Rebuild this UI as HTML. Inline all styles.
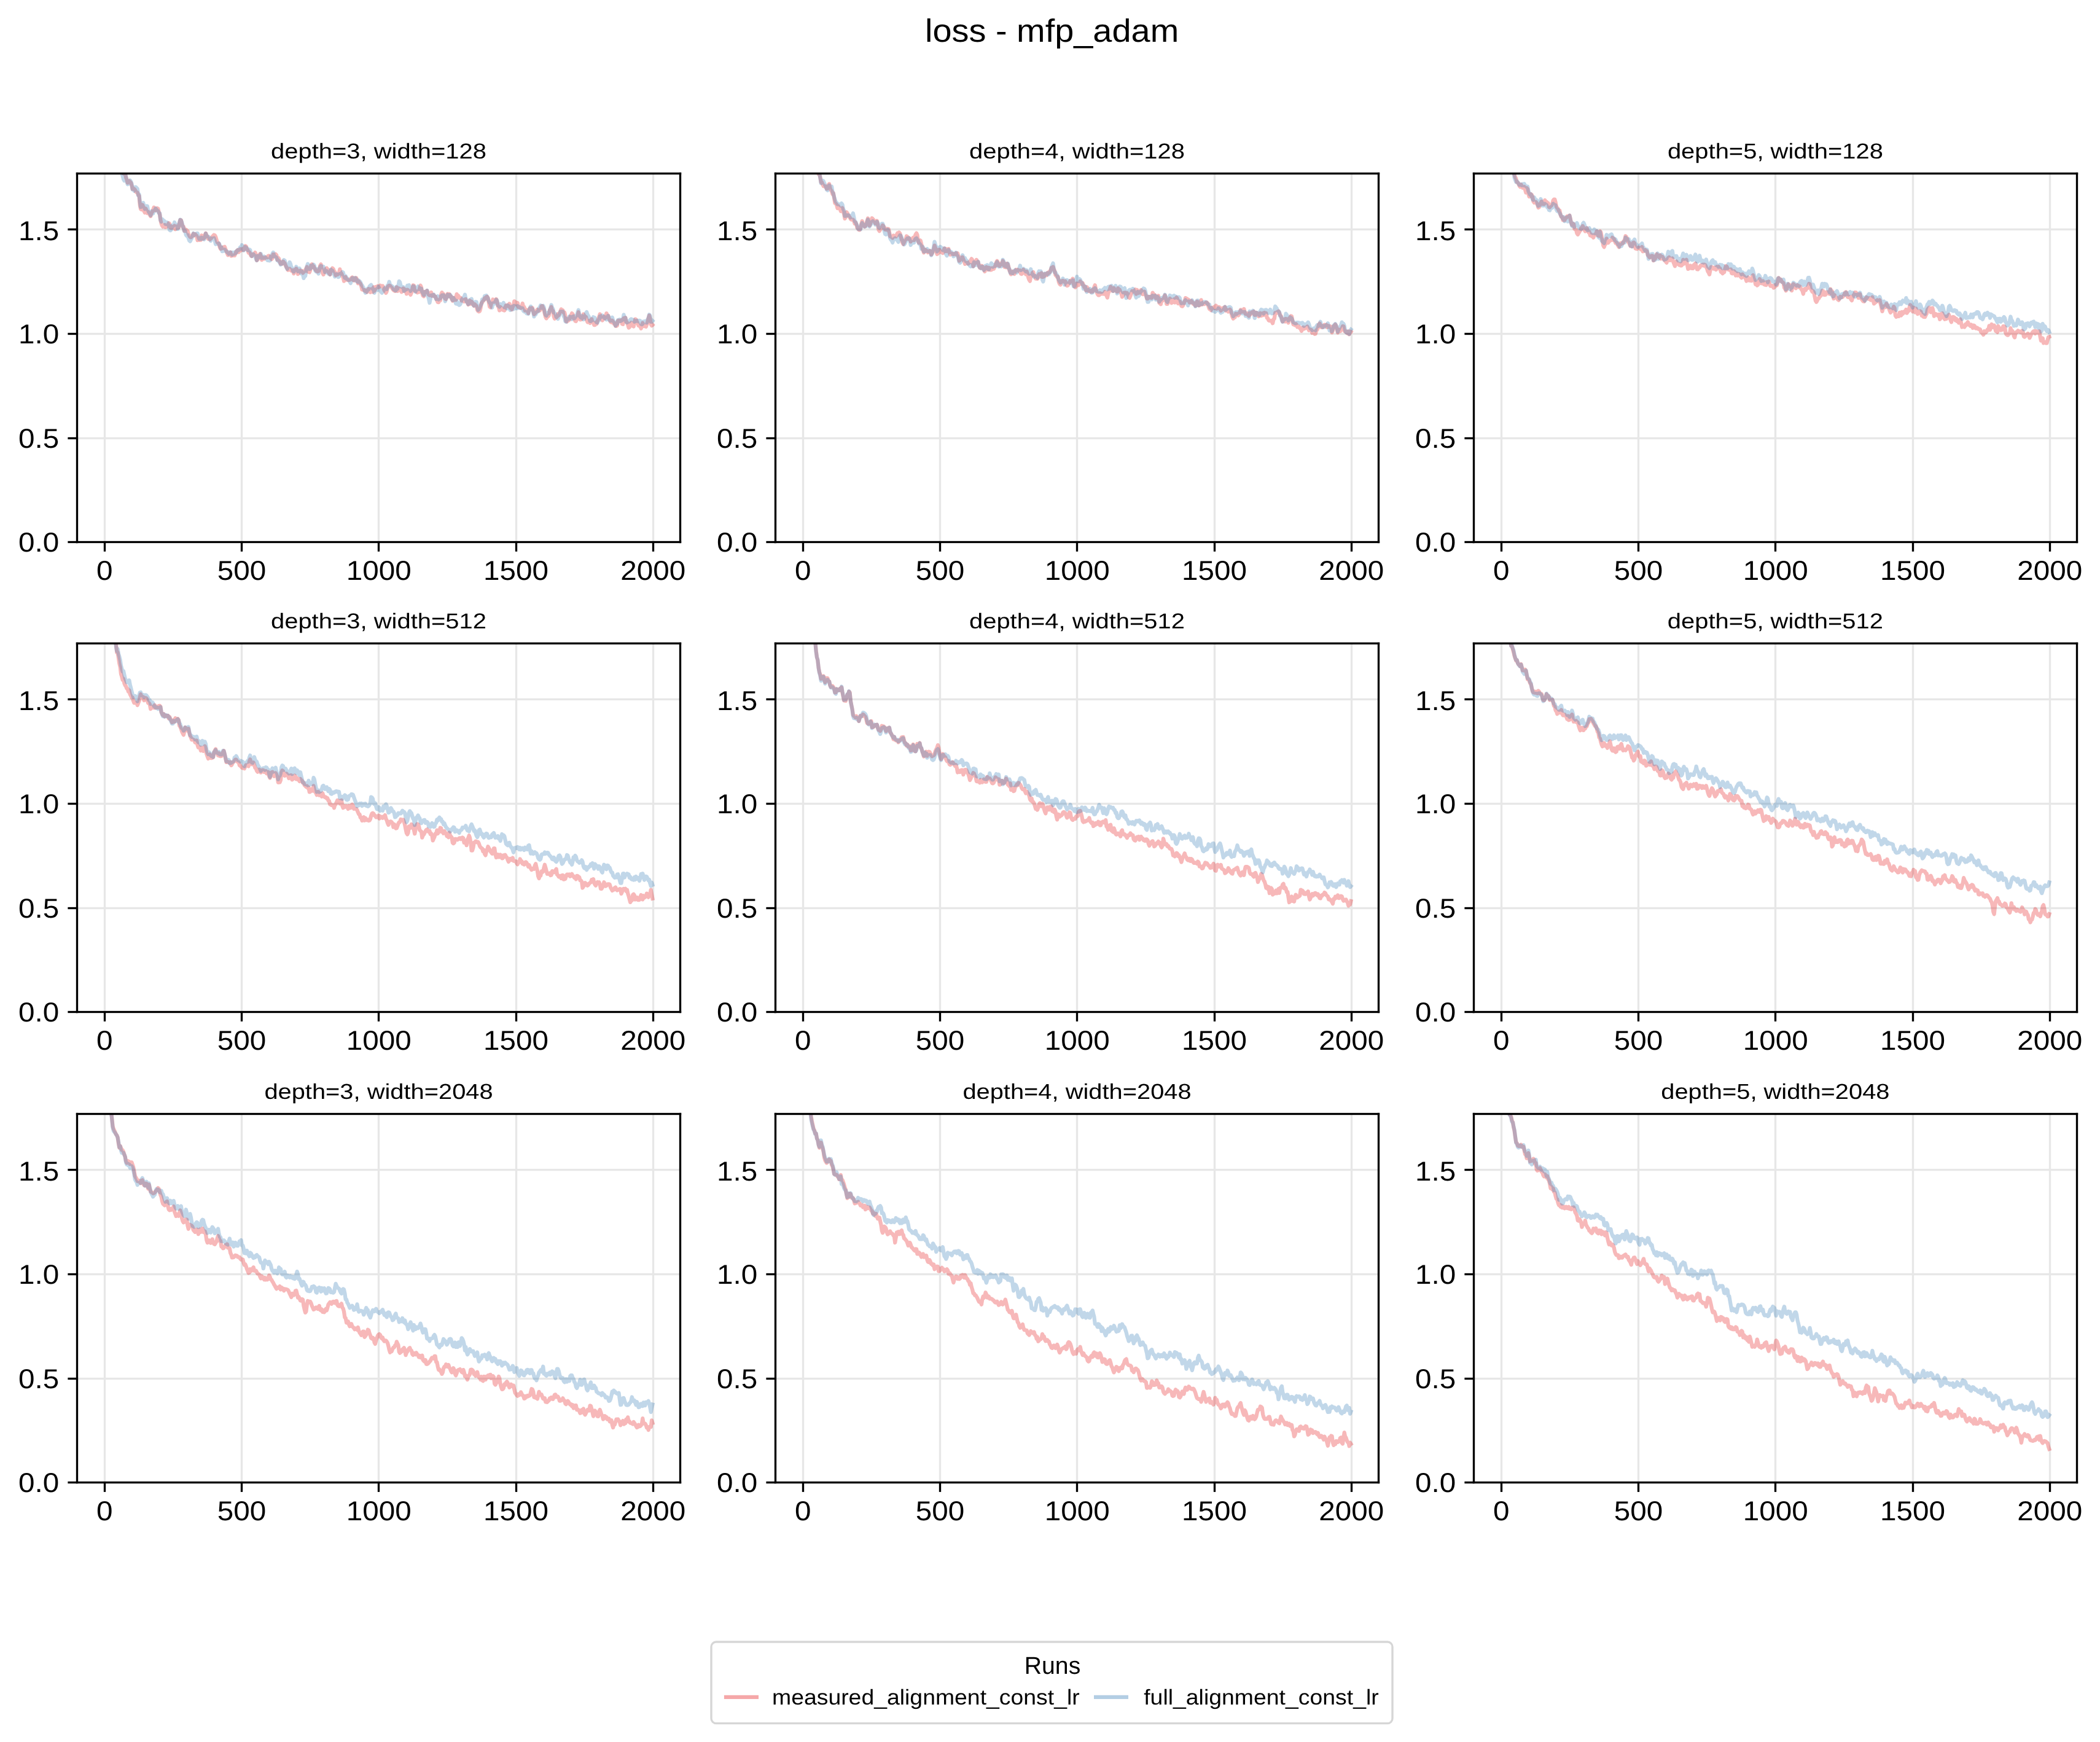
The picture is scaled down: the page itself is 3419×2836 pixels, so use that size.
<!DOCTYPE html><html><head><meta charset="utf-8"><title>loss - mfp_adam</title><style>
html,body{margin:0;padding:0;background:#fff;width:3419px;height:2836px;overflow:hidden}
text{font-family:"Liberation Sans",sans-serif;fill:#000;text-rendering:geometricPrecision}
.tl{font-size:44.5px}
.st{font-size:35.0px}
.sup{font-size:52.5px}
.lt8{font-size:35.0px}
.lt9{font-size:39.7px}
</style></head><body>
<svg width="3419" height="2836" viewBox="0 0 3419 2836" style="display:block;will-change:transform">
<rect width="100%" height="100%" fill="#ffffff"/>
<defs><clipPath id="c00"><rect x="125.5" y="282.8" width="981.9" height="600.0"/></clipPath><clipPath id="c01"><rect x="1262.5" y="282.8" width="981.9" height="600.0"/></clipPath><clipPath id="c02"><rect x="2399.5" y="282.8" width="981.9" height="600.0"/></clipPath><clipPath id="c10"><rect x="125.5" y="1047.8" width="981.9" height="600.0"/></clipPath><clipPath id="c11"><rect x="1262.5" y="1047.8" width="981.9" height="600.0"/></clipPath><clipPath id="c12"><rect x="2399.5" y="1047.8" width="981.9" height="600.0"/></clipPath><clipPath id="c20"><rect x="125.5" y="1813.8" width="981.9" height="600.0"/></clipPath><clipPath id="c21"><rect x="1262.5" y="1813.8" width="981.9" height="600.0"/></clipPath><clipPath id="c22"><rect x="2399.5" y="1813.8" width="981.9" height="600.0"/></clipPath></defs>
<rect x="168.833" y="282.8" width="3.333" height="600.0" fill="#e7e7e7"/><rect x="391.833" y="282.8" width="3.333" height="600.0" fill="#e7e7e7"/><rect x="614.833" y="282.8" width="3.333" height="600.0" fill="#e7e7e7"/><rect x="838.833" y="282.8" width="3.333" height="600.0" fill="#e7e7e7"/><rect x="1061.833" y="282.8" width="3.333" height="600.0" fill="#e7e7e7"/><rect x="125.5" y="711.833" width="981.9" height="3.333" fill="#e7e7e7"/><rect x="125.5" y="541.833" width="981.9" height="3.333" fill="#e7e7e7"/><rect x="125.5" y="371.833" width="981.9" height="3.333" fill="#e7e7e7"/><g clip-path="url(#c00)"><path d="M170.2,86.9 171.5,102.7 172.9,124.9 174.2,142.4 175.6,158.3 176.9,168.3 178.2,183.8 179.6,194.4 180.9,199.8 182.3,198.0 183.6,203.4 184.9,214.4 186.3,222.5 187.6,230.0 189.0,238.3 190.3,245.8 191.6,252.1 193.0,261.3 194.3,267.0 195.7,272.3 197.0,273.1 198.3,273.4 199.7,281.8 201.0,282.3 202.4,283.3 203.7,280.9 205.0,288.6 206.4,292.2 207.7,297.6 209.0,295.5 210.4,294.8 211.7,296.2 213.1,297.4 214.4,301.9 215.7,307.7 217.1,306.7 218.4,307.6 219.8,309.1 221.1,312.1 222.4,313.2 223.8,313.6 225.1,317.1 226.5,318.7 227.8,334.1 229.1,340.4 230.5,341.1 231.8,333.5 233.2,336.3 234.5,343.6 235.8,346.2 237.2,339.5 238.5,342.7 239.9,347.1 241.2,344.7 242.5,347.5 243.9,349.5 245.2,352.0 246.6,346.8 247.9,345.0 249.2,341.8 250.6,337.8 251.9,339.0 253.3,342.5 254.6,339.8 255.9,338.9 257.3,339.7 258.6,344.8 260.0,348.5 261.3,358.0 262.6,363.9 264.0,367.4 265.3,369.1 266.7,366.6 268.0,366.1 269.3,369.9 270.7,369.3 272.0,369.0 273.4,366.6 274.7,363.1 276.0,364.3 277.4,370.6 278.7,371.0 280.1,369.2 281.4,370.6 282.7,369.7 284.1,367.6 285.4,373.2 286.7,371.7 288.1,368.6 289.4,370.8 290.8,370.7 292.1,363.4 293.4,358.2 294.8,358.3 296.1,363.9 297.5,369.5 298.8,368.9 300.1,375.8 301.5,375.8 302.8,373.8 304.2,376.5 305.5,376.2 306.8,380.8 308.2,383.8 309.5,385.7 310.9,386.4 312.2,385.1 313.5,383.6 314.9,380.5 316.2,383.3 317.6,381.2 318.9,382.9 320.2,384.1 321.6,391.1 322.9,387.3 324.3,390.8 325.6,390.6 326.9,390.7 328.3,383.2 329.6,385.9 331.0,388.4 332.3,387.4 333.6,382.6 335.0,379.7 336.3,383.4 337.7,385.4 339.0,389.0 340.3,389.1 341.7,389.9 343.0,388.3 344.4,387.4 345.7,385.3 347.0,384.0 348.4,382.5 349.7,383.1 351.1,385.6 352.4,390.0 353.7,394.5 355.1,395.4 356.4,396.8 357.8,402.4 359.1,405.2 360.4,404.5 361.8,402.7 363.1,403.9 364.4,402.3 365.8,401.7 367.1,405.5 368.5,408.7 369.8,412.3 371.1,415.3 372.5,413.3 373.8,412.5 375.2,410.7 376.5,416.7 377.8,415.6 379.2,416.1 380.5,415.4 381.9,416.0 383.2,413.4 384.5,409.9 385.9,408.3 387.2,407.0 388.6,410.5 389.9,407.8 391.2,405.4 392.6,407.6 393.9,405.8 395.3,405.2 396.6,406.8 397.9,403.5 399.3,400.4 400.6,401.0 402.0,405.7 403.3,407.0 404.6,411.5 406.0,410.5 407.3,413.3 408.7,416.5 410.0,417.0 411.3,413.9 412.7,413.8 414.0,414.2 415.4,411.0 416.7,414.9 418.0,423.8 419.4,422.6 420.7,419.5 422.1,415.4 423.4,413.3 424.7,417.1 426.1,423.1 427.4,418.9 428.8,420.7 430.1,421.3 431.4,419.7 432.8,418.7 434.1,419.0 435.5,419.0 436.8,416.5 438.1,416.4 439.5,418.7 440.8,420.2 442.1,422.0 443.5,420.3 444.8,414.0 446.2,417.0 447.5,415.4 448.8,413.9 450.2,415.4 451.5,423.0 452.9,419.7 454.2,421.3 455.5,426.0 456.9,429.6 458.2,427.4 459.6,429.5 460.9,425.7 462.2,427.1 463.6,428.5 464.9,432.1 466.3,434.8 467.6,436.9 468.9,439.6 470.3,438.6 471.6,437.5 473.0,439.5 474.3,440.7 475.6,439.8 477.0,440.6 478.3,445.4 479.7,439.5 481.0,439.9 482.3,437.2 483.7,440.0 485.0,446.1 486.4,444.4 487.7,441.4 489.0,440.3 490.4,441.3 491.7,440.9 493.1,444.4 494.4,442.7 495.7,441.7 497.1,439.7 498.4,437.2 499.8,434.6 501.1,442.1 502.4,442.6 503.8,443.3 505.1,439.9 506.5,431.8 507.8,430.3 509.1,434.3 510.5,433.5 511.8,436.7 513.2,438.2 514.5,440.2 515.8,441.5 517.2,442.1 518.5,441.4 519.8,438.3 521.2,432.6 522.5,430.4 523.9,438.6 525.2,444.3 526.5,447.0 527.9,443.8 529.2,440.7 530.6,437.6 531.9,436.6 533.2,438.2 534.6,443.2 535.9,444.5 537.3,447.1 538.6,439.8 539.9,440.0 541.3,436.6 542.6,437.9 544.0,441.9 545.3,442.8 546.6,448.2 548.0,446.7 549.3,447.0 550.7,446.3 552.0,443.9 553.3,438.4 554.7,444.8 556.0,445.2 557.4,449.3 558.7,451.6 560.0,457.6 561.4,452.6 562.7,451.1 564.1,455.5 565.4,455.1 566.7,456.1 568.1,456.0 569.4,455.5 570.8,454.5 572.1,452.7 573.4,451.6 574.8,455.9 576.1,456.7 577.5,454.5 578.8,452.4 580.1,452.5 581.5,456.6 582.8,461.2 584.2,458.2 585.5,460.8 586.8,461.8 588.2,465.9 589.5,471.5 590.9,471.7 592.2,472.3 593.5,472.2 594.9,473.9 596.2,473.0 597.5,475.4 598.9,472.1 600.2,470.3 601.6,473.4 602.9,475.7 604.2,470.8 605.6,472.0 606.9,475.3 608.3,467.4 609.6,473.7 610.9,471.0 612.3,467.0 613.6,467.7 615.0,465.7 616.3,467.8 617.6,467.1 619.0,464.7 620.3,465.8 621.7,465.7 623.0,465.5 624.3,468.2 625.7,472.7 627.0,474.5 628.4,476.9 629.7,474.1 631.0,467.4 632.4,465.5 633.7,464.9 635.1,465.2 636.4,467.2 637.7,468.1 639.1,470.2 640.4,472.1 641.8,473.0 643.1,473.8 644.4,472.0 645.8,467.6 647.1,473.9 648.5,472.9 649.8,469.6 651.1,472.0 652.5,471.1 653.8,475.2 655.2,472.6 656.5,469.5 657.8,470.3 659.2,474.1 660.5,471.9 661.9,478.4 663.2,471.6 664.5,472.4 665.9,474.3 667.2,477.8 668.5,479.9 669.9,476.3 671.2,470.6 672.6,464.4 673.9,464.9 675.2,473.5 676.6,473.8 677.9,474.4 679.3,476.2 680.6,474.6 681.9,475.5 683.3,469.0 684.6,464.8 686.0,468.0 687.3,477.3 688.6,481.3 690.0,482.4 691.3,474.8 692.7,475.3 694.0,475.2 695.3,473.4 696.7,476.9 698.0,479.6 699.4,480.6 700.7,478.4 702.0,475.9 703.4,481.8 704.7,481.5 706.1,480.3 707.4,482.7 708.7,482.7 710.1,486.2 711.4,488.7 712.8,491.9 714.1,492.1 715.4,488.0 716.8,489.1 718.1,479.9 719.5,476.2 720.8,480.3 722.1,478.9 723.5,483.9 724.8,486.2 726.2,487.0 727.5,483.2 728.8,478.4 730.2,481.2 731.5,478.8 732.9,483.0 734.2,482.4 735.5,486.8 736.9,489.7 738.2,489.0 739.6,484.7 740.9,486.5 742.2,488.2 743.6,478.8 744.9,483.5 746.2,481.4 747.6,484.8 748.9,484.7 750.3,484.9 751.6,489.5 752.9,489.1 754.3,488.5 755.6,491.0 757.0,487.5 758.3,487.0 759.6,490.7 761.0,492.7 762.3,495.9 763.7,494.3 765.0,489.4 766.3,494.8 767.7,490.9 769.0,492.7 770.4,495.7 771.7,497.8 773.0,495.2 774.4,497.4 775.7,498.1 777.1,504.6 778.4,506.4 779.7,507.3 781.1,506.5 782.4,501.8 783.8,493.8 785.1,492.2 786.4,490.2 787.8,488.6 789.1,485.4 790.5,486.7 791.8,483.3 793.1,483.0 794.5,485.0 795.8,492.2 797.2,499.3 798.5,500.5 799.8,494.0 801.2,492.6 802.5,487.5 803.9,490.0 805.2,491.5 806.5,490.9 807.9,486.9 809.2,490.7 810.6,498.0 811.9,500.1 813.2,505.4 814.6,499.7 815.9,502.0 817.3,502.9 818.6,504.5 819.9,502.4 821.3,505.5 822.6,501.0 823.9,497.1 825.3,497.1 826.6,496.4 828.0,498.8 829.3,494.4 830.6,501.3 832.0,498.3 833.3,504.0 834.7,500.0 836.0,496.8 837.3,490.4 838.7,491.5 840.0,492.8 841.4,496.0 842.7,493.0 844.0,499.8 845.4,499.5 846.7,501.0 848.1,501.4 849.4,499.9 850.7,494.0 852.1,499.6 853.4,499.9 854.8,505.6 856.1,503.9 857.4,505.1 858.8,505.7 860.1,509.9 861.5,504.3 862.8,501.7 864.1,501.6 865.5,503.7 866.8,501.3 868.2,506.9 869.5,511.7 870.8,510.2 872.2,508.8 873.5,505.9 874.9,504.0 876.2,506.1 877.5,504.8 878.9,505.4 880.2,503.1 881.6,498.5 882.9,498.1 884.2,501.5 885.6,504.3 886.9,510.9 888.3,516.1 889.6,518.3 890.9,515.7 892.3,515.2 893.6,513.4 895.0,504.8 896.3,502.9 897.6,499.7 899.0,506.9 900.3,506.0 901.6,514.9 903.0,518.8 904.3,515.9 905.7,516.7 907.0,515.7 908.3,511.1 909.7,513.1 911.0,510.2 912.4,506.7 913.7,503.5 915.0,506.6 916.4,505.3 917.7,508.9 919.1,508.6 920.4,514.5 921.7,522.9 923.1,523.5 924.4,519.8 925.8,521.8 927.1,520.3 928.4,515.6 929.8,513.2 931.1,510.1 932.5,511.5 933.8,518.2 935.1,519.2 936.5,522.6 937.8,523.0 939.2,519.3 940.5,513.4 941.8,508.3 943.2,514.7 944.5,520.3 945.9,520.1 947.2,518.9 948.5,517.7 949.9,511.5 951.2,513.6 952.6,516.6 953.9,515.9 955.2,520.8 956.6,524.5 957.9,522.1 959.3,522.4 960.6,526.0 961.9,523.3 963.3,519.4 964.6,524.9 966.0,525.0 967.3,529.2 968.6,529.2 970.0,525.1 971.3,527.3 972.7,522.8 974.0,519.8 975.3,515.9 976.7,511.5 978.0,516.5 979.3,518.2 980.7,521.6 982.0,516.8 983.4,515.3 984.7,518.6 986.0,514.9 987.4,510.1 988.7,513.1 990.1,513.6 991.4,518.7 992.7,520.8 994.1,524.1 995.4,524.8 996.8,521.8 998.1,523.7 999.4,527.0 1000.8,526.2 1002.1,530.6 1003.5,530.8 1004.8,530.1 1006.1,522.1 1007.5,521.6 1008.8,522.7 1010.2,522.5 1011.5,521.4 1012.8,527.4 1014.2,527.9 1015.5,518.1 1016.9,518.3 1018.2,517.2 1019.5,523.9 1020.9,525.1 1022.2,528.5 1023.6,533.5 1024.9,532.7 1026.2,527.8 1027.6,525.2 1028.9,526.5 1030.3,530.7 1031.6,531.4 1032.9,525.1 1034.3,519.6 1035.6,520.6 1037.0,523.5 1038.3,526.7 1039.6,530.1 1041.0,530.9 1042.3,530.8 1043.7,534.8 1045.0,529.9 1046.3,525.7 1047.7,529.6 1049.0,531.1 1050.4,530.3 1051.7,531.8 1053.0,528.3 1054.4,523.7 1055.7,518.2 1057.0,513.6 1058.4,518.6 1059.7,527.9 1061.1,530.2 1062.4,528.9" fill="none" stroke="#e41a1c" stroke-opacity="0.31" stroke-width="6.25" stroke-linejoin="round" stroke-linecap="square"/><path d="M170.2,88.8 171.5,107.5 172.9,123.9 174.2,139.4 175.6,156.7 176.9,164.5 178.2,180.7 179.6,190.4 180.9,204.8 182.3,212.0 183.6,221.3 184.9,229.3 186.3,235.8 187.6,241.8 189.0,246.6 190.3,249.9 191.6,259.0 193.0,263.3 194.3,262.8 195.7,270.6 197.0,275.3 198.3,281.9 199.7,286.3 201.0,291.7 202.4,294.1 203.7,282.6 205.0,287.3 206.4,295.2 207.7,300.0 209.0,299.6 210.4,296.2 211.7,293.6 213.1,295.7 214.4,298.7 215.7,308.5 217.1,308.5 218.4,310.7 219.8,304.7 221.1,304.6 222.4,306.0 223.8,307.4 225.1,318.0 226.5,316.3 227.8,328.7 229.1,337.0 230.5,336.5 231.8,331.4 233.2,330.2 234.5,335.6 235.8,340.2 237.2,338.5 238.5,335.4 239.9,335.6 241.2,342.8 242.5,345.6 243.9,347.1 245.2,350.5 246.6,343.9 247.9,345.3 249.2,347.5 250.6,343.0 251.9,343.0 253.3,339.5 254.6,341.1 255.9,342.9 257.3,343.6 258.6,347.1 260.0,347.1 261.3,358.3 262.6,360.9 264.0,356.6 265.3,358.2 266.7,359.3 268.0,360.1 269.3,364.7 270.7,365.0 272.0,362.2 273.4,363.9 274.7,366.9 276.0,374.1 277.4,375.1 278.7,373.9 280.1,367.2 281.4,368.7 282.7,366.8 284.1,362.0 285.4,365.7 286.7,365.7 288.1,366.3 289.4,372.8 290.8,369.2 292.1,362.4 293.4,357.6 294.8,358.9 296.1,362.0 297.5,368.4 298.8,371.3 300.1,376.3 301.5,375.9 302.8,382.3 304.2,384.2 305.5,382.5 306.8,387.7 308.2,391.6 309.5,392.9 310.9,390.0 312.2,387.5 313.5,383.3 314.9,379.8 316.2,382.8 317.6,381.7 318.9,380.8 320.2,380.1 321.6,379.8 322.9,385.8 324.3,389.0 325.6,387.7 326.9,388.9 328.3,386.9 329.6,388.8 331.0,388.5 332.3,389.8 333.6,386.2 335.0,380.1 336.3,384.5 337.7,384.6 339.0,385.1 340.3,386.3 341.7,389.8 343.0,392.0 344.4,388.2 345.7,388.3 347.0,388.1 348.4,387.7 349.7,391.8 351.1,397.5 352.4,396.5 353.7,397.2 355.1,396.6 356.4,396.2 357.8,399.1 359.1,403.9 360.4,402.3 361.8,409.2 363.1,407.8 364.4,408.5 365.8,406.2 367.1,408.2 368.5,409.0 369.8,410.7 371.1,410.3 372.5,413.4 373.8,412.7 375.2,410.7 376.5,411.1 377.8,414.8 379.2,411.0 380.5,411.3 381.9,413.3 383.2,410.3 384.5,411.4 385.9,407.9 387.2,406.9 388.6,407.3 389.9,405.0 391.2,402.4 392.6,404.6 393.9,399.0 395.3,402.6 396.6,407.8 397.9,404.3 399.3,402.1 400.6,404.9 402.0,404.1 403.3,407.5 404.6,406.1 406.0,406.1 407.3,407.2 408.7,414.0 410.0,417.0 411.3,416.2 412.7,413.9 414.0,416.3 415.4,416.7 416.7,421.2 418.0,424.0 419.4,416.6 420.7,419.4 422.1,417.2 423.4,417.0 424.7,413.3 426.1,420.1 427.4,418.5 428.8,419.8 430.1,417.6 431.4,419.5 432.8,419.7 434.1,421.2 435.5,423.7 436.8,422.8 438.1,424.4 439.5,424.2 440.8,417.2 442.1,418.4 443.5,413.1 444.8,411.0 446.2,416.5 447.5,418.2 448.8,418.3 450.2,419.4 451.5,423.9 452.9,423.6 454.2,426.3 455.5,426.2 456.9,430.8 458.2,428.3 459.6,429.3 460.9,426.7 462.2,423.2 463.6,424.2 464.9,429.2 466.3,435.3 467.6,438.0 468.9,433.5 470.3,431.2 471.6,426.9 473.0,429.9 474.3,435.4 475.6,436.2 477.0,441.2 478.3,442.3 479.7,440.1 481.0,439.5 482.3,434.2 483.7,437.4 485.0,441.7 486.4,439.7 487.7,437.1 489.0,441.6 490.4,445.4 491.7,441.9 493.1,446.8 494.4,452.9 495.7,450.0 497.1,449.4 498.4,440.3 499.8,433.4 501.1,429.7 502.4,433.7 503.8,437.9 505.1,437.6 506.5,432.4 507.8,435.3 509.1,433.4 510.5,430.7 511.8,432.5 513.2,440.5 514.5,442.1 515.8,437.9 517.2,442.6 518.5,445.6 519.8,440.2 521.2,434.9 522.5,433.1 523.9,435.1 525.2,435.4 526.5,434.0 527.9,438.1 529.2,443.2 530.6,443.1 531.9,441.2 533.2,443.6 534.6,445.6 535.9,445.3 537.3,446.8 538.6,438.6 539.9,440.6 541.3,440.7 542.6,443.7 544.0,446.7 545.3,450.4 546.6,448.6 548.0,446.3 549.3,447.0 550.7,451.0 552.0,450.5 553.3,446.0 554.7,446.2 556.0,445.2 557.4,442.9 558.7,443.7 560.0,448.7 561.4,452.5 562.7,449.4 564.1,453.8 565.4,453.2 566.7,455.4 568.1,456.3 569.4,458.3 570.8,460.9 572.1,455.8 573.4,452.7 574.8,456.2 576.1,452.5 577.5,452.8 578.8,452.6 580.1,457.5 581.5,455.8 582.8,459.0 584.2,456.6 585.5,459.4 586.8,459.2 588.2,463.1 589.5,464.6 590.9,467.1 592.2,469.2 593.5,473.1 594.9,476.7 596.2,475.8 597.5,473.7 598.9,469.6 600.2,471.1 601.6,466.3 602.9,465.0 604.2,463.8 605.6,467.2 606.9,470.5 608.3,471.7 609.6,476.8 610.9,471.8 612.3,472.3 613.6,470.6 615.0,472.2 616.3,466.6 617.6,470.1 619.0,471.2 620.3,474.9 621.7,476.7 623.0,474.5 624.3,474.4 625.7,469.9 627.0,468.5 628.4,469.9 629.7,470.8 631.0,464.5 632.4,463.8 633.7,458.8 635.1,464.2 636.4,465.1 637.7,465.5 639.1,466.7 640.4,470.4 641.8,471.6 643.1,468.8 644.4,473.0 645.8,466.7 647.1,470.3 648.5,465.5 649.8,457.8 651.1,459.4 652.5,465.4 653.8,467.1 655.2,467.0 656.5,467.0 657.8,473.8 659.2,472.3 660.5,468.6 661.9,471.0 663.2,464.9 664.5,465.2 665.9,464.2 667.2,469.1 668.5,473.8 669.9,469.9 671.2,470.5 672.6,466.0 673.9,466.3 675.2,472.9 676.6,475.0 677.9,470.2 679.3,468.0 680.6,466.4 681.9,470.8 683.3,469.0 684.6,470.9 686.0,470.1 687.3,475.3 688.6,476.8 690.0,480.4 691.3,475.4 692.7,475.3 694.0,479.5 695.3,472.9 696.7,481.5 698.0,486.2 699.4,493.0 700.7,486.7 702.0,480.6 703.4,481.5 704.7,480.2 706.1,479.5 707.4,482.3 708.7,482.9 710.1,486.9 711.4,486.4 712.8,482.2 714.1,487.6 715.4,485.2 716.8,485.7 718.1,482.7 719.5,480.9 720.8,482.3 722.1,480.6 723.5,483.8 724.8,490.5 726.2,485.5 727.5,483.4 728.8,479.8 730.2,482.8 731.5,480.3 732.9,480.2 734.2,482.0 735.5,486.3 736.9,488.6 738.2,485.0 739.6,487.7 740.9,489.4 742.2,494.3 743.6,489.7 744.9,495.0 746.2,493.8 747.6,496.6 748.9,495.8 750.3,493.2 751.6,488.3 752.9,486.1 754.3,486.2 755.6,483.4 757.0,479.6 758.3,486.9 759.6,491.2 761.0,492.4 762.3,495.2 763.7,494.1 765.0,488.1 766.3,492.7 767.7,486.6 769.0,492.0 770.4,496.4 771.7,497.7 773.0,497.2 774.4,491.4 775.7,491.5 777.1,499.4 778.4,504.7 779.7,503.2 781.1,500.1 782.4,497.2 783.8,494.9 785.1,487.3 786.4,488.7 787.8,488.2 789.1,481.8 790.5,485.9 791.8,481.1 793.1,483.1 794.5,485.8 795.8,490.0 797.2,492.7 798.5,494.4 799.8,498.5 801.2,500.7 802.5,493.6 803.9,494.9 805.2,494.4 806.5,491.1 807.9,488.0 809.2,488.7 810.6,497.0 811.9,496.3 813.2,499.5 814.6,495.1 815.9,496.9 817.3,496.3 818.6,497.3 819.9,493.0 821.3,500.4 822.6,500.0 823.9,497.7 825.3,502.3 826.6,497.2 828.0,498.4 829.3,499.2 830.6,504.9 832.0,503.0 833.3,503.7 834.7,498.9 836.0,503.3 837.3,497.7 838.7,500.1 840.0,501.8 841.4,502.1 842.7,498.2 844.0,501.3 845.4,499.8 846.7,500.7 848.1,501.9 849.4,501.7 850.7,501.9 852.1,506.0 853.4,507.2 854.8,506.8 856.1,508.7 857.4,510.1 858.8,508.5 860.1,510.9 861.5,504.6 862.8,501.7 864.1,498.9 865.5,504.6 866.8,503.0 868.2,508.7 869.5,515.4 870.8,511.0 872.2,512.0 873.5,508.6 874.9,507.3 876.2,507.3 877.5,501.8 878.9,500.5 880.2,497.2 881.6,501.4 882.9,498.6 884.2,497.8 885.6,500.7 886.9,507.6 888.3,512.8 889.6,513.9 890.9,511.1 892.3,508.8 893.6,509.9 895.0,505.6 896.3,501.2 897.6,496.5 899.0,501.3 900.3,503.0 901.6,509.0 903.0,509.7 904.3,511.4 905.7,516.1 907.0,516.0 908.3,519.1 909.7,515.1 911.0,511.7 912.4,507.3 913.7,507.2 915.0,509.2 916.4,507.4 917.7,514.8 919.1,516.8 920.4,523.0 921.7,524.0 923.1,521.0 924.4,518.6 925.8,519.3 927.1,515.3 928.4,516.4 929.8,516.1 931.1,519.7 932.5,515.7 933.8,514.9 935.1,518.3 936.5,516.6 937.8,514.0 939.2,513.5 940.5,508.4 941.8,504.7 943.2,512.7 944.5,515.7 945.9,517.2 947.2,514.2 948.5,515.5 949.9,520.1 951.2,519.6 952.6,514.6 953.9,509.8 955.2,508.1 956.6,512.4 957.9,514.3 959.3,517.0 960.6,522.7 961.9,522.9 963.3,521.4 964.6,521.4 966.0,516.3 967.3,518.6 968.6,517.6 970.0,522.6 971.3,524.8 972.7,525.3 974.0,521.5 975.3,521.6 976.7,515.0 978.0,514.6 979.3,515.8 980.7,513.5 982.0,515.2 983.4,515.7 984.7,518.3 986.0,516.9 987.4,520.3 988.7,519.9 990.1,514.2 991.4,516.6 992.7,521.8 994.1,522.2 995.4,518.2 996.8,516.7 998.1,521.3 999.4,524.1 1000.8,526.4 1002.1,530.3 1003.5,524.6 1004.8,527.4 1006.1,521.0 1007.5,523.1 1008.8,520.3 1010.2,522.8 1011.5,520.4 1012.8,521.5 1014.2,520.3 1015.5,512.4 1016.9,519.9 1018.2,517.1 1019.5,524.3 1020.9,525.1 1022.2,522.9 1023.6,523.7 1024.9,523.3 1026.2,520.5 1027.6,519.4 1028.9,520.1 1030.3,520.9 1031.6,520.9 1032.9,523.7 1034.3,523.3 1035.6,522.3 1037.0,522.1 1038.3,521.9 1039.6,523.3 1041.0,521.9 1042.3,522.2 1043.7,527.6 1045.0,528.1 1046.3,527.2 1047.7,523.4 1049.0,523.8 1050.4,522.9 1051.7,525.2 1053.0,525.3 1054.4,520.2 1055.7,517.9 1057.0,512.2 1058.4,514.1 1059.7,523.9 1061.1,523.8 1062.4,522.4" fill="none" stroke="#377eb8" stroke-opacity="0.31" stroke-width="6.25" stroke-linejoin="round" stroke-linecap="square"/></g><rect x="123.833" y="280.833" width="985.333" height="3.333" fill="#000"/><rect x="123.833" y="880.833" width="985.333" height="3.333" fill="#000"/><rect x="123.833" y="280.833" width="3.333" height="603.333" fill="#000"/><rect x="1105.833" y="280.833" width="3.333" height="603.333" fill="#000"/><rect x="110.4" y="880.833" width="15.1" height="3.333" fill="#000"/><rect x="110.4" y="711.833" width="15.1" height="3.333" fill="#000"/><rect x="110.4" y="541.833" width="15.1" height="3.333" fill="#000"/><rect x="110.4" y="371.833" width="15.1" height="3.333" fill="#000"/><rect x="168.833" y="882.8" width="3.333" height="15.1" fill="#000"/><rect x="391.833" y="882.8" width="3.333" height="15.1" fill="#000"/><rect x="614.833" y="882.8" width="3.333" height="15.1" fill="#000"/><rect x="838.833" y="882.8" width="3.333" height="15.1" fill="#000"/><rect x="1061.833" y="882.8" width="3.333" height="15.1" fill="#000"/><text x="96.3" y="898.4" text-anchor="end" class="tl" textLength="66.25" lengthAdjust="spacingAndGlyphs">0.0</text><text x="96.3" y="728.8" text-anchor="end" class="tl" textLength="66.25" lengthAdjust="spacingAndGlyphs">0.5</text><text x="96.3" y="559.1" text-anchor="end" class="tl" textLength="66.25" lengthAdjust="spacingAndGlyphs">1.0</text><text x="96.3" y="391.0" text-anchor="end" class="tl" textLength="66.25" lengthAdjust="spacingAndGlyphs">1.5</text><text x="170.2" y="943.9" text-anchor="middle" class="tl" textLength="26.50" lengthAdjust="spacingAndGlyphs">0</text><text x="393.5" y="943.9" text-anchor="middle" class="tl" textLength="79.50" lengthAdjust="spacingAndGlyphs">500</text><text x="616.8" y="943.9" text-anchor="middle" class="tl" textLength="106.00" lengthAdjust="spacingAndGlyphs">1000</text><text x="840.0" y="943.9" text-anchor="middle" class="tl" textLength="106.00" lengthAdjust="spacingAndGlyphs">1500</text><text x="1063.3" y="943.9" text-anchor="middle" class="tl" textLength="105.88" lengthAdjust="spacingAndGlyphs">2000</text><text x="616.5" y="257.6" text-anchor="middle" class="st" textLength="351.00" lengthAdjust="spacingAndGlyphs">depth=3, width=128</text>
<rect x="1305.833" y="282.8" width="3.333" height="600.0" fill="#e7e7e7"/><rect x="1528.833" y="282.8" width="3.333" height="600.0" fill="#e7e7e7"/><rect x="1751.833" y="282.8" width="3.333" height="600.0" fill="#e7e7e7"/><rect x="1975.833" y="282.8" width="3.333" height="600.0" fill="#e7e7e7"/><rect x="2198.833" y="282.8" width="3.333" height="600.0" fill="#e7e7e7"/><rect x="1262.5" y="711.833" width="981.9" height="3.333" fill="#e7e7e7"/><rect x="1262.5" y="541.833" width="981.9" height="3.333" fill="#e7e7e7"/><rect x="1262.5" y="371.833" width="981.9" height="3.333" fill="#e7e7e7"/><g clip-path="url(#c01)"><path d="M1307.2,85.5 1308.5,106.3 1309.9,124.0 1311.2,139.9 1312.6,153.9 1313.9,167.8 1315.2,182.8 1316.6,192.9 1317.9,204.5 1319.3,220.1 1320.6,231.1 1321.9,236.2 1323.3,240.0 1324.6,242.1 1326.0,252.6 1327.3,260.9 1328.6,267.8 1330.0,272.2 1331.3,278.1 1332.7,283.5 1334.0,282.9 1335.3,288.3 1336.7,296.7 1338.0,296.6 1339.4,300.1 1340.7,303.0 1342.0,302.4 1343.4,304.2 1344.7,303.9 1346.0,307.4 1347.4,304.8 1348.7,301.2 1350.1,299.5 1351.4,306.1 1352.7,309.6 1354.1,311.0 1355.4,316.1 1356.8,314.4 1358.1,322.6 1359.4,330.7 1360.8,331.5 1362.1,333.2 1363.5,339.1 1364.8,335.4 1366.1,338.1 1367.5,339.3 1368.8,343.7 1370.2,340.9 1371.5,338.6 1372.8,344.4 1374.2,348.7 1375.5,355.9 1376.9,353.1 1378.2,345.3 1379.5,346.9 1380.9,350.2 1382.2,352.0 1383.6,354.1 1384.9,356.5 1386.2,357.6 1387.6,357.5 1388.9,357.7 1390.3,359.7 1391.6,364.0 1392.9,362.0 1394.3,365.5 1395.6,371.0 1397.0,371.1 1398.3,374.2 1399.6,374.3 1401.0,371.7 1402.3,364.6 1403.7,360.0 1405.0,364.7 1406.3,365.4 1407.7,368.9 1409.0,367.9 1410.4,364.4 1411.7,359.8 1413.0,355.5 1414.4,358.4 1415.7,367.3 1417.1,364.1 1418.4,359.5 1419.7,355.2 1421.1,356.7 1422.4,358.1 1423.7,360.4 1425.1,363.7 1426.4,363.0 1427.8,359.6 1429.1,365.6 1430.4,373.7 1431.8,376.1 1433.1,373.2 1434.5,372.1 1435.8,369.6 1437.1,366.8 1438.5,368.3 1439.8,370.5 1441.2,373.8 1442.5,373.7 1443.8,372.6 1445.2,374.7 1446.5,372.8 1447.9,377.9 1449.2,384.8 1450.5,384.9 1451.9,386.3 1453.2,387.4 1454.6,383.4 1455.9,384.1 1457.2,384.9 1458.6,385.1 1459.9,382.2 1461.3,379.5 1462.6,382.1 1463.9,378.5 1465.3,380.2 1466.6,385.5 1468.0,390.6 1469.3,395.0 1470.6,397.4 1472.0,394.6 1473.3,391.6 1474.7,389.5 1476.0,384.5 1477.3,385.3 1478.7,388.7 1480.0,387.7 1481.4,389.2 1482.7,393.4 1484.0,390.8 1485.4,388.7 1486.7,387.0 1488.1,391.0 1489.4,385.5 1490.7,381.9 1492.1,379.6 1493.4,382.3 1494.8,392.8 1496.1,395.3 1497.4,390.9 1498.8,391.9 1500.1,397.3 1501.4,402.0 1502.8,407.5 1504.1,411.2 1505.5,406.0 1506.8,406.9 1508.1,408.0 1509.5,408.9 1510.8,411.0 1512.2,410.4 1513.5,408.3 1514.8,408.7 1516.2,414.4 1517.5,412.2 1518.9,409.6 1520.2,406.0 1521.5,399.6 1522.9,403.8 1524.2,408.6 1525.6,413.8 1526.9,412.9 1528.2,406.3 1529.6,406.5 1530.9,410.4 1532.3,410.5 1533.6,409.6 1534.9,412.0 1536.3,408.7 1537.6,404.5 1539.0,404.6 1540.3,409.1 1541.6,408.7 1543.0,405.5 1544.3,405.2 1545.7,411.4 1547.0,414.6 1548.3,412.3 1549.7,413.4 1551.0,413.2 1552.4,414.1 1553.7,413.4 1555.0,413.6 1556.4,412.2 1557.7,414.6 1559.1,412.4 1560.4,417.4 1561.7,424.7 1563.1,422.8 1564.4,419.1 1565.8,419.9 1567.1,418.9 1568.4,422.5 1569.8,425.7 1571.1,429.7 1572.5,428.4 1573.8,427.7 1575.1,429.0 1576.5,429.4 1577.8,426.8 1579.1,427.2 1580.5,423.7 1581.8,421.4 1583.2,423.4 1584.5,433.5 1585.8,430.9 1587.2,425.5 1588.5,427.7 1589.9,422.9 1591.2,426.3 1592.5,426.3 1593.9,433.0 1595.2,436.1 1596.6,436.5 1597.9,432.6 1599.2,433.1 1600.6,436.2 1601.9,439.0 1603.3,442.0 1604.6,436.2 1605.9,434.7 1607.3,436.0 1608.6,439.1 1610.0,435.8 1611.3,436.4 1612.6,439.5 1614.0,439.4 1615.3,436.5 1616.7,437.8 1618.0,437.6 1619.3,434.9 1620.7,432.1 1622.0,427.5 1623.4,424.7 1624.7,427.8 1626.0,432.3 1627.4,433.0 1628.7,429.0 1630.1,430.7 1631.4,429.6 1632.7,424.8 1634.1,427.9 1635.4,434.6 1636.8,434.8 1638.1,435.2 1639.4,429.0 1640.8,430.1 1642.1,434.1 1643.5,440.5 1644.8,443.0 1646.1,446.6 1647.5,441.8 1648.8,442.7 1650.2,444.9 1651.5,446.0 1652.8,441.1 1654.2,439.0 1655.5,440.5 1656.8,439.0 1658.2,440.7 1659.5,441.9 1660.9,440.3 1662.2,445.8 1663.5,446.1 1664.9,444.4 1666.2,438.9 1667.6,442.1 1668.9,442.2 1670.2,446.5 1671.6,442.0 1672.9,445.1 1674.3,452.2 1675.6,455.6 1676.9,457.6 1678.3,448.6 1679.6,449.5 1681.0,444.0 1682.3,443.1 1683.6,447.7 1685.0,449.3 1686.3,453.6 1687.7,451.1 1689.0,454.0 1690.3,449.2 1691.7,446.3 1693.0,450.2 1694.4,446.5 1695.7,444.6 1697.0,451.0 1698.4,450.7 1699.7,450.1 1701.1,446.2 1702.4,448.0 1703.7,448.3 1705.1,444.4 1706.4,445.5 1707.8,442.8 1709.1,443.2 1710.4,440.0 1711.8,436.1 1713.1,435.4 1714.5,434.5 1715.8,438.5 1717.1,441.1 1718.5,447.8 1719.8,448.9 1721.2,451.2 1722.5,450.7 1723.8,459.1 1725.2,462.2 1726.5,463.5 1727.9,457.5 1729.2,457.5 1730.5,456.9 1731.9,458.0 1733.2,459.2 1734.5,457.9 1735.9,463.6 1737.2,465.1 1738.6,464.8 1739.9,460.9 1741.2,460.7 1742.6,456.8 1743.9,457.0 1745.3,457.4 1746.6,453.6 1747.9,461.9 1749.3,466.2 1750.6,467.8 1752.0,466.1 1753.3,461.5 1754.6,462.9 1756.0,464.1 1757.3,462.2 1758.7,458.0 1760.0,461.7 1761.3,462.5 1762.7,460.9 1764.0,464.0 1765.4,467.7 1766.7,467.1 1768.0,472.9 1769.4,467.4 1770.7,468.8 1772.1,473.7 1773.4,474.2 1774.7,473.5 1776.1,475.0 1777.4,472.8 1778.8,474.8 1780.1,471.8 1781.4,467.7 1782.8,464.3 1784.1,470.9 1785.5,475.4 1786.8,478.7 1788.1,480.6 1789.5,480.7 1790.8,477.1 1792.2,478.7 1793.5,478.1 1794.8,478.4 1796.2,478.5 1797.5,478.7 1798.9,475.1 1800.2,478.7 1801.5,481.3 1802.9,484.6 1804.2,478.0 1805.5,473.9 1806.9,470.7 1808.2,466.7 1809.6,473.0 1810.9,472.6 1812.2,473.7 1813.6,468.9 1814.9,472.7 1816.3,473.4 1817.6,472.8 1818.9,474.9 1820.3,469.3 1821.6,472.2 1823.0,471.8 1824.3,475.4 1825.6,478.1 1827.0,483.4 1828.3,481.3 1829.7,476.7 1831.0,476.6 1832.3,476.3 1833.7,477.9 1835.0,477.1 1836.4,479.3 1837.7,484.1 1839.0,485.0 1840.4,481.8 1841.7,477.9 1843.1,474.0 1844.4,475.0 1845.7,474.8 1847.1,473.0 1848.4,471.4 1849.8,478.6 1851.1,471.8 1852.4,475.6 1853.8,476.9 1855.1,475.2 1856.5,474.6 1857.8,472.0 1859.1,477.5 1860.5,479.1 1861.8,478.8 1863.2,474.6 1864.5,479.5 1865.8,481.4 1867.2,486.2 1868.5,486.3 1869.9,483.0 1871.2,484.2 1872.5,484.6 1873.9,482.7 1875.2,484.9 1876.6,476.6 1877.9,478.8 1879.2,479.6 1880.6,480.9 1881.9,485.6 1883.2,483.8 1884.6,484.3 1885.9,481.4 1887.3,493.0 1888.6,493.9 1889.9,495.2 1891.3,487.9 1892.6,489.5 1894.0,487.8 1895.3,484.2 1896.6,480.6 1898.0,485.2 1899.3,494.8 1900.7,494.9 1902.0,491.0 1903.3,489.3 1904.7,485.9 1906.0,487.7 1907.4,493.3 1908.7,492.1 1910.0,490.2 1911.4,487.2 1912.7,492.6 1914.1,486.3 1915.4,484.4 1916.7,485.9 1918.1,494.1 1919.4,494.1 1920.8,490.6 1922.1,492.6 1923.4,498.1 1924.8,498.7 1926.1,497.4 1927.5,493.9 1928.8,490.4 1930.1,485.1 1931.5,487.8 1932.8,486.6 1934.2,489.3 1935.5,488.3 1936.8,492.6 1938.2,492.5 1939.5,489.7 1940.9,491.5 1942.2,494.3 1943.5,495.3 1944.9,493.9 1946.2,497.9 1947.6,496.1 1948.9,490.9 1950.2,492.1 1951.6,497.4 1952.9,497.1 1954.3,494.3 1955.6,488.4 1956.9,495.7 1958.3,495.0 1959.6,495.1 1960.9,495.2 1962.3,493.6 1963.6,492.5 1965.0,492.7 1966.3,494.1 1967.6,499.0 1969.0,503.1 1970.3,503.4 1971.7,505.1 1973.0,501.0 1974.3,501.5 1975.7,500.3 1977.0,501.6 1978.4,500.4 1979.7,497.5 1981.0,502.7 1982.4,500.5 1983.7,499.8 1985.1,500.0 1986.4,503.1 1987.7,505.7 1989.1,503.1 1990.4,501.7 1991.8,503.3 1993.1,500.5 1994.4,499.8 1995.8,505.9 1997.1,505.1 1998.5,504.7 1999.8,507.4 2001.1,505.3 2002.5,503.8 2003.8,505.7 2005.2,511.8 2006.5,516.1 2007.8,518.7 2009.2,516.1 2010.5,516.5 2011.9,510.8 2013.2,512.3 2014.5,511.1 2015.9,513.5 2017.2,512.1 2018.6,508.4 2019.9,504.3 2021.2,504.5 2022.6,507.6 2023.9,505.6 2025.3,502.9 2026.6,508.4 2027.9,511.2 2029.3,511.2 2030.6,510.2 2032.0,512.6 2033.3,514.4 2034.6,509.7 2036.0,511.7 2037.3,509.4 2038.6,508.1 2040.0,508.5 2041.3,507.1 2042.7,512.8 2044.0,512.6 2045.3,509.0 2046.7,512.2 2048.0,510.5 2049.4,515.0 2050.7,512.6 2052.0,509.8 2053.4,514.1 2054.7,513.4 2056.1,510.1 2057.4,513.0 2058.7,508.9 2060.1,511.0 2061.4,510.0 2062.8,517.4 2064.1,518.3 2065.4,521.4 2066.8,522.1 2068.1,521.9 2069.5,522.3 2070.8,523.6 2072.1,526.3 2073.5,519.7 2074.8,518.7 2076.2,509.1 2077.5,510.2 2078.8,508.3 2080.2,507.7 2081.5,506.9 2082.9,509.3 2084.2,513.2 2085.5,514.4 2086.9,518.8 2088.2,523.4 2089.6,520.4 2090.9,519.8 2092.2,523.5 2093.6,518.9 2094.9,523.1 2096.3,522.8 2097.6,525.4 2098.9,518.0 2100.3,517.3 2101.6,514.5 2103.0,515.0 2104.3,521.8 2105.6,528.2 2107.0,528.6 2108.3,529.4 2109.7,527.2 2111.0,528.7 2112.3,532.4 2113.7,531.5 2115.0,531.7 2116.3,534.4 2117.7,535.3 2119.0,538.8 2120.4,533.9 2121.7,533.0 2123.0,535.5 2124.4,533.5 2125.7,534.2 2127.1,532.7 2128.4,531.5 2129.7,534.1 2131.1,537.8 2132.4,536.3 2133.8,536.8 2135.1,537.1 2136.4,542.1 2137.8,539.4 2139.1,540.7 2140.5,543.8 2141.8,543.4 2143.1,537.6 2144.5,536.9 2145.8,533.6 2147.2,528.4 2148.5,526.6 2149.8,529.6 2151.2,532.8 2152.5,532.1 2153.9,532.5 2155.2,529.7 2156.5,528.6 2157.9,529.4 2159.2,528.8 2160.6,532.8 2161.9,532.0 2163.2,530.6 2164.6,532.5 2165.9,531.2 2167.3,533.4 2168.6,541.3 2169.9,538.3 2171.3,531.2 2172.6,530.0 2174.0,528.4 2175.3,530.6 2176.6,535.3 2178.0,541.6 2179.3,536.4 2180.7,536.8 2182.0,539.3 2183.3,536.8 2184.7,534.6 2186.0,531.2 2187.4,531.4 2188.7,538.7 2190.0,539.7 2191.4,539.3 2192.7,541.8 2194.0,542.8 2195.4,539.6 2196.7,544.3 2198.1,539.6 2199.4,540.3" fill="none" stroke="#e41a1c" stroke-opacity="0.31" stroke-width="6.25" stroke-linejoin="round" stroke-linecap="square"/><path d="M1307.2,93.0 1308.5,110.1 1309.9,123.1 1311.2,144.0 1312.6,158.3 1313.9,171.9 1315.2,187.4 1316.6,199.0 1317.9,209.4 1319.3,216.6 1320.6,223.3 1321.9,232.4 1323.3,240.9 1324.6,246.1 1326.0,254.0 1327.3,260.4 1328.6,262.3 1330.0,266.5 1331.3,269.3 1332.7,276.1 1334.0,282.2 1335.3,288.8 1336.7,298.4 1338.0,295.3 1339.4,294.1 1340.7,295.1 1342.0,298.2 1343.4,301.4 1344.7,303.8 1346.0,308.8 1347.4,309.9 1348.7,304.4 1350.1,301.8 1351.4,303.7 1352.7,304.2 1354.1,303.7 1355.4,311.9 1356.8,315.4 1358.1,320.5 1359.4,325.1 1360.8,328.8 1362.1,329.9 1363.5,332.5 1364.8,332.8 1366.1,332.6 1367.5,333.2 1368.8,334.7 1370.2,331.1 1371.5,333.1 1372.8,340.3 1374.2,342.8 1375.5,351.5 1376.9,351.5 1378.2,350.5 1379.5,351.0 1380.9,350.3 1382.2,350.5 1383.6,351.3 1384.9,354.2 1386.2,351.7 1387.6,351.1 1388.9,347.3 1390.3,354.2 1391.6,360.4 1392.9,361.0 1394.3,364.8 1395.6,367.0 1397.0,372.8 1398.3,373.1 1399.6,373.0 1401.0,373.3 1402.3,366.0 1403.7,363.0 1405.0,368.0 1406.3,367.3 1407.7,368.9 1409.0,365.9 1410.4,367.9 1411.7,361.3 1413.0,357.5 1414.4,360.5 1415.7,368.8 1417.1,366.3 1418.4,364.2 1419.7,361.4 1421.1,360.1 1422.4,361.8 1423.7,362.1 1425.1,365.7 1426.4,363.6 1427.8,361.0 1429.1,363.2 1430.4,370.0 1431.8,371.1 1433.1,369.2 1434.5,368.0 1435.8,364.1 1437.1,364.1 1438.5,368.5 1439.8,375.8 1441.2,381.1 1442.5,381.8 1443.8,375.4 1445.2,373.8 1446.5,375.8 1447.9,382.1 1449.2,387.9 1450.5,390.4 1451.9,391.6 1453.2,395.0 1454.6,389.4 1455.9,389.0 1457.2,387.7 1458.6,389.5 1459.9,389.5 1461.3,391.9 1462.6,393.9 1463.9,385.9 1465.3,383.0 1466.6,383.7 1468.0,386.7 1469.3,390.8 1470.6,395.1 1472.0,398.1 1473.3,396.5 1474.7,393.3 1476.0,389.8 1477.3,388.1 1478.7,388.9 1480.0,387.5 1481.4,390.9 1482.7,399.0 1484.0,395.6 1485.4,394.2 1486.7,395.3 1488.1,395.2 1489.4,390.7 1490.7,388.6 1492.1,387.8 1493.4,390.8 1494.8,391.4 1496.1,396.9 1497.4,396.9 1498.8,398.8 1500.1,405.1 1501.4,401.5 1502.8,402.3 1504.1,409.5 1505.5,409.5 1506.8,408.9 1508.1,406.7 1509.5,405.4 1510.8,409.2 1512.2,408.9 1513.5,407.9 1514.8,409.2 1516.2,415.7 1517.5,413.1 1518.9,407.6 1520.2,402.3 1521.5,393.6 1522.9,398.7 1524.2,401.6 1525.6,409.5 1526.9,407.7 1528.2,403.2 1529.6,403.2 1530.9,401.7 1532.3,403.0 1533.6,404.0 1534.9,407.2 1536.3,405.8 1537.6,404.4 1539.0,409.0 1540.3,414.0 1541.6,416.3 1543.0,410.5 1544.3,406.6 1545.7,411.1 1547.0,409.2 1548.3,410.1 1549.7,411.4 1551.0,412.3 1552.4,417.4 1553.7,415.8 1555.0,415.5 1556.4,411.2 1557.7,415.8 1559.1,416.6 1560.4,421.2 1561.7,426.4 1563.1,427.8 1564.4,424.4 1565.8,424.1 1567.1,415.3 1568.4,418.9 1569.8,420.1 1571.1,420.1 1572.5,425.3 1573.8,424.2 1575.1,426.9 1576.5,430.0 1577.8,430.4 1579.1,432.9 1580.5,433.7 1581.8,431.6 1583.2,433.3 1584.5,433.7 1585.8,426.7 1587.2,427.9 1588.5,431.6 1589.9,429.1 1591.2,427.6 1592.5,426.1 1593.9,433.6 1595.2,435.3 1596.6,436.5 1597.9,437.1 1599.2,434.0 1600.6,435.1 1601.9,439.7 1603.3,437.9 1604.6,432.8 1605.9,434.8 1607.3,431.5 1608.6,437.8 1610.0,438.6 1611.3,435.0 1612.6,432.2 1614.0,428.4 1615.3,431.6 1616.7,434.4 1618.0,432.1 1619.3,430.9 1620.7,433.0 1622.0,429.8 1623.4,426.5 1624.7,429.0 1626.0,434.1 1627.4,433.8 1628.7,430.9 1630.1,433.7 1631.4,432.3 1632.7,422.9 1634.1,425.5 1635.4,429.2 1636.8,433.5 1638.1,433.8 1639.4,430.6 1640.8,429.1 1642.1,436.9 1643.5,438.0 1644.8,444.2 1646.1,443.2 1647.5,444.6 1648.8,444.9 1650.2,441.7 1651.5,440.6 1652.8,439.7 1654.2,441.7 1655.5,443.6 1656.8,440.1 1658.2,439.3 1659.5,437.1 1660.9,432.5 1662.2,439.9 1663.5,438.6 1664.9,438.1 1666.2,437.5 1667.6,439.4 1668.9,439.2 1670.2,442.1 1671.6,440.1 1672.9,442.6 1674.3,444.1 1675.6,445.6 1676.9,444.3 1678.3,438.2 1679.6,446.0 1681.0,446.1 1682.3,448.4 1683.6,450.7 1685.0,450.0 1686.3,449.1 1687.7,449.0 1689.0,452.5 1690.3,444.7 1691.7,441.5 1693.0,446.4 1694.4,441.6 1695.7,445.3 1697.0,455.5 1698.4,458.5 1699.7,451.3 1701.1,445.2 1702.4,445.5 1703.7,445.8 1705.1,444.5 1706.4,447.2 1707.8,446.4 1709.1,444.1 1710.4,442.1 1711.8,435.3 1713.1,432.1 1714.5,428.6 1715.8,438.7 1717.1,443.4 1718.5,443.6 1719.8,446.8 1721.2,447.9 1722.5,451.8 1723.8,455.7 1725.2,457.6 1726.5,460.2 1727.9,458.4 1729.2,456.8 1730.5,453.5 1731.9,459.4 1733.2,463.6 1734.5,456.5 1735.9,459.7 1737.2,456.0 1738.6,459.0 1739.9,458.8 1741.2,457.6 1742.6,461.2 1743.9,460.8 1745.3,460.1 1746.6,456.3 1747.9,466.1 1749.3,466.1 1750.6,459.6 1752.0,455.8 1753.3,450.4 1754.6,457.0 1756.0,458.0 1757.3,454.1 1758.7,455.3 1760.0,458.7 1761.3,460.2 1762.7,463.5 1764.0,470.1 1765.4,467.8 1766.7,466.3 1768.0,471.2 1769.4,475.2 1770.7,472.1 1772.1,472.2 1773.4,471.4 1774.7,470.4 1776.1,474.9 1777.4,476.6 1778.8,476.3 1780.1,470.9 1781.4,471.3 1782.8,469.1 1784.1,471.3 1785.5,474.2 1786.8,473.9 1788.1,474.9 1789.5,474.9 1790.8,472.4 1792.2,475.3 1793.5,475.4 1794.8,474.0 1796.2,471.1 1797.5,471.0 1798.9,468.4 1800.2,469.4 1801.5,469.3 1802.9,471.2 1804.2,467.1 1805.5,466.5 1806.9,470.0 1808.2,466.2 1809.6,465.2 1810.9,468.9 1812.2,473.9 1813.6,468.8 1814.9,467.8 1816.3,465.3 1817.6,470.9 1818.9,477.8 1820.3,474.1 1821.6,472.8 1823.0,466.4 1824.3,466.5 1825.6,468.6 1827.0,472.5 1828.3,476.0 1829.7,470.2 1831.0,469.1 1832.3,476.0 1833.7,485.2 1835.0,479.8 1836.4,478.1 1837.7,473.5 1839.0,471.8 1840.4,471.6 1841.7,472.2 1843.1,472.6 1844.4,470.0 1845.7,472.2 1847.1,477.5 1848.4,480.4 1849.8,484.5 1851.1,476.7 1852.4,475.0 1853.8,482.1 1855.1,479.7 1856.5,475.3 1857.8,474.3 1859.1,473.2 1860.5,472.0 1861.8,469.5 1863.2,470.1 1864.5,473.0 1865.8,478.7 1867.2,484.8 1868.5,491.7 1869.9,491.4 1871.2,483.1 1872.5,487.2 1873.9,483.3 1875.2,487.5 1876.6,481.2 1877.9,483.8 1879.2,482.6 1880.6,481.3 1881.9,487.9 1883.2,487.8 1884.6,483.3 1885.9,485.4 1887.3,491.3 1888.6,488.7 1889.9,488.3 1891.3,485.0 1892.6,485.5 1894.0,483.8 1895.3,484.8 1896.6,479.8 1898.0,484.2 1899.3,490.1 1900.7,491.9 1902.0,487.2 1903.3,485.2 1904.7,480.9 1906.0,481.9 1907.4,483.7 1908.7,482.4 1910.0,482.7 1911.4,481.4 1912.7,484.8 1914.1,482.7 1915.4,483.2 1916.7,484.5 1918.1,485.3 1919.4,483.7 1920.8,485.2 1922.1,490.4 1923.4,493.9 1924.8,492.7 1926.1,492.7 1927.5,493.5 1928.8,490.1 1930.1,488.6 1931.5,493.4 1932.8,491.4 1934.2,497.4 1935.5,490.5 1936.8,493.2 1938.2,492.3 1939.5,490.3 1940.9,488.9 1942.2,492.8 1943.5,492.3 1944.9,494.9 1946.2,498.9 1947.6,493.3 1948.9,489.3 1950.2,489.2 1951.6,497.0 1952.9,495.9 1954.3,495.2 1955.6,493.7 1956.9,495.2 1958.3,492.8 1959.6,492.1 1960.9,491.5 1962.3,491.6 1963.6,491.9 1965.0,493.4 1966.3,495.2 1967.6,496.0 1969.0,495.9 1970.3,501.3 1971.7,501.0 1973.0,502.0 1974.3,506.1 1975.7,505.9 1977.0,506.0 1978.4,507.7 1979.7,505.6 1981.0,505.5 1982.4,504.7 1983.7,501.8 1985.1,503.3 1986.4,506.9 1987.7,509.2 1989.1,508.3 1990.4,507.8 1991.8,504.1 1993.1,502.7 1994.4,499.6 1995.8,504.6 1997.1,503.0 1998.5,502.4 1999.8,500.6 2001.1,499.9 2002.5,499.8 2003.8,501.2 2005.2,509.6 2006.5,509.4 2007.8,515.0 2009.2,512.9 2010.5,509.2 2011.9,508.2 2013.2,511.4 2014.5,510.1 2015.9,508.1 2017.2,508.9 2018.6,509.0 2019.9,505.7 2021.2,509.1 2022.6,510.2 2023.9,507.9 2025.3,508.0 2026.6,507.8 2027.9,514.4 2029.3,513.9 2030.6,513.0 2032.0,515.9 2033.3,517.3 2034.6,506.8 2036.0,509.8 2037.3,508.8 2038.6,507.5 2040.0,505.7 2041.3,508.3 2042.7,517.9 2044.0,514.0 2045.3,509.0 2046.7,511.1 2048.0,509.3 2049.4,510.4 2050.7,513.1 2052.0,506.3 2053.4,504.0 2054.7,508.5 2056.1,505.1 2057.4,510.7 2058.7,507.2 2060.1,504.5 2061.4,504.4 2062.8,507.8 2064.1,506.1 2065.4,509.6 2066.8,507.6 2068.1,504.0 2069.5,508.1 2070.8,510.3 2072.1,510.0 2073.5,508.4 2074.8,505.4 2076.2,498.7 2077.5,500.6 2078.8,502.4 2080.2,505.7 2081.5,506.5 2082.9,507.9 2084.2,514.6 2085.5,515.4 2086.9,521.3 2088.2,523.9 2089.6,520.1 2090.9,520.6 2092.2,518.7 2093.6,510.7 2094.9,512.6 2096.3,514.9 2097.6,522.0 2098.9,517.4 2100.3,516.3 2101.6,517.4 2103.0,518.4 2104.3,521.8 2105.6,524.9 2107.0,524.8 2108.3,526.3 2109.7,526.5 2111.0,525.4 2112.3,525.1 2113.7,525.2 2115.0,525.6 2116.3,526.3 2117.7,526.2 2119.0,526.1 2120.4,525.4 2121.7,529.5 2123.0,530.8 2124.4,527.9 2125.7,528.2 2127.1,528.1 2128.4,526.9 2129.7,524.7 2131.1,527.6 2132.4,532.4 2133.8,535.0 2135.1,535.1 2136.4,537.7 2137.8,536.2 2139.1,534.5 2140.5,536.8 2141.8,537.9 2143.1,531.6 2144.5,529.2 2145.8,531.1 2147.2,529.6 2148.5,527.0 2149.8,523.8 2151.2,530.7 2152.5,530.2 2153.9,533.0 2155.2,530.8 2156.5,532.2 2157.9,530.1 2159.2,529.6 2160.6,528.3 2161.9,526.3 2163.2,531.0 2164.6,538.2 2165.9,538.2 2167.3,539.1 2168.6,539.0 2169.9,535.8 2171.3,530.1 2172.6,528.7 2174.0,527.3 2175.3,529.9 2176.6,534.3 2178.0,539.9 2179.3,536.9 2180.7,534.1 2182.0,531.7 2183.3,529.4 2184.7,524.6 2186.0,526.3 2187.4,527.0 2188.7,530.4 2190.0,537.5 2191.4,540.9 2192.7,539.2 2194.0,541.9 2195.4,540.6 2196.7,543.9 2198.1,538.1 2199.4,536.5" fill="none" stroke="#377eb8" stroke-opacity="0.31" stroke-width="6.25" stroke-linejoin="round" stroke-linecap="square"/></g><rect x="1260.833" y="280.833" width="985.333" height="3.333" fill="#000"/><rect x="1260.833" y="880.833" width="985.333" height="3.333" fill="#000"/><rect x="1260.833" y="280.833" width="3.333" height="603.333" fill="#000"/><rect x="2242.833" y="280.833" width="3.333" height="603.333" fill="#000"/><rect x="1247.4" y="880.833" width="15.1" height="3.333" fill="#000"/><rect x="1247.4" y="711.833" width="15.1" height="3.333" fill="#000"/><rect x="1247.4" y="541.833" width="15.1" height="3.333" fill="#000"/><rect x="1247.4" y="371.833" width="15.1" height="3.333" fill="#000"/><rect x="1305.833" y="882.8" width="3.333" height="15.1" fill="#000"/><rect x="1528.833" y="882.8" width="3.333" height="15.1" fill="#000"/><rect x="1751.833" y="882.8" width="3.333" height="15.1" fill="#000"/><rect x="1975.833" y="882.8" width="3.333" height="15.1" fill="#000"/><rect x="2198.833" y="882.8" width="3.333" height="15.1" fill="#000"/><text x="1233.3" y="898.4" text-anchor="end" class="tl" textLength="66.25" lengthAdjust="spacingAndGlyphs">0.0</text><text x="1233.3" y="728.8" text-anchor="end" class="tl" textLength="66.25" lengthAdjust="spacingAndGlyphs">0.5</text><text x="1233.3" y="559.1" text-anchor="end" class="tl" textLength="66.25" lengthAdjust="spacingAndGlyphs">1.0</text><text x="1233.3" y="391.0" text-anchor="end" class="tl" textLength="66.25" lengthAdjust="spacingAndGlyphs">1.5</text><text x="1307.2" y="943.9" text-anchor="middle" class="tl" textLength="26.50" lengthAdjust="spacingAndGlyphs">0</text><text x="1530.5" y="943.9" text-anchor="middle" class="tl" textLength="79.50" lengthAdjust="spacingAndGlyphs">500</text><text x="1753.8" y="943.9" text-anchor="middle" class="tl" textLength="106.00" lengthAdjust="spacingAndGlyphs">1000</text><text x="1977.0" y="943.9" text-anchor="middle" class="tl" textLength="106.00" lengthAdjust="spacingAndGlyphs">1500</text><text x="2200.3" y="943.9" text-anchor="middle" class="tl" textLength="105.88" lengthAdjust="spacingAndGlyphs">2000</text><text x="1753.5" y="257.6" text-anchor="middle" class="st" textLength="351.00" lengthAdjust="spacingAndGlyphs">depth=4, width=128</text>
<rect x="2442.833" y="282.8" width="3.333" height="600.0" fill="#e7e7e7"/><rect x="2665.833" y="282.8" width="3.333" height="600.0" fill="#e7e7e7"/><rect x="2888.833" y="282.8" width="3.333" height="600.0" fill="#e7e7e7"/><rect x="3112.833" y="282.8" width="3.333" height="600.0" fill="#e7e7e7"/><rect x="3335.833" y="282.8" width="3.333" height="600.0" fill="#e7e7e7"/><rect x="2399.5" y="711.833" width="981.9" height="3.333" fill="#e7e7e7"/><rect x="2399.5" y="541.833" width="981.9" height="3.333" fill="#e7e7e7"/><rect x="2399.5" y="371.833" width="981.9" height="3.333" fill="#e7e7e7"/><g clip-path="url(#c02)"><path d="M2444.2,82.6 2445.5,101.0 2446.9,122.3 2448.2,137.4 2449.6,154.5 2450.9,170.9 2452.2,177.0 2453.6,190.6 2454.9,197.0 2456.3,210.6 2457.6,221.4 2458.9,230.0 2460.3,245.4 2461.6,258.1 2463.0,272.6 2464.3,281.2 2465.6,284.7 2467.0,288.5 2468.3,291.0 2469.7,296.5 2471.0,297.2 2472.3,299.1 2473.7,302.7 2475.0,304.2 2476.4,300.5 2477.7,303.1 2479.0,305.7 2480.4,304.9 2481.7,304.1 2483.0,308.6 2484.4,313.6 2485.7,306.2 2487.1,307.6 2488.4,315.7 2489.7,320.1 2491.1,320.0 2492.4,316.0 2493.8,317.2 2495.1,320.4 2496.4,327.7 2497.8,329.9 2499.1,328.6 2500.5,328.7 2501.8,330.7 2503.1,333.2 2504.5,338.0 2505.8,337.2 2507.2,333.0 2508.5,330.3 2509.8,328.0 2511.2,332.0 2512.5,331.1 2513.9,332.3 2515.2,325.9 2516.5,329.5 2517.9,328.6 2519.2,330.5 2520.6,330.7 2521.9,337.1 2523.2,337.5 2524.6,334.6 2525.9,334.8 2527.3,331.8 2528.6,326.6 2529.9,324.7 2531.3,324.6 2532.6,329.3 2534.0,336.5 2535.3,338.4 2536.6,340.0 2538.0,343.4 2539.3,342.8 2540.7,349.8 2542.0,353.2 2543.3,353.2 2544.7,358.4 2546.0,356.2 2547.4,358.3 2548.7,354.9 2550.0,354.6 2551.4,352.1 2552.7,352.4 2554.1,351.9 2555.4,350.8 2556.7,356.1 2558.1,362.8 2559.4,366.3 2560.7,364.3 2562.1,364.8 2563.4,372.4 2564.8,373.4 2566.1,374.2 2567.4,379.7 2568.8,381.8 2570.1,379.7 2571.5,377.0 2572.8,375.5 2574.1,371.4 2575.5,372.1 2576.8,368.0 2578.2,370.7 2579.5,374.1 2580.8,376.5 2582.2,373.4 2583.5,371.2 2584.9,375.5 2586.2,378.1 2587.5,377.2 2588.9,383.2 2590.2,381.3 2591.6,384.5 2592.9,383.0 2594.2,386.7 2595.6,382.5 2596.9,381.7 2598.3,380.9 2599.6,376.6 2600.9,383.0 2602.3,381.4 2603.6,384.3 2605.0,376.4 2606.3,378.2 2607.6,384.6 2609.0,392.2 2610.3,399.7 2611.7,402.2 2613.0,398.0 2614.3,397.0 2615.7,388.4 2617.0,393.9 2618.4,395.1 2619.7,393.2 2621.0,392.1 2622.4,391.2 2623.7,390.3 2625.1,386.8 2626.4,390.7 2627.7,389.0 2629.1,392.7 2630.4,395.6 2631.8,395.0 2633.1,397.7 2634.4,399.7 2635.8,402.2 2637.1,398.1 2638.4,396.0 2639.8,397.1 2641.1,395.4 2642.5,395.8 2643.8,392.1 2645.1,390.8 2646.5,384.2 2647.8,385.8 2649.2,388.4 2650.5,393.8 2651.8,394.2 2653.2,397.9 2654.5,400.5 2655.9,397.7 2657.2,401.0 2658.5,395.4 2659.9,394.6 2661.2,395.9 2662.6,404.5 2663.9,404.9 2665.2,405.3 2666.6,404.0 2667.9,402.8 2669.3,403.7 2670.6,404.8 2671.9,406.3 2673.3,401.9 2674.6,409.3 2676.0,408.2 2677.3,408.6 2678.6,407.1 2680.0,408.8 2681.3,408.8 2682.7,415.3 2684.0,416.3 2685.3,418.9 2686.7,419.2 2688.0,417.0 2689.4,416.3 2690.7,416.7 2692.0,424.2 2693.4,421.5 2694.7,421.3 2696.1,417.0 2697.4,413.7 2698.7,416.5 2700.1,416.7 2701.4,419.0 2702.8,415.5 2704.1,421.2 2705.4,419.9 2706.8,418.1 2708.1,420.6 2709.5,423.1 2710.8,424.5 2712.1,426.1 2713.5,427.6 2714.8,422.0 2716.1,419.8 2717.5,418.9 2718.8,423.9 2720.2,422.6 2721.5,422.5 2722.8,420.5 2724.2,426.1 2725.5,429.4 2726.9,433.2 2728.2,427.5 2729.5,425.6 2730.9,429.5 2732.2,429.3 2733.6,431.3 2734.9,429.7 2736.2,432.3 2737.6,432.4 2738.9,430.7 2740.3,422.9 2741.6,429.6 2742.9,425.8 2744.3,423.8 2745.6,422.9 2747.0,431.2 2748.3,437.9 2749.6,436.9 2751.0,436.7 2752.3,432.5 2753.7,436.7 2755.0,436.9 2756.3,437.0 2757.7,431.4 2759.0,430.6 2760.4,428.7 2761.7,433.6 2763.0,438.3 2764.4,438.5 2765.7,435.9 2767.1,435.8 2768.4,432.8 2769.7,431.6 2771.1,432.1 2772.4,430.9 2773.8,432.5 2775.1,430.8 2776.4,431.5 2777.8,434.6 2779.1,437.1 2780.5,442.0 2781.8,443.6 2783.1,446.8 2784.5,439.7 2785.8,434.6 2787.2,434.8 2788.5,435.3 2789.8,437.5 2791.2,435.7 2792.5,437.3 2793.8,439.0 2795.2,434.3 2796.5,435.4 2797.9,434.3 2799.2,437.3 2800.5,437.1 2801.9,442.8 2803.2,443.5 2804.6,445.1 2805.9,441.6 2807.2,443.1 2808.6,437.2 2809.9,433.1 2811.3,434.0 2812.6,437.2 2813.9,439.0 2815.3,438.8 2816.6,439.9 2818.0,438.5 2819.3,444.8 2820.6,445.3 2822.0,441.5 2823.3,441.4 2824.7,443.9 2826.0,448.6 2827.3,444.8 2828.7,448.5 2830.0,445.9 2831.4,446.0 2832.7,448.2 2834.0,450.7 2835.4,452.2 2836.7,446.6 2838.1,449.1 2839.4,449.8 2840.7,451.4 2842.1,453.8 2843.4,457.5 2844.8,455.0 2846.1,451.4 2847.4,456.6 2848.8,456.5 2850.1,456.8 2851.5,457.1 2852.8,450.5 2854.1,448.1 2855.5,454.0 2856.8,455.8 2858.2,462.8 2859.5,462.8 2860.8,464.6 2862.2,463.5 2863.5,458.3 2864.9,454.2 2866.2,457.7 2867.5,461.3 2868.9,457.6 2870.2,457.5 2871.5,462.5 2872.9,463.4 2874.2,459.9 2875.6,464.1 2876.9,459.1 2878.2,460.7 2879.6,458.2 2880.9,461.5 2882.3,465.6 2883.6,465.7 2884.9,465.1 2886.3,465.5 2887.6,468.6 2889.0,467.5 2890.3,464.1 2891.6,465.3 2893.0,464.2 2894.3,459.4 2895.7,452.4 2897.0,454.5 2898.3,454.3 2899.7,455.9 2901.0,458.9 2902.4,459.7 2903.7,460.8 2905.0,468.5 2906.4,470.4 2907.7,473.2 2909.1,470.9 2910.4,464.9 2911.7,462.5 2913.1,463.5 2914.4,466.2 2915.8,465.1 2917.1,473.1 2918.4,465.5 2919.8,462.4 2921.1,463.6 2922.5,466.4 2923.8,469.3 2925.1,466.0 2926.5,464.3 2927.8,465.1 2929.2,467.7 2930.5,466.6 2931.8,469.4 2933.2,471.6 2934.5,473.5 2935.9,478.5 2937.2,471.4 2938.5,470.2 2939.9,472.3 2941.2,469.6 2942.5,469.5 2943.9,465.8 2945.2,462.0 2946.6,462.4 2947.9,469.4 2949.2,472.4 2950.6,474.9 2951.9,474.1 2953.3,476.1 2954.6,483.2 2955.9,489.6 2957.3,491.7 2958.6,489.4 2960.0,485.8 2961.3,485.6 2962.6,482.9 2964.0,482.1 2965.3,479.0 2966.7,473.2 2968.0,473.3 2969.3,480.0 2970.7,480.2 2972.0,480.0 2973.4,475.6 2974.7,476.9 2976.0,475.8 2977.4,478.1 2978.7,478.5 2980.1,470.6 2981.4,473.5 2982.7,473.9 2984.1,479.0 2985.4,486.2 2986.8,480.3 2988.1,484.1 2989.4,484.2 2990.8,485.3 2992.1,487.5 2993.5,488.6 2994.8,486.1 2996.1,483.0 2997.5,483.5 2998.8,483.9 3000.2,483.3 3001.5,481.4 3002.8,479.6 3004.2,476.0 3005.5,475.4 3006.9,478.5 3008.2,483.6 3009.5,484.0 3010.9,484.1 3012.2,483.0 3013.6,487.3 3014.9,489.1 3016.2,484.8 3017.6,480.9 3018.9,479.4 3020.2,476.0 3021.6,476.1 3022.9,477.7 3024.3,480.0 3025.6,485.0 3026.9,481.4 3028.3,478.8 3029.6,485.6 3031.0,487.0 3032.3,488.8 3033.6,490.5 3035.0,490.8 3036.3,487.6 3037.7,485.7 3039.0,484.1 3040.3,485.4 3041.7,486.5 3043.0,485.4 3044.4,487.2 3045.7,488.4 3047.0,485.5 3048.4,483.9 3049.7,489.3 3051.1,494.4 3052.4,493.0 3053.7,492.1 3055.1,489.4 3056.4,488.5 3057.8,490.5 3059.1,490.2 3060.4,488.6 3061.8,495.1 3063.1,500.4 3064.5,506.9 3065.8,501.7 3067.1,498.4 3068.5,498.4 3069.8,500.1 3071.2,494.4 3072.5,496.1 3073.8,499.8 3075.2,501.8 3076.5,505.6 3077.9,508.9 3079.2,504.1 3080.5,506.3 3081.9,502.9 3083.2,499.3 3084.6,501.4 3085.9,513.8 3087.2,515.9 3088.6,514.6 3089.9,514.8 3091.3,515.0 3092.6,508.9 3093.9,510.1 3095.3,513.6 3096.6,508.0 3097.9,510.9 3099.3,507.9 3100.6,506.9 3102.0,508.4 3103.3,503.9 3104.6,509.7 3106.0,507.3 3107.3,506.3 3108.7,500.4 3110.0,496.4 3111.3,498.7 3112.7,505.1 3114.0,507.1 3115.4,500.6 3116.7,506.1 3118.0,508.6 3119.4,502.3 3120.7,507.6 3122.1,511.0 3123.4,510.0 3124.7,506.7 3126.1,506.4 3127.4,507.4 3128.8,513.9 3130.1,512.0 3131.4,515.8 3132.8,515.8 3134.1,516.1 3135.5,512.8 3136.8,510.7 3138.1,503.9 3139.5,502.2 3140.8,500.8 3142.2,505.0 3143.5,508.3 3144.8,506.6 3146.2,501.5 3147.5,506.4 3148.9,514.7 3150.2,510.9 3151.5,511.1 3152.9,511.8 3154.2,513.4 3155.6,514.3 3156.9,511.9 3158.2,519.9 3159.6,518.0 3160.9,510.8 3162.3,510.1 3163.6,513.5 3164.9,517.6 3166.3,519.7 3167.6,515.2 3169.0,519.1 3170.3,515.8 3171.6,514.3 3173.0,512.3 3174.3,515.8 3175.6,520.8 3177.0,524.4 3178.3,516.8 3179.7,515.9 3181.0,516.3 3182.3,517.1 3183.7,521.6 3185.0,518.9 3186.4,523.1 3187.7,522.8 3189.0,525.5 3190.4,521.1 3191.7,519.9 3193.1,526.3 3194.4,532.5 3195.7,531.5 3197.1,531.8 3198.4,532.5 3199.8,528.2 3201.1,529.4 3202.4,526.2 3203.8,524.2 3205.1,527.6 3206.5,529.3 3207.8,530.7 3209.1,528.5 3210.5,530.6 3211.8,533.9 3213.2,529.8 3214.5,530.2 3215.8,533.6 3217.2,534.6 3218.5,533.4 3219.9,534.4 3221.2,535.7 3222.5,535.6 3223.9,536.3 3225.2,540.6 3226.6,541.3 3227.9,543.0 3229.2,545.0 3230.6,539.3 3231.9,539.6 3233.3,541.1 3234.6,539.0 3235.9,536.5 3237.3,537.3 3238.6,530.4 3240.0,536.9 3241.3,532.7 3242.6,528.0 3244.0,532.7 3245.3,529.8 3246.7,529.7 3248.0,534.0 3249.3,539.0 3250.7,539.6 3252.0,540.9 3253.3,530.8 3254.7,535.5 3256.0,534.4 3257.4,537.6 3258.7,537.0 3260.0,536.9 3261.4,531.0 3262.7,531.0 3264.1,532.4 3265.4,542.0 3266.7,544.5 3268.1,545.5 3269.4,545.5 3270.8,542.9 3272.1,542.8 3273.4,534.2 3274.8,538.7 3276.1,538.4 3277.5,541.1 3278.8,547.1 3280.1,549.3 3281.5,542.0 3282.8,540.6 3284.2,540.8 3285.5,538.2 3286.8,539.4 3288.2,539.6 3289.5,541.0 3290.9,541.4 3292.2,538.5 3293.5,539.7 3294.9,547.7 3296.2,548.6 3297.6,547.1 3298.9,545.6 3300.2,544.1 3301.6,543.0 3302.9,545.9 3304.3,550.1 3305.6,547.8 3306.9,544.2 3308.3,542.3 3309.6,540.4 3311.0,539.3 3312.3,538.9 3313.6,543.1 3315.0,539.0 3316.3,540.2 3317.7,540.4 3319.0,542.3 3320.3,539.3 3321.7,548.6 3323.0,554.6 3324.4,554.0 3325.7,550.6 3327.0,558.5 3328.4,557.2 3329.7,557.2 3331.0,558.7 3332.4,558.7 3333.7,553.1 3335.1,548.8 3336.4,548.3" fill="none" stroke="#e41a1c" stroke-opacity="0.31" stroke-width="6.25" stroke-linejoin="round" stroke-linecap="square"/><path d="M2444.2,85.7 2445.5,106.1 2446.9,122.1 2448.2,138.3 2449.6,154.5 2450.9,170.4 2452.2,178.1 2453.6,191.9 2454.9,203.6 2456.3,209.7 2457.6,216.4 2458.9,222.2 2460.3,238.4 2461.6,249.9 2463.0,262.5 2464.3,274.7 2465.6,289.1 2467.0,293.1 2468.3,296.2 2469.7,295.3 2471.0,296.5 2472.3,299.0 2473.7,301.0 2475.0,300.9 2476.4,300.1 2477.7,301.6 2479.0,299.9 2480.4,301.6 2481.7,299.3 2483.0,302.3 2484.4,303.0 2485.7,304.5 2487.1,303.8 2488.4,311.1 2489.7,314.1 2491.1,316.9 2492.4,316.2 2493.8,319.0 2495.1,324.6 2496.4,325.5 2497.8,321.2 2499.1,324.1 2500.5,325.1 2501.8,325.6 2503.1,331.8 2504.5,335.2 2505.8,334.4 2507.2,331.7 2508.5,324.0 2509.8,328.4 2511.2,334.7 2512.5,331.5 2513.9,334.6 2515.2,331.8 2516.5,333.3 2517.9,333.8 2519.2,337.7 2520.6,337.6 2521.9,341.9 2523.2,342.5 2524.6,337.3 2525.9,336.4 2527.3,338.1 2528.6,331.6 2529.9,333.3 2531.3,333.7 2532.6,334.1 2534.0,341.4 2535.3,343.5 2536.6,341.1 2538.0,345.0 2539.3,347.1 2540.7,349.2 2542.0,352.4 2543.3,353.8 2544.7,356.4 2546.0,353.3 2547.4,360.1 2548.7,358.7 2550.0,354.9 2551.4,353.7 2552.7,360.6 2554.1,358.2 2555.4,350.8 2556.7,357.4 2558.1,363.5 2559.4,368.0 2560.7,363.6 2562.1,365.2 2563.4,369.5 2564.8,366.1 2566.1,364.9 2567.4,363.0 2568.8,367.5 2570.1,368.9 2571.5,371.5 2572.8,369.9 2574.1,372.7 2575.5,372.2 2576.8,364.4 2578.2,362.6 2579.5,365.4 2580.8,369.5 2582.2,372.4 2583.5,371.5 2584.9,375.0 2586.2,372.4 2587.5,371.4 2588.9,374.9 2590.2,375.0 2591.6,378.8 2592.9,379.4 2594.2,376.7 2595.6,373.4 2596.9,380.0 2598.3,378.1 2599.6,375.7 2600.9,380.0 2602.3,385.4 2603.6,387.2 2605.0,377.6 2606.3,385.6 2607.6,391.8 2609.0,393.1 2610.3,394.4 2611.7,396.0 2613.0,390.0 2614.3,388.7 2615.7,382.2 2617.0,386.4 2618.4,385.7 2619.7,384.9 2621.0,382.9 2622.4,384.3 2623.7,381.4 2625.1,385.1 2626.4,387.2 2627.7,388.1 2629.1,391.0 2630.4,389.9 2631.8,394.0 2633.1,394.6 2634.4,398.0 2635.8,398.5 2637.1,401.7 2638.4,398.8 2639.8,400.8 2641.1,398.0 2642.5,394.4 2643.8,394.3 2645.1,394.8 2646.5,386.7 2647.8,390.8 2649.2,389.1 2650.5,390.5 2651.8,389.5 2653.2,394.8 2654.5,400.1 2655.9,398.0 2657.2,401.6 2658.5,392.7 2659.9,392.1 2661.2,389.7 2662.6,396.5 2663.9,397.6 2665.2,399.8 2666.6,402.2 2667.9,401.8 2669.3,399.5 2670.6,399.3 2671.9,398.6 2673.3,396.2 2674.6,401.7 2676.0,403.2 2677.3,406.3 2678.6,408.2 2680.0,406.1 2681.3,406.5 2682.7,412.8 2684.0,421.5 2685.3,419.1 2686.7,418.0 2688.0,413.9 2689.4,413.5 2690.7,413.4 2692.0,423.7 2693.4,420.7 2694.7,423.0 2696.1,420.9 2697.4,415.2 2698.7,412.6 2700.1,421.4 2701.4,419.4 2702.8,415.8 2704.1,415.4 2705.4,414.4 2706.8,415.7 2708.1,418.4 2709.5,422.9 2710.8,420.2 2712.1,421.8 2713.5,420.9 2714.8,415.4 2716.1,409.8 2717.5,411.3 2718.8,416.2 2720.2,414.0 2721.5,409.9 2722.8,408.5 2724.2,418.2 2725.5,418.7 2726.9,417.9 2728.2,416.8 2729.5,416.8 2730.9,421.9 2732.2,424.2 2733.6,423.1 2734.9,421.3 2736.2,425.6 2737.6,422.9 2738.9,417.2 2740.3,412.6 2741.6,421.7 2742.9,420.3 2744.3,421.3 2745.6,414.7 2747.0,418.0 2748.3,423.8 2749.6,423.0 2751.0,420.4 2752.3,416.8 2753.7,420.0 2755.0,423.2 2756.3,423.0 2757.7,420.3 2759.0,417.7 2760.4,414.3 2761.7,421.9 2763.0,425.9 2764.4,425.8 2765.7,420.8 2767.1,416.3 2768.4,421.9 2769.7,424.7 2771.1,426.7 2772.4,424.3 2773.8,427.6 2775.1,425.6 2776.4,426.3 2777.8,422.4 2779.1,427.5 2780.5,433.7 2781.8,435.0 2783.1,436.6 2784.5,431.9 2785.8,427.0 2787.2,424.8 2788.5,423.6 2789.8,428.0 2791.2,427.5 2792.5,426.8 2793.8,431.5 2795.2,431.3 2796.5,432.5 2797.9,434.6 2799.2,433.9 2800.5,431.1 2801.9,435.0 2803.2,431.5 2804.6,436.8 2805.9,432.9 2807.2,436.2 2808.6,437.0 2809.9,435.1 2811.3,436.6 2812.6,436.6 2813.9,429.9 2815.3,432.2 2816.6,434.2 2818.0,430.1 2819.3,435.4 2820.6,437.3 2822.0,433.8 2823.3,434.5 2824.7,437.8 2826.0,439.5 2827.3,438.2 2828.7,441.5 2830.0,438.8 2831.4,438.8 2832.7,438.0 2834.0,443.2 2835.4,446.7 2836.7,443.1 2838.1,444.5 2839.4,446.1 2840.7,447.7 2842.1,445.5 2843.4,449.3 2844.8,447.0 2846.1,444.1 2847.4,441.6 2848.8,443.2 2850.1,445.4 2851.5,444.4 2852.8,437.2 2854.1,440.7 2855.5,446.9 2856.8,451.1 2858.2,455.8 2859.5,453.5 2860.8,453.3 2862.2,451.6 2863.5,447.7 2864.9,449.4 2866.2,453.3 2867.5,457.6 2868.9,456.8 2870.2,454.6 2871.5,456.6 2872.9,453.9 2874.2,449.0 2875.6,452.6 2876.9,454.5 2878.2,459.7 2879.6,453.9 2880.9,453.2 2882.3,452.3 2883.6,453.1 2884.9,455.0 2886.3,458.1 2887.6,458.9 2889.0,460.0 2890.3,458.6 2891.6,463.4 2893.0,461.5 2894.3,453.6 2895.7,452.7 2897.0,457.5 2898.3,456.0 2899.7,455.5 2901.0,458.9 2902.4,457.1 2903.7,455.0 2905.0,462.6 2906.4,465.0 2907.7,471.3 2909.1,468.3 2910.4,461.9 2911.7,464.1 2913.1,469.8 2914.4,470.9 2915.8,467.8 2917.1,468.3 2918.4,465.0 2919.8,460.2 2921.1,461.2 2922.5,462.9 2923.8,463.1 2925.1,465.2 2926.5,463.2 2927.8,464.0 2929.2,465.6 2930.5,460.0 2931.8,458.0 2933.2,457.2 2934.5,461.1 2935.9,464.2 2937.2,458.3 2938.5,460.6 2939.9,463.8 2941.2,459.8 2942.5,457.6 2943.9,452.2 2945.2,452.0 2946.6,456.5 2947.9,463.0 2949.2,463.1 2950.6,468.6 2951.9,463.3 2953.3,467.6 2954.6,471.3 2955.9,475.0 2957.3,476.7 2958.6,476.2 2960.0,472.8 2961.3,478.8 2962.6,475.1 2964.0,471.4 2965.3,468.6 2966.7,461.9 2968.0,465.3 2969.3,466.4 2970.7,461.9 2972.0,464.3 2973.4,462.9 2974.7,465.8 2976.0,470.5 2977.4,472.8 2978.7,476.1 2980.1,471.6 2981.4,476.7 2982.7,480.4 2984.1,482.8 2985.4,482.1 2986.8,476.8 2988.1,478.1 2989.4,475.9 2990.8,473.8 2992.1,477.3 2993.5,480.7 2994.8,486.1 2996.1,484.9 2997.5,484.5 2998.8,479.0 3000.2,479.1 3001.5,478.0 3002.8,478.6 3004.2,479.7 3005.5,476.3 3006.9,478.0 3008.2,477.9 3009.5,479.5 3010.9,476.6 3012.2,475.4 3013.6,476.8 3014.9,477.6 3016.2,476.5 3017.6,479.3 3018.9,482.4 3020.2,483.1 3021.6,479.7 3022.9,481.1 3024.3,480.1 3025.6,480.2 3026.9,477.9 3028.3,476.5 3029.6,481.5 3031.0,483.9 3032.3,485.1 3033.6,484.3 3035.0,487.9 3036.3,489.6 3037.7,487.5 3039.0,482.9 3040.3,483.8 3041.7,480.3 3043.0,478.6 3044.4,479.1 3045.7,480.1 3047.0,480.0 3048.4,481.5 3049.7,482.7 3051.1,483.2 3052.4,484.0 3053.7,483.9 3055.1,487.8 3056.4,489.2 3057.8,488.4 3059.1,486.3 3060.4,483.3 3061.8,488.3 3063.1,493.7 3064.5,501.1 3065.8,498.5 3067.1,490.7 3068.5,492.4 3069.8,495.4 3071.2,492.8 3072.5,498.4 3073.8,499.2 3075.2,497.7 3076.5,500.6 3077.9,499.3 3079.2,495.8 3080.5,497.2 3081.9,502.1 3083.2,497.5 3084.6,495.0 3085.9,503.1 3087.2,504.7 3088.6,496.2 3089.9,495.1 3091.3,495.8 3092.6,491.9 3093.9,492.8 3095.3,495.1 3096.6,491.0 3097.9,489.4 3099.3,490.8 3100.6,491.1 3102.0,491.5 3103.3,485.1 3104.6,493.4 3106.0,489.1 3107.3,493.6 3108.7,495.0 3110.0,491.5 3111.3,491.2 3112.7,497.4 3114.0,500.9 3115.4,495.7 3116.7,497.0 3118.0,496.7 3119.4,490.2 3120.7,497.0 3122.1,500.2 3123.4,501.3 3124.7,498.4 3126.1,495.6 3127.4,497.8 3128.8,505.3 3130.1,503.4 3131.4,508.9 3132.8,509.0 3134.1,511.3 3135.5,502.5 3136.8,499.3 3138.1,495.5 3139.5,494.1 3140.8,491.4 3142.2,495.0 3143.5,494.6 3144.8,491.6 3146.2,489.2 3147.5,490.7 3148.9,495.7 3150.2,493.8 3151.5,494.5 3152.9,497.1 3154.2,497.6 3155.6,500.1 3156.9,501.1 3158.2,505.1 3159.6,505.0 3160.9,501.8 3162.3,497.6 3163.6,501.3 3164.9,507.4 3166.3,509.2 3167.6,511.8 3169.0,514.8 3170.3,511.6 3171.6,508.1 3173.0,499.3 3174.3,497.8 3175.6,500.5 3177.0,504.9 3178.3,505.6 3179.7,506.4 3181.0,505.2 3182.3,504.8 3183.7,506.5 3185.0,505.9 3186.4,509.9 3187.7,511.0 3189.0,512.3 3190.4,510.1 3191.7,512.2 3193.1,516.0 3194.4,519.5 3195.7,515.9 3197.1,514.5 3198.4,512.5 3199.8,509.1 3201.1,517.8 3202.4,517.1 3203.8,517.3 3205.1,516.9 3206.5,515.5 3207.8,516.7 3209.1,512.0 3210.5,513.7 3211.8,516.6 3213.2,511.4 3214.5,511.4 3215.8,510.3 3217.2,510.8 3218.5,508.2 3219.9,508.0 3221.2,509.0 3222.5,512.4 3223.9,517.3 3225.2,518.1 3226.6,517.6 3227.9,519.9 3229.2,516.6 3230.6,511.9 3231.9,510.5 3233.3,513.0 3234.6,512.7 3235.9,509.0 3237.3,511.3 3238.6,511.2 3240.0,517.7 3241.3,511.6 3242.6,512.4 3244.0,513.5 3245.3,514.1 3246.7,514.6 3248.0,517.6 3249.3,519.0 3250.7,522.3 3252.0,524.7 3253.3,519.0 3254.7,521.6 3256.0,518.7 3257.4,523.9 3258.7,522.3 3260.0,522.0 3261.4,518.0 3262.7,516.0 3264.1,518.0 3265.4,524.4 3266.7,526.1 3268.1,530.1 3269.4,529.4 3270.8,527.2 3272.1,521.7 3273.4,515.5 3274.8,520.8 3276.1,522.3 3277.5,526.0 3278.8,530.5 3280.1,530.1 3281.5,527.9 3282.8,529.9 3284.2,524.9 3285.5,520.2 3286.8,523.3 3288.2,525.1 3289.5,527.9 3290.9,527.2 3292.2,524.6 3293.5,527.6 3294.9,536.3 3296.2,536.0 3297.6,534.1 3298.9,526.8 3300.2,527.1 3301.6,526.2 3302.9,528.7 3304.3,531.4 3305.6,528.3 3306.9,525.2 3308.3,527.1 3309.6,524.2 3311.0,523.6 3312.3,526.7 3313.6,532.7 3315.0,526.4 3316.3,527.0 3317.7,527.3 3319.0,534.1 3320.3,528.6 3321.7,532.7 3323.0,539.6 3324.4,538.0 3325.7,527.2 3327.0,532.6 3328.4,530.7 3329.7,531.7 3331.0,536.6 3332.4,539.0 3333.7,536.9 3335.1,537.4 3336.4,540.8" fill="none" stroke="#377eb8" stroke-opacity="0.31" stroke-width="6.25" stroke-linejoin="round" stroke-linecap="square"/></g><rect x="2397.833" y="280.833" width="985.333" height="3.333" fill="#000"/><rect x="2397.833" y="880.833" width="985.333" height="3.333" fill="#000"/><rect x="2397.833" y="280.833" width="3.333" height="603.333" fill="#000"/><rect x="3379.833" y="280.833" width="3.333" height="603.333" fill="#000"/><rect x="2384.4" y="880.833" width="15.1" height="3.333" fill="#000"/><rect x="2384.4" y="711.833" width="15.1" height="3.333" fill="#000"/><rect x="2384.4" y="541.833" width="15.1" height="3.333" fill="#000"/><rect x="2384.4" y="371.833" width="15.1" height="3.333" fill="#000"/><rect x="2442.833" y="882.8" width="3.333" height="15.1" fill="#000"/><rect x="2665.833" y="882.8" width="3.333" height="15.1" fill="#000"/><rect x="2888.833" y="882.8" width="3.333" height="15.1" fill="#000"/><rect x="3112.833" y="882.8" width="3.333" height="15.1" fill="#000"/><rect x="3335.833" y="882.8" width="3.333" height="15.1" fill="#000"/><text x="2370.3" y="898.4" text-anchor="end" class="tl" textLength="66.25" lengthAdjust="spacingAndGlyphs">0.0</text><text x="2370.3" y="728.8" text-anchor="end" class="tl" textLength="66.25" lengthAdjust="spacingAndGlyphs">0.5</text><text x="2370.3" y="559.1" text-anchor="end" class="tl" textLength="66.25" lengthAdjust="spacingAndGlyphs">1.0</text><text x="2370.3" y="391.0" text-anchor="end" class="tl" textLength="66.25" lengthAdjust="spacingAndGlyphs">1.5</text><text x="2444.2" y="943.9" text-anchor="middle" class="tl" textLength="26.50" lengthAdjust="spacingAndGlyphs">0</text><text x="2667.5" y="943.9" text-anchor="middle" class="tl" textLength="79.50" lengthAdjust="spacingAndGlyphs">500</text><text x="2890.8" y="943.9" text-anchor="middle" class="tl" textLength="106.00" lengthAdjust="spacingAndGlyphs">1000</text><text x="3114.0" y="943.9" text-anchor="middle" class="tl" textLength="106.00" lengthAdjust="spacingAndGlyphs">1500</text><text x="3337.3" y="943.9" text-anchor="middle" class="tl" textLength="105.88" lengthAdjust="spacingAndGlyphs">2000</text><text x="2890.4" y="257.6" text-anchor="middle" class="st" textLength="351.00" lengthAdjust="spacingAndGlyphs">depth=5, width=128</text>
<rect x="168.833" y="1047.8" width="3.333" height="600.0" fill="#e7e7e7"/><rect x="391.833" y="1047.8" width="3.333" height="600.0" fill="#e7e7e7"/><rect x="614.833" y="1047.8" width="3.333" height="600.0" fill="#e7e7e7"/><rect x="838.833" y="1047.8" width="3.333" height="600.0" fill="#e7e7e7"/><rect x="1061.833" y="1047.8" width="3.333" height="600.0" fill="#e7e7e7"/><rect x="125.5" y="1476.833" width="981.9" height="3.333" fill="#e7e7e7"/><rect x="125.5" y="1306.833" width="981.9" height="3.333" fill="#e7e7e7"/><rect x="125.5" y="1136.833" width="981.9" height="3.333" fill="#e7e7e7"/><g clip-path="url(#c10)"><path d="M170.2,830.2 171.5,853.8 172.9,883.1 174.2,904.3 175.6,925.1 176.9,950.1 178.2,966.6 179.6,986.1 180.9,997.5 182.3,1011.7 183.6,1016.0 184.9,1023.7 186.3,1033.0 187.6,1039.6 189.0,1049.4 190.3,1062.3 191.6,1061.9 193.0,1071.2 194.3,1080.1 195.7,1085.7 197.0,1097.3 198.3,1101.4 199.7,1106.9 201.0,1105.1 202.4,1112.5 203.7,1115.6 205.0,1117.1 206.4,1120.8 207.7,1121.3 209.0,1125.9 210.4,1123.8 211.7,1130.2 213.1,1132.7 214.4,1135.6 215.7,1135.6 217.1,1141.1 218.4,1144.4 219.8,1144.2 221.1,1143.6 222.4,1144.0 223.8,1148.0 225.1,1144.6 226.5,1141.3 227.8,1134.7 229.1,1130.3 230.5,1134.6 231.8,1135.3 233.2,1134.7 234.5,1140.3 235.8,1138.5 237.2,1136.2 238.5,1136.9 239.9,1140.4 241.2,1144.6 242.5,1144.5 243.9,1146.7 245.2,1154.1 246.6,1152.4 247.9,1151.4 249.2,1150.2 250.6,1152.1 251.9,1147.9 253.3,1152.3 254.6,1152.0 255.9,1150.6 257.3,1151.8 258.6,1149.0 260.0,1148.9 261.3,1150.3 262.6,1159.2 264.0,1162.3 265.3,1164.5 266.7,1162.4 268.0,1166.2 269.3,1165.3 270.7,1164.9 272.0,1165.9 273.4,1165.0 274.7,1169.6 276.0,1167.0 277.4,1170.5 278.7,1172.7 280.1,1176.1 281.4,1175.0 282.7,1172.2 284.1,1175.1 285.4,1169.1 286.7,1172.2 288.1,1170.4 289.4,1170.1 290.8,1172.0 292.1,1181.3 293.4,1183.0 294.8,1186.6 296.1,1190.7 297.5,1193.9 298.8,1196.4 300.1,1191.5 301.5,1184.2 302.8,1186.9 304.2,1187.3 305.5,1189.6 306.8,1186.2 308.2,1193.2 309.5,1198.0 310.9,1200.9 312.2,1204.3 313.5,1203.4 314.9,1204.5 316.2,1204.9 317.6,1208.7 318.9,1208.0 320.2,1205.6 321.6,1213.0 322.9,1216.9 324.3,1217.1 325.6,1216.7 326.9,1222.0 328.3,1219.7 329.6,1217.4 331.0,1222.7 332.3,1219.6 333.6,1214.7 335.0,1219.4 336.3,1227.5 337.7,1231.3 339.0,1235.0 340.3,1229.9 341.7,1228.1 343.0,1234.1 344.4,1234.2 345.7,1233.5 347.0,1233.0 348.4,1225.2 349.7,1222.1 351.1,1219.6 352.4,1225.6 353.7,1226.0 355.1,1229.9 356.4,1226.3 357.8,1231.0 359.1,1231.2 360.4,1231.0 361.8,1227.4 363.1,1224.3 364.4,1222.2 365.8,1227.8 367.1,1234.5 368.5,1240.9 369.8,1240.5 371.1,1240.2 372.5,1241.3 373.8,1241.3 375.2,1240.7 376.5,1246.0 377.8,1244.3 379.2,1241.3 380.5,1240.3 381.9,1238.1 383.2,1236.7 384.5,1236.6 385.9,1239.2 387.2,1240.7 388.6,1240.7 389.9,1246.0 391.2,1246.5 392.6,1248.3 393.9,1249.8 395.3,1250.4 396.6,1250.6 397.9,1251.2 399.3,1247.6 400.6,1245.5 402.0,1246.6 403.3,1246.5 404.6,1247.4 406.0,1239.4 407.3,1236.3 408.7,1242.0 410.0,1244.3 411.3,1243.7 412.7,1241.4 414.0,1245.2 415.4,1250.2 416.7,1251.0 418.0,1254.8 419.4,1256.6 420.7,1255.1 422.1,1252.8 423.4,1254.8 424.7,1257.6 426.1,1254.5 427.4,1253.7 428.8,1254.1 430.1,1256.8 431.4,1256.3 432.8,1255.3 434.1,1259.4 435.5,1259.5 436.8,1256.8 438.1,1263.4 439.5,1266.6 440.8,1262.6 442.1,1257.4 443.5,1256.8 444.8,1261.3 446.2,1263.7 447.5,1262.8 448.8,1258.5 450.2,1261.0 451.5,1264.6 452.9,1273.9 454.2,1273.4 455.5,1273.7 456.9,1270.1 458.2,1257.5 459.6,1254.3 460.9,1255.2 462.2,1261.9 463.6,1262.9 464.9,1259.9 466.3,1259.4 467.6,1260.8 468.9,1262.9 470.3,1267.0 471.6,1266.6 473.0,1262.2 474.3,1262.2 475.6,1269.4 477.0,1268.2 478.3,1264.4 479.7,1262.5 481.0,1263.7 482.3,1268.4 483.7,1266.7 485.0,1269.3 486.4,1269.7 487.7,1272.0 489.0,1268.0 490.4,1270.2 491.7,1270.9 493.1,1274.5 494.4,1274.4 495.7,1278.3 497.1,1279.5 498.4,1281.0 499.8,1279.8 501.1,1282.8 502.4,1281.9 503.8,1289.3 505.1,1289.1 506.5,1286.4 507.8,1284.5 509.1,1287.4 510.5,1279.4 511.8,1285.2 513.2,1289.4 514.5,1291.1 515.8,1294.2 517.2,1289.1 518.5,1289.2 519.8,1294.8 521.2,1293.5 522.5,1292.4 523.9,1296.7 525.2,1291.4 526.5,1295.4 527.9,1297.0 529.2,1298.0 530.6,1297.8 531.9,1299.9 533.2,1299.5 534.6,1303.4 535.9,1304.1 537.3,1309.5 538.6,1309.3 539.9,1311.0 541.3,1311.2 542.6,1310.9 544.0,1315.3 545.3,1310.4 546.6,1309.3 548.0,1306.0 549.3,1303.0 550.7,1303.5 552.0,1306.3 553.3,1308.3 554.7,1303.4 556.0,1303.0 557.4,1312.0 558.7,1315.2 560.0,1314.4 561.4,1312.1 562.7,1313.4 564.1,1312.3 565.4,1313.8 566.7,1316.9 568.1,1312.0 569.4,1313.1 570.8,1315.2 572.1,1311.0 573.4,1309.7 574.8,1311.8 576.1,1316.8 577.5,1316.3 578.8,1316.8 580.1,1316.8 581.5,1319.0 582.8,1322.3 584.2,1325.4 585.5,1325.7 586.8,1331.1 588.2,1331.0 589.5,1336.0 590.9,1331.3 592.2,1330.4 593.5,1335.7 594.9,1331.6 596.2,1334.9 597.5,1335.2 598.9,1334.4 600.2,1336.0 601.6,1335.7 602.9,1333.4 604.2,1328.0 605.6,1324.5 606.9,1323.7 608.3,1324.7 609.6,1327.8 610.9,1327.9 612.3,1330.6 613.6,1330.4 615.0,1329.3 616.3,1327.9 617.6,1332.6 619.0,1329.0 620.3,1330.9 621.7,1330.1 623.0,1331.6 624.3,1329.4 625.7,1330.5 627.0,1327.1 628.4,1333.0 629.7,1335.4 631.0,1339.9 632.4,1342.9 633.7,1339.2 635.1,1337.6 636.4,1337.4 637.7,1338.4 639.1,1340.5 640.4,1346.5 641.8,1342.0 643.1,1343.5 644.4,1348.6 645.8,1348.3 647.1,1344.8 648.5,1340.9 649.8,1338.6 651.1,1338.4 652.5,1333.9 653.8,1334.6 655.2,1334.7 656.5,1334.5 657.8,1338.0 659.2,1342.9 660.5,1349.9 661.9,1356.4 663.2,1358.4 664.5,1355.6 665.9,1345.4 667.2,1348.3 668.5,1346.3 669.9,1342.0 671.2,1344.0 672.6,1348.4 673.9,1350.8 675.2,1357.3 676.6,1349.9 677.9,1343.6 679.3,1341.5 680.6,1342.1 681.9,1344.9 683.3,1351.2 684.6,1352.7 686.0,1353.7 687.3,1363.6 688.6,1359.9 690.0,1358.7 691.3,1356.1 692.7,1353.0 694.0,1351.2 695.3,1350.2 696.7,1352.7 698.0,1354.2 699.4,1352.7 700.7,1358.0 702.0,1356.9 703.4,1359.7 704.7,1368.4 706.1,1365.2 707.4,1362.6 708.7,1357.4 710.1,1357.8 711.4,1351.6 712.8,1357.0 714.1,1351.8 715.4,1354.0 716.8,1347.7 718.1,1348.3 719.5,1354.4 720.8,1354.1 722.1,1356.8 723.5,1352.9 724.8,1356.1 726.2,1356.4 727.5,1361.3 728.8,1361.3 730.2,1363.2 731.5,1355.5 732.9,1360.2 734.2,1361.9 735.5,1363.3 736.9,1371.9 738.2,1373.1 739.6,1371.9 740.9,1365.8 742.2,1365.8 743.6,1366.4 744.9,1367.2 746.2,1366.1 747.6,1364.5 748.9,1364.3 750.3,1366.2 751.6,1364.3 752.9,1363.5 754.3,1364.5 755.6,1371.9 757.0,1370.9 758.3,1370.1 759.6,1376.2 761.0,1366.8 762.3,1364.4 763.7,1360.3 765.0,1363.8 766.3,1371.5 767.7,1384.7 769.0,1384.7 770.4,1379.9 771.7,1371.7 773.0,1371.6 774.4,1369.6 775.7,1369.8 777.1,1371.6 778.4,1370.8 779.7,1373.3 781.1,1377.5 782.4,1379.4 783.8,1380.7 785.1,1381.5 786.4,1386.1 787.8,1383.7 789.1,1390.1 790.5,1392.4 791.8,1386.8 793.1,1383.5 794.5,1378.2 795.8,1380.5 797.2,1382.8 798.5,1386.1 799.8,1387.8 801.2,1389.8 802.5,1389.6 803.9,1381.2 805.2,1381.2 806.5,1390.8 807.9,1396.1 809.2,1395.3 810.6,1391.2 811.9,1395.4 813.2,1395.1 814.6,1391.4 815.9,1394.8 817.3,1397.3 818.6,1397.1 819.9,1392.5 821.3,1394.8 822.6,1391.8 823.9,1394.8 825.3,1396.1 826.6,1399.9 828.0,1402.9 829.3,1399.5 830.6,1398.1 832.0,1400.1 833.3,1399.8 834.7,1396.6 836.0,1401.4 837.3,1401.8 838.7,1402.2 840.0,1402.2 841.4,1405.6 842.7,1407.1 844.0,1403.2 845.4,1403.6 846.7,1398.5 848.1,1403.2 849.4,1402.0 850.7,1406.3 852.1,1406.7 853.4,1407.5 854.8,1403.9 856.1,1403.4 857.4,1404.6 858.8,1407.5 860.1,1410.9 861.5,1408.2 862.8,1411.8 864.1,1413.6 865.5,1416.1 866.8,1414.5 868.2,1413.4 869.5,1414.7 870.8,1409.1 872.2,1406.3 873.5,1412.4 874.9,1417.5 876.2,1426.5 877.5,1430.0 878.9,1425.6 880.2,1425.7 881.6,1418.5 882.9,1420.0 884.2,1419.0 885.6,1412.5 886.9,1407.8 888.3,1412.6 889.6,1417.7 890.9,1422.7 892.3,1422.0 893.6,1423.0 895.0,1421.6 896.3,1425.1 897.6,1424.6 899.0,1418.1 900.3,1419.3 901.6,1420.3 903.0,1419.9 904.3,1416.6 905.7,1414.8 907.0,1423.7 908.3,1424.7 909.7,1427.4 911.0,1426.7 912.4,1426.1 913.7,1430.0 915.0,1425.0 916.4,1424.8 917.7,1431.7 919.1,1431.3 920.4,1430.7 921.7,1425.4 923.1,1423.6 924.4,1423.6 925.8,1425.2 927.1,1423.6 928.4,1426.7 929.8,1425.1 931.1,1422.9 932.5,1426.0 933.8,1426.5 935.1,1429.0 936.5,1429.3 937.8,1431.4 939.2,1425.9 940.5,1426.1 941.8,1427.2 943.2,1428.3 944.5,1433.2 945.9,1433.6 947.2,1435.5 948.5,1445.5 949.9,1443.0 951.2,1441.8 952.6,1437.2 953.9,1438.3 955.2,1439.5 956.6,1441.7 957.9,1440.6 959.3,1438.4 960.6,1437.2 961.9,1436.5 963.3,1432.2 964.6,1433.0 966.0,1431.2 967.3,1437.1 968.6,1440.0 970.0,1441.7 971.3,1438.3 972.7,1436.1 974.0,1437.0 975.3,1436.2 976.7,1439.4 978.0,1446.9 979.3,1447.0 980.7,1444.8 982.0,1441.8 983.4,1436.2 984.7,1439.4 986.0,1442.7 987.4,1441.8 988.7,1439.6 990.1,1439.4 991.4,1439.3 992.7,1440.0 994.1,1444.9 995.4,1447.1 996.8,1449.9 998.1,1448.4 999.4,1448.6 1000.8,1445.4 1002.1,1444.6 1003.5,1447.6 1004.8,1449.4 1006.1,1448.7 1007.5,1448.1 1008.8,1447.2 1010.2,1447.4 1011.5,1455.0 1012.8,1452.0 1014.2,1447.5 1015.5,1446.8 1016.9,1447.8 1018.2,1446.9 1019.5,1450.8 1020.9,1448.7 1022.2,1454.5 1023.6,1459.0 1024.9,1464.2 1026.2,1468.9 1027.6,1466.0 1028.9,1465.8 1030.3,1456.8 1031.6,1455.8 1032.9,1457.7 1034.3,1464.5 1035.6,1461.8 1037.0,1461.0 1038.3,1464.9 1039.6,1465.2 1041.0,1464.9 1042.3,1460.5 1043.7,1457.1 1045.0,1460.1 1046.3,1464.4 1047.7,1458.2 1049.0,1461.5 1050.4,1460.2 1051.7,1459.6 1053.0,1454.6 1054.4,1458.6 1055.7,1460.6 1057.0,1455.4 1058.4,1455.7 1059.7,1448.6 1061.1,1456.1 1062.4,1462.8" fill="none" stroke="#e41a1c" stroke-opacity="0.31" stroke-width="6.25" stroke-linejoin="round" stroke-linecap="square"/><path d="M170.2,835.6 171.5,860.4 172.9,886.5 174.2,906.0 175.6,926.3 176.9,948.5 178.2,965.0 179.6,984.5 180.9,998.3 182.3,1012.0 183.6,1018.8 184.9,1026.5 186.3,1037.7 187.6,1042.3 189.0,1053.6 190.3,1060.2 191.6,1056.5 193.0,1064.8 194.3,1068.9 195.7,1074.7 197.0,1083.6 198.3,1088.8 199.7,1093.3 201.0,1092.5 202.4,1098.6 203.7,1104.6 205.0,1107.3 206.4,1110.7 207.7,1109.7 209.0,1111.3 210.4,1107.6 211.7,1114.9 213.1,1119.9 214.4,1125.4 215.7,1130.6 217.1,1135.0 218.4,1134.3 219.8,1132.9 221.1,1134.0 222.4,1137.2 223.8,1141.7 225.1,1136.2 226.5,1132.4 227.8,1127.5 229.1,1127.2 230.5,1132.4 231.8,1132.6 233.2,1131.3 234.5,1135.0 235.8,1131.8 237.2,1131.4 238.5,1132.2 239.9,1134.2 241.2,1136.4 242.5,1140.2 243.9,1140.0 245.2,1146.0 246.6,1143.8 247.9,1143.5 249.2,1144.8 250.6,1149.6 251.9,1149.4 253.3,1152.1 254.6,1152.5 255.9,1151.9 257.3,1154.2 258.6,1152.5 260.0,1152.7 261.3,1151.0 262.6,1159.1 264.0,1163.4 265.3,1166.0 266.7,1162.7 268.0,1166.8 269.3,1165.6 270.7,1164.2 272.0,1166.4 273.4,1165.2 274.7,1167.6 276.0,1168.6 277.4,1172.3 278.7,1174.7 280.1,1178.1 281.4,1178.1 282.7,1173.4 284.1,1175.0 285.4,1173.7 286.7,1174.1 288.1,1171.7 289.4,1170.7 290.8,1172.8 292.1,1177.2 293.4,1179.1 294.8,1183.5 296.1,1185.8 297.5,1186.0 298.8,1189.6 300.1,1188.4 301.5,1184.1 302.8,1184.7 304.2,1184.7 305.5,1186.8 306.8,1183.4 308.2,1190.9 309.5,1197.1 310.9,1196.9 312.2,1199.7 313.5,1200.1 314.9,1199.4 316.2,1199.9 317.6,1203.9 318.9,1203.3 320.2,1199.1 321.6,1206.4 322.9,1208.4 324.3,1206.9 325.6,1208.3 326.9,1212.5 328.3,1209.4 329.6,1206.1 331.0,1211.6 332.3,1211.1 333.6,1207.5 335.0,1211.3 336.3,1220.9 337.7,1225.3 339.0,1228.0 340.3,1224.7 341.7,1226.1 343.0,1229.6 344.4,1231.2 345.7,1231.0 347.0,1232.5 348.4,1224.3 349.7,1223.9 351.1,1220.9 352.4,1224.0 353.7,1225.7 355.1,1226.5 356.4,1224.1 357.8,1228.3 359.1,1228.4 360.4,1228.5 361.8,1225.2 363.1,1222.1 364.4,1222.5 365.8,1227.9 367.1,1232.7 368.5,1239.5 369.8,1239.5 371.1,1236.8 372.5,1237.2 373.8,1242.8 375.2,1240.9 376.5,1241.9 377.8,1240.8 379.2,1240.2 380.5,1238.9 381.9,1233.1 383.2,1232.9 384.5,1230.8 385.9,1233.2 387.2,1237.6 388.6,1237.5 389.9,1238.7 391.2,1240.0 392.6,1238.8 393.9,1239.7 395.3,1240.0 396.6,1243.5 397.9,1247.7 399.3,1242.5 400.6,1241.9 402.0,1240.5 403.3,1238.7 404.6,1239.9 406.0,1233.2 407.3,1229.8 408.7,1237.8 410.0,1241.6 411.3,1242.0 412.7,1236.2 414.0,1232.4 415.4,1237.1 416.7,1239.1 418.0,1240.0 419.4,1244.7 420.7,1246.7 422.1,1249.3 423.4,1251.8 424.7,1255.3 426.1,1252.9 427.4,1251.3 428.8,1250.5 430.1,1252.4 431.4,1253.5 432.8,1249.2 434.1,1249.7 435.5,1252.3 436.8,1252.7 438.1,1259.6 439.5,1265.1 440.8,1260.8 442.1,1255.0 443.5,1250.8 444.8,1256.5 446.2,1255.0 447.5,1253.6 448.8,1249.8 450.2,1256.9 451.5,1260.4 452.9,1268.8 454.2,1262.4 455.5,1263.0 456.9,1258.9 458.2,1249.3 459.6,1246.2 460.9,1247.1 462.2,1253.7 463.6,1252.8 464.9,1251.2 466.3,1253.7 467.6,1256.9 468.9,1256.7 470.3,1259.4 471.6,1258.0 473.0,1254.0 474.3,1251.2 475.6,1260.2 477.0,1256.4 478.3,1252.2 479.7,1250.8 481.0,1255.7 482.3,1258.4 483.7,1253.9 485.0,1255.8 486.4,1260.0 487.7,1262.1 489.0,1257.3 490.4,1263.4 491.7,1268.7 493.1,1273.6 494.4,1273.5 495.7,1276.0 497.1,1276.9 498.4,1275.2 499.8,1275.2 501.1,1278.6 502.4,1270.9 503.8,1277.8 505.1,1276.6 506.5,1274.3 507.8,1274.2 509.1,1276.7 510.5,1266.1 511.8,1268.8 513.2,1276.5 514.5,1282.4 515.8,1289.3 517.2,1286.6 518.5,1286.7 519.8,1289.5 521.2,1288.3 522.5,1287.7 523.9,1284.8 525.2,1279.8 526.5,1279.0 527.9,1281.8 529.2,1284.6 530.6,1282.5 531.9,1281.5 533.2,1285.1 534.6,1288.1 535.9,1284.3 537.3,1285.9 538.6,1292.1 539.9,1292.6 541.3,1291.7 542.6,1289.7 544.0,1290.6 545.3,1289.6 546.6,1288.3 548.0,1288.1 549.3,1289.4 550.7,1288.7 552.0,1289.1 553.3,1299.0 554.7,1299.5 556.0,1296.8 557.4,1300.6 558.7,1297.7 560.0,1296.2 561.4,1294.6 562.7,1295.6 564.1,1302.0 565.4,1302.3 566.7,1301.6 568.1,1296.3 569.4,1295.3 570.8,1295.2 572.1,1293.0 573.4,1293.1 574.8,1294.0 576.1,1297.8 577.5,1301.8 578.8,1305.1 580.1,1308.7 581.5,1312.6 582.8,1310.1 584.2,1311.1 585.5,1308.2 586.8,1308.4 588.2,1308.0 589.5,1312.0 590.9,1310.0 592.2,1308.8 593.5,1310.4 594.9,1308.3 596.2,1311.7 597.5,1312.1 598.9,1312.9 600.2,1312.1 601.6,1310.3 602.9,1307.4 604.2,1297.7 605.6,1298.3 606.9,1300.4 608.3,1308.0 609.6,1309.1 610.9,1307.6 612.3,1313.0 613.6,1317.1 615.0,1317.3 616.3,1314.0 617.6,1314.7 619.0,1319.9 620.3,1318.5 621.7,1318.8 623.0,1319.7 624.3,1312.6 625.7,1315.8 627.0,1311.7 628.4,1309.2 629.7,1312.0 631.0,1316.9 632.4,1323.0 633.7,1322.5 635.1,1318.1 636.4,1315.4 637.7,1317.4 639.1,1320.8 640.4,1320.8 641.8,1323.6 643.1,1330.4 644.4,1329.9 645.8,1326.9 647.1,1327.2 648.5,1323.7 649.8,1324.1 651.1,1324.4 652.5,1324.4 653.8,1322.2 655.2,1319.7 656.5,1322.2 657.8,1321.7 659.2,1323.4 660.5,1330.0 661.9,1338.6 663.2,1336.0 664.5,1330.4 665.9,1323.1 667.2,1320.4 668.5,1322.4 669.9,1323.7 671.2,1328.6 672.6,1332.8 673.9,1334.7 675.2,1343.2 676.6,1336.7 677.9,1331.0 679.3,1330.2 680.6,1327.4 681.9,1330.3 683.3,1332.1 684.6,1338.3 686.0,1340.2 687.3,1337.4 688.6,1336.5 690.0,1335.0 691.3,1334.9 692.7,1339.7 694.0,1337.6 695.3,1338.2 696.7,1339.7 698.0,1345.5 699.4,1342.5 700.7,1346.2 702.0,1342.8 703.4,1340.1 704.7,1344.4 706.1,1346.2 707.4,1346.0 708.7,1341.0 710.1,1339.5 711.4,1334.5 712.8,1336.0 714.1,1332.5 715.4,1330.8 716.8,1332.8 718.1,1333.3 719.5,1337.7 720.8,1337.7 722.1,1342.0 723.5,1340.2 724.8,1343.8 726.2,1346.7 727.5,1348.1 728.8,1349.4 730.2,1350.6 731.5,1352.0 732.9,1353.7 734.2,1352.4 735.5,1349.6 736.9,1348.5 738.2,1346.7 739.6,1347.3 740.9,1354.1 742.2,1353.4 743.6,1351.6 744.9,1352.6 746.2,1353.7 747.6,1356.0 748.9,1352.0 750.3,1351.7 751.6,1350.8 752.9,1347.2 754.3,1347.6 755.6,1347.0 757.0,1347.1 758.3,1344.3 759.6,1348.5 761.0,1352.1 762.3,1352.1 763.7,1353.4 765.0,1349.2 766.3,1345.1 767.7,1341.9 769.0,1344.9 770.4,1348.4 771.7,1352.8 773.0,1351.7 774.4,1356.3 775.7,1360.5 777.1,1362.9 778.4,1359.9 779.7,1351.6 781.1,1350.5 782.4,1354.3 783.8,1358.1 785.1,1357.7 786.4,1361.7 787.8,1363.6 789.1,1361.2 790.5,1358.1 791.8,1356.9 793.1,1357.6 794.5,1362.3 795.8,1364.1 797.2,1363.4 798.5,1361.9 799.8,1363.0 801.2,1358.6 802.5,1357.6 803.9,1356.1 805.2,1360.0 806.5,1363.7 807.9,1363.1 809.2,1363.6 810.6,1361.0 811.9,1365.2 813.2,1363.8 814.6,1369.0 815.9,1364.1 817.3,1358.0 818.6,1361.0 819.9,1359.7 821.3,1361.6 822.6,1367.6 823.9,1373.7 825.3,1375.3 826.6,1376.2 828.0,1372.5 829.3,1372.0 830.6,1376.6 832.0,1379.0 833.3,1380.1 834.7,1383.5 836.0,1387.7 837.3,1380.6 838.7,1381.5 840.0,1379.9 841.4,1380.8 842.7,1379.0 844.0,1379.8 845.4,1383.0 846.7,1380.0 848.1,1383.2 849.4,1381.0 850.7,1380.7 852.1,1381.5 853.4,1384.0 854.8,1379.7 856.1,1382.5 857.4,1380.9 858.8,1383.0 860.1,1376.9 861.5,1376.0 862.8,1383.2 864.1,1389.7 865.5,1385.6 866.8,1389.7 868.2,1390.1 869.5,1388.6 870.8,1387.3 872.2,1388.5 873.5,1389.1 874.9,1392.5 876.2,1396.8 877.5,1398.9 878.9,1399.7 880.2,1398.5 881.6,1391.6 882.9,1390.6 884.2,1390.4 885.6,1390.3 886.9,1387.6 888.3,1389.9 889.6,1388.8 890.9,1388.2 892.3,1388.4 893.6,1391.1 895.0,1392.9 896.3,1394.3 897.6,1395.6 899.0,1398.6 900.3,1399.2 901.6,1395.9 903.0,1398.7 904.3,1401.7 905.7,1403.1 907.0,1401.1 908.3,1396.8 909.7,1393.1 911.0,1392.5 912.4,1394.8 913.7,1401.8 915.0,1406.5 916.4,1405.1 917.7,1402.2 919.1,1399.1 920.4,1399.0 921.7,1398.3 923.1,1392.0 924.4,1392.8 925.8,1397.9 927.1,1400.9 928.4,1404.5 929.8,1402.3 931.1,1407.7 932.5,1402.4 933.8,1395.3 935.1,1396.6 936.5,1393.0 937.8,1394.8 939.2,1400.6 940.5,1402.5 941.8,1403.1 943.2,1404.6 944.5,1402.8 945.9,1403.6 947.2,1400.3 948.5,1403.1 949.9,1410.5 951.2,1413.2 952.6,1413.9 953.9,1411.3 955.2,1416.2 956.6,1412.4 957.9,1412.6 959.3,1410.3 960.6,1410.4 961.9,1406.9 963.3,1407.2 964.6,1405.4 966.0,1409.7 967.3,1414.3 968.6,1406.6 970.0,1408.4 971.3,1409.4 972.7,1410.3 974.0,1414.5 975.3,1410.2 976.7,1412.1 978.0,1413.7 979.3,1418.7 980.7,1420.5 982.0,1413.1 983.4,1407.7 984.7,1409.3 986.0,1412.8 987.4,1415.1 988.7,1408.9 990.1,1409.3 991.4,1412.9 992.7,1412.7 994.1,1416.9 995.4,1420.2 996.8,1420.3 998.1,1425.6 999.4,1427.0 1000.8,1428.8 1002.1,1427.6 1003.5,1428.4 1004.8,1423.5 1006.1,1423.2 1007.5,1427.8 1008.8,1432.4 1010.2,1437.7 1011.5,1437.7 1012.8,1429.8 1014.2,1422.4 1015.5,1422.1 1016.9,1428.5 1018.2,1423.8 1019.5,1424.3 1020.9,1422.2 1022.2,1422.9 1023.6,1423.6 1024.9,1428.9 1026.2,1427.5 1027.6,1430.9 1028.9,1431.8 1030.3,1431.0 1031.6,1432.5 1032.9,1428.2 1034.3,1432.1 1035.6,1427.0 1037.0,1430.7 1038.3,1430.9 1039.6,1429.4 1041.0,1433.9 1042.3,1430.1 1043.7,1423.0 1045.0,1425.7 1046.3,1422.1 1047.7,1427.3 1049.0,1432.6 1050.4,1429.1 1051.7,1426.8 1053.0,1427.4 1054.4,1430.3 1055.7,1433.4 1057.0,1432.1 1058.4,1438.2 1059.7,1442.4 1061.1,1436.7 1062.4,1440.5" fill="none" stroke="#377eb8" stroke-opacity="0.31" stroke-width="6.25" stroke-linejoin="round" stroke-linecap="square"/></g><rect x="123.833" y="1045.833" width="985.333" height="3.333" fill="#000"/><rect x="123.833" y="1645.833" width="985.333" height="3.333" fill="#000"/><rect x="123.833" y="1045.833" width="3.333" height="603.333" fill="#000"/><rect x="1105.833" y="1045.833" width="3.333" height="603.333" fill="#000"/><rect x="110.4" y="1645.833" width="15.1" height="3.333" fill="#000"/><rect x="110.4" y="1476.833" width="15.1" height="3.333" fill="#000"/><rect x="110.4" y="1306.833" width="15.1" height="3.333" fill="#000"/><rect x="110.4" y="1136.833" width="15.1" height="3.333" fill="#000"/><rect x="168.833" y="1647.8" width="3.333" height="15.1" fill="#000"/><rect x="391.833" y="1647.8" width="3.333" height="15.1" fill="#000"/><rect x="614.833" y="1647.8" width="3.333" height="15.1" fill="#000"/><rect x="838.833" y="1647.8" width="3.333" height="15.1" fill="#000"/><rect x="1061.833" y="1647.8" width="3.333" height="15.1" fill="#000"/><text x="96.3" y="1663.4" text-anchor="end" class="tl" textLength="66.25" lengthAdjust="spacingAndGlyphs">0.0</text><text x="96.3" y="1493.8" text-anchor="end" class="tl" textLength="66.25" lengthAdjust="spacingAndGlyphs">0.5</text><text x="96.3" y="1324.1" text-anchor="end" class="tl" textLength="66.25" lengthAdjust="spacingAndGlyphs">1.0</text><text x="96.3" y="1156.0" text-anchor="end" class="tl" textLength="66.25" lengthAdjust="spacingAndGlyphs">1.5</text><text x="170.2" y="1708.9" text-anchor="middle" class="tl" textLength="26.50" lengthAdjust="spacingAndGlyphs">0</text><text x="393.5" y="1708.9" text-anchor="middle" class="tl" textLength="79.50" lengthAdjust="spacingAndGlyphs">500</text><text x="616.8" y="1708.9" text-anchor="middle" class="tl" textLength="106.00" lengthAdjust="spacingAndGlyphs">1000</text><text x="840.0" y="1708.9" text-anchor="middle" class="tl" textLength="106.00" lengthAdjust="spacingAndGlyphs">1500</text><text x="1063.3" y="1708.9" text-anchor="middle" class="tl" textLength="105.88" lengthAdjust="spacingAndGlyphs">2000</text><text x="616.5" y="1022.6" text-anchor="middle" class="st" textLength="351.12" lengthAdjust="spacingAndGlyphs">depth=3, width=512</text>
<rect x="1305.833" y="1047.8" width="3.333" height="600.0" fill="#e7e7e7"/><rect x="1528.833" y="1047.8" width="3.333" height="600.0" fill="#e7e7e7"/><rect x="1751.833" y="1047.8" width="3.333" height="600.0" fill="#e7e7e7"/><rect x="1975.833" y="1047.8" width="3.333" height="600.0" fill="#e7e7e7"/><rect x="2198.833" y="1047.8" width="3.333" height="600.0" fill="#e7e7e7"/><rect x="1262.5" y="1476.833" width="981.9" height="3.333" fill="#e7e7e7"/><rect x="1262.5" y="1306.833" width="981.9" height="3.333" fill="#e7e7e7"/><rect x="1262.5" y="1136.833" width="981.9" height="3.333" fill="#e7e7e7"/><g clip-path="url(#c11)"><path d="M1307.2,832.9 1308.5,861.2 1309.9,886.0 1311.2,916.3 1312.6,932.8 1313.9,956.3 1315.2,964.4 1316.6,981.3 1317.9,992.0 1319.3,1001.3 1320.6,1005.4 1321.9,1016.1 1323.3,1022.6 1324.6,1029.8 1326.0,1038.2 1327.3,1045.0 1328.6,1058.9 1330.0,1070.0 1331.3,1074.9 1332.7,1087.1 1334.0,1093.9 1335.3,1097.7 1336.7,1105.3 1338.0,1102.4 1339.4,1104.1 1340.7,1100.7 1342.0,1106.7 1343.4,1110.8 1344.7,1103.8 1346.0,1106.4 1347.4,1104.1 1348.7,1108.5 1350.1,1109.1 1351.4,1115.7 1352.7,1118.4 1354.1,1116.7 1355.4,1116.9 1356.8,1118.6 1358.1,1121.0 1359.4,1127.5 1360.8,1127.3 1362.1,1121.7 1363.5,1124.1 1364.8,1123.7 1366.1,1123.4 1367.5,1121.0 1368.8,1124.1 1370.2,1119.0 1371.5,1127.6 1372.8,1133.8 1374.2,1140.5 1375.5,1140.5 1376.9,1141.0 1378.2,1135.9 1379.5,1131.0 1380.9,1131.1 1382.2,1125.9 1383.6,1127.4 1384.9,1141.1 1386.2,1147.9 1387.6,1154.4 1388.9,1163.7 1390.3,1165.8 1391.6,1166.2 1392.9,1168.2 1394.3,1165.9 1395.6,1167.3 1397.0,1168.5 1398.3,1174.1 1399.6,1169.5 1401.0,1165.5 1402.3,1165.6 1403.7,1165.7 1405.0,1163.0 1406.3,1163.8 1407.7,1166.3 1409.0,1166.9 1410.4,1171.1 1411.7,1177.1 1413.0,1178.2 1414.4,1178.4 1415.7,1177.2 1417.1,1175.0 1418.4,1174.0 1419.7,1183.9 1421.1,1181.2 1422.4,1183.4 1423.7,1180.9 1425.1,1180.1 1426.4,1180.4 1427.8,1179.8 1429.1,1185.2 1430.4,1188.2 1431.8,1187.8 1433.1,1189.9 1434.5,1187.3 1435.8,1181.8 1437.1,1184.7 1438.5,1182.5 1439.8,1183.8 1441.2,1185.3 1442.5,1190.3 1443.8,1188.1 1445.2,1185.6 1446.5,1186.8 1447.9,1184.6 1449.2,1192.3 1450.5,1193.9 1451.9,1196.2 1453.2,1198.5 1454.6,1203.5 1455.9,1199.6 1457.2,1204.1 1458.6,1205.4 1459.9,1205.3 1461.3,1205.5 1462.6,1208.5 1463.9,1205.7 1465.3,1205.1 1466.6,1203.4 1468.0,1200.3 1469.3,1200.2 1470.6,1199.9 1472.0,1205.4 1473.3,1209.3 1474.7,1210.1 1476.0,1213.9 1477.3,1212.1 1478.7,1215.6 1480.0,1215.7 1481.4,1214.8 1482.7,1221.8 1484.0,1221.4 1485.4,1215.9 1486.7,1211.9 1488.1,1217.8 1489.4,1223.0 1490.7,1223.2 1492.1,1218.3 1493.4,1211.0 1494.8,1214.4 1496.1,1211.2 1497.4,1209.6 1498.8,1217.3 1500.1,1218.1 1501.4,1222.9 1502.8,1227.3 1504.1,1231.5 1505.5,1225.7 1506.8,1229.4 1508.1,1223.7 1509.5,1230.6 1510.8,1226.6 1512.2,1223.8 1513.5,1224.2 1514.8,1226.8 1516.2,1229.6 1517.5,1231.1 1518.9,1229.5 1520.2,1229.8 1521.5,1227.9 1522.9,1222.7 1524.2,1220.3 1525.6,1217.2 1526.9,1213.1 1528.2,1217.3 1529.6,1226.8 1530.9,1230.9 1532.3,1235.7 1533.6,1229.9 1534.9,1227.4 1536.3,1229.7 1537.6,1232.7 1539.0,1232.6 1540.3,1236.1 1541.6,1238.9 1543.0,1240.0 1544.3,1238.8 1545.7,1244.3 1547.0,1245.1 1548.3,1244.2 1549.7,1242.3 1551.0,1240.8 1552.4,1243.0 1553.7,1244.5 1555.0,1247.0 1556.4,1245.3 1557.7,1249.8 1559.1,1257.5 1560.4,1256.6 1561.7,1254.9 1563.1,1257.0 1564.4,1254.3 1565.8,1253.6 1567.1,1253.8 1568.4,1261.2 1569.8,1256.5 1571.1,1253.0 1572.5,1253.0 1573.8,1254.7 1575.1,1258.0 1576.5,1260.2 1577.8,1264.5 1579.1,1270.1 1580.5,1267.4 1581.8,1263.2 1583.2,1262.5 1584.5,1258.3 1585.8,1259.1 1587.2,1263.0 1588.5,1265.0 1589.9,1271.9 1591.2,1272.3 1592.5,1271.4 1593.9,1271.8 1595.2,1274.2 1596.6,1269.4 1597.9,1273.3 1599.2,1273.6 1600.6,1269.9 1601.9,1268.7 1603.3,1270.0 1604.6,1272.9 1605.9,1272.9 1607.3,1264.7 1608.6,1268.5 1610.0,1268.4 1611.3,1267.3 1612.6,1269.2 1614.0,1272.0 1615.3,1275.1 1616.7,1275.3 1618.0,1274.0 1619.3,1269.7 1620.7,1265.5 1622.0,1266.6 1623.4,1269.2 1624.7,1269.8 1626.0,1268.6 1627.4,1277.7 1628.7,1277.1 1630.1,1274.4 1631.4,1270.9 1632.7,1272.5 1634.1,1274.9 1635.4,1273.5 1636.8,1271.6 1638.1,1267.4 1639.4,1271.2 1640.8,1277.2 1642.1,1278.4 1643.5,1280.1 1644.8,1275.2 1646.1,1286.0 1647.5,1282.7 1648.8,1283.2 1650.2,1288.1 1651.5,1287.3 1652.8,1281.3 1654.2,1279.7 1655.5,1277.0 1656.8,1278.5 1658.2,1274.5 1659.5,1275.9 1660.9,1277.2 1662.2,1279.3 1663.5,1283.0 1664.9,1285.0 1666.2,1285.0 1667.6,1284.2 1668.9,1288.5 1670.2,1291.4 1671.6,1288.6 1672.9,1290.9 1674.3,1292.4 1675.6,1295.3 1676.9,1301.2 1678.3,1303.2 1679.6,1299.8 1681.0,1305.5 1682.3,1305.6 1683.6,1308.1 1685.0,1312.3 1686.3,1316.8 1687.7,1315.9 1689.0,1318.5 1690.3,1314.9 1691.7,1309.6 1693.0,1307.5 1694.4,1309.9 1695.7,1312.5 1697.0,1308.5 1698.4,1311.2 1699.7,1316.8 1701.1,1321.4 1702.4,1324.3 1703.7,1316.8 1705.1,1314.3 1706.4,1315.6 1707.8,1318.2 1709.1,1313.7 1710.4,1315.3 1711.8,1312.9 1713.1,1320.4 1714.5,1319.7 1715.8,1321.9 1717.1,1317.9 1718.5,1321.5 1719.8,1329.1 1721.2,1334.4 1722.5,1325.6 1723.8,1326.2 1725.2,1329.6 1726.5,1328.3 1727.9,1327.6 1729.2,1326.1 1730.5,1322.8 1731.9,1321.9 1733.2,1323.1 1734.5,1323.8 1735.9,1328.0 1737.2,1331.3 1738.6,1330.1 1739.9,1326.2 1741.2,1322.4 1742.6,1323.3 1743.9,1331.0 1745.3,1333.9 1746.6,1334.9 1747.9,1333.4 1749.3,1332.5 1750.6,1333.0 1752.0,1329.4 1753.3,1328.1 1754.6,1328.5 1756.0,1322.4 1757.3,1320.3 1758.7,1320.0 1760.0,1324.3 1761.3,1329.0 1762.7,1336.6 1764.0,1338.4 1765.4,1336.6 1766.7,1337.6 1768.0,1337.0 1769.4,1335.7 1770.7,1335.8 1772.1,1334.2 1773.4,1331.6 1774.7,1336.5 1776.1,1338.6 1777.4,1340.1 1778.8,1339.1 1780.1,1345.0 1781.4,1343.6 1782.8,1343.3 1784.1,1339.9 1785.5,1341.7 1786.8,1341.4 1788.1,1337.7 1789.5,1341.2 1790.8,1343.5 1792.2,1343.5 1793.5,1338.8 1794.8,1339.3 1796.2,1337.5 1797.5,1338.0 1798.9,1339.6 1800.2,1335.1 1801.5,1345.5 1802.9,1347.1 1804.2,1350.9 1805.5,1344.4 1806.9,1343.3 1808.2,1342.8 1809.6,1352.4 1810.9,1353.2 1812.2,1354.4 1813.6,1348.4 1814.9,1352.1 1816.3,1357.4 1817.6,1358.8 1818.9,1357.9 1820.3,1356.7 1821.6,1358.6 1823.0,1358.9 1824.3,1361.6 1825.6,1353.5 1827.0,1351.5 1828.3,1358.1 1829.7,1358.6 1831.0,1358.2 1832.3,1359.8 1833.7,1361.9 1835.0,1364.0 1836.4,1359.8 1837.7,1360.1 1839.0,1359.9 1840.4,1356.4 1841.7,1358.3 1843.1,1359.3 1844.4,1359.7 1845.7,1366.3 1847.1,1367.9 1848.4,1368.6 1849.8,1364.9 1851.1,1362.7 1852.4,1365.2 1853.8,1362.1 1855.1,1367.3 1856.5,1362.4 1857.8,1362.0 1859.1,1365.0 1860.5,1364.9 1861.8,1367.8 1863.2,1368.5 1864.5,1368.9 1865.8,1366.3 1867.2,1366.5 1868.5,1368.0 1869.9,1373.7 1871.2,1376.9 1872.5,1374.3 1873.9,1371.4 1875.2,1370.1 1876.6,1369.2 1877.9,1373.4 1879.2,1378.1 1880.6,1377.0 1881.9,1375.1 1883.2,1372.4 1884.6,1372.0 1885.9,1369.9 1887.3,1373.5 1888.6,1372.1 1889.9,1377.3 1891.3,1379.6 1892.6,1376.5 1894.0,1365.3 1895.3,1370.0 1896.6,1374.6 1898.0,1373.5 1899.3,1374.1 1900.7,1377.9 1902.0,1377.0 1903.3,1379.6 1904.7,1381.6 1906.0,1381.4 1907.4,1382.2 1908.7,1385.9 1910.0,1392.7 1911.4,1391.4 1912.7,1394.3 1914.1,1392.3 1915.4,1388.7 1916.7,1389.3 1918.1,1393.9 1919.4,1392.3 1920.8,1395.7 1922.1,1399.6 1923.4,1403.5 1924.8,1398.7 1926.1,1394.7 1927.5,1392.3 1928.8,1389.3 1930.1,1394.1 1931.5,1395.6 1932.8,1399.2 1934.2,1400.5 1935.5,1400.8 1936.8,1398.1 1938.2,1401.8 1939.5,1398.3 1940.9,1399.3 1942.2,1402.9 1943.5,1404.8 1944.9,1404.2 1946.2,1404.9 1947.6,1404.3 1948.9,1406.0 1950.2,1402.6 1951.6,1404.3 1952.9,1410.5 1954.3,1410.3 1955.6,1410.7 1956.9,1413.8 1958.3,1413.7 1959.6,1409.3 1960.9,1408.1 1962.3,1404.5 1963.6,1405.0 1965.0,1405.3 1966.3,1407.2 1967.6,1409.5 1969.0,1409.7 1970.3,1412.9 1971.7,1412.6 1973.0,1411.7 1974.3,1408.8 1975.7,1406.1 1977.0,1413.0 1978.4,1417.2 1979.7,1417.7 1981.0,1409.0 1982.4,1407.7 1983.7,1410.9 1985.1,1410.8 1986.4,1409.7 1987.7,1408.0 1989.1,1414.0 1990.4,1414.8 1991.8,1415.9 1993.1,1416.6 1994.4,1421.6 1995.8,1420.6 1997.1,1419.6 1998.5,1417.3 1999.8,1413.3 2001.1,1415.6 2002.5,1417.2 2003.8,1420.2 2005.2,1421.8 2006.5,1422.4 2007.8,1417.1 2009.2,1415.9 2010.5,1415.5 2011.9,1414.2 2013.2,1413.4 2014.5,1412.5 2015.9,1417.7 2017.2,1421.7 2018.6,1424.0 2019.9,1425.5 2021.2,1422.3 2022.6,1419.8 2023.9,1420.2 2025.3,1424.8 2026.6,1416.2 2027.9,1411.1 2029.3,1411.0 2030.6,1411.1 2032.0,1411.9 2033.3,1413.2 2034.6,1420.5 2036.0,1422.8 2037.3,1423.1 2038.6,1423.1 2040.0,1425.8 2041.3,1427.4 2042.7,1421.8 2044.0,1421.0 2045.3,1424.7 2046.7,1428.1 2048.0,1436.0 2049.4,1432.4 2050.7,1430.7 2052.0,1427.9 2053.4,1422.6 2054.7,1424.2 2056.1,1429.1 2057.4,1433.3 2058.7,1435.0 2060.1,1439.6 2061.4,1445.7 2062.8,1442.8 2064.1,1447.2 2065.4,1444.0 2066.8,1454.0 2068.1,1447.9 2069.5,1445.6 2070.8,1447.3 2072.1,1456.5 2073.5,1454.5 2074.8,1454.8 2076.2,1454.5 2077.5,1449.6 2078.8,1454.4 2080.2,1451.0 2081.5,1447.3 2082.9,1453.8 2084.2,1445.4 2085.5,1445.6 2086.9,1444.3 2088.2,1440.1 2089.6,1438.8 2090.9,1446.3 2092.2,1444.7 2093.6,1446.6 2094.9,1452.3 2096.3,1452.0 2097.6,1460.5 2098.9,1469.0 2100.3,1467.6 2101.6,1462.7 2103.0,1459.6 2104.3,1466.9 2105.6,1466.0 2107.0,1467.6 2108.3,1460.8 2109.7,1456.6 2111.0,1458.7 2112.3,1461.3 2113.7,1459.3 2115.0,1459.3 2116.3,1458.0 2117.7,1448.6 2119.0,1449.3 2120.4,1449.9 2121.7,1451.3 2123.0,1455.5 2124.4,1455.6 2125.7,1455.6 2127.1,1453.2 2128.4,1452.9 2129.7,1451.3 2131.1,1459.3 2132.4,1464.5 2133.8,1461.7 2135.1,1456.9 2136.4,1455.4 2137.8,1458.2 2139.1,1456.4 2140.5,1454.1 2141.8,1453.9 2143.1,1456.2 2144.5,1457.6 2145.8,1455.6 2147.2,1459.4 2148.5,1462.2 2149.8,1462.5 2151.2,1458.0 2152.5,1458.6 2153.9,1456.0 2155.2,1456.0 2156.5,1453.0 2157.9,1454.2 2159.2,1457.2 2160.6,1458.4 2161.9,1459.4 2163.2,1464.3 2164.6,1463.6 2165.9,1465.0 2167.3,1466.5 2168.6,1468.5 2169.9,1471.3 2171.3,1463.4 2172.6,1463.9 2174.0,1459.7 2175.3,1461.8 2176.6,1460.6 2178.0,1457.4 2179.3,1462.0 2180.7,1462.0 2182.0,1460.5 2183.3,1458.8 2184.7,1459.4 2186.0,1463.7 2187.4,1466.5 2188.7,1466.0 2190.0,1464.8 2191.4,1464.4 2192.7,1467.5 2194.0,1469.1 2195.4,1474.5 2196.7,1472.9 2198.1,1472.6 2199.4,1467.1" fill="none" stroke="#e41a1c" stroke-opacity="0.31" stroke-width="6.25" stroke-linejoin="round" stroke-linecap="square"/><path d="M1307.2,833.4 1308.5,861.3 1309.9,887.9 1311.2,917.5 1312.6,934.4 1313.9,956.6 1315.2,963.7 1316.6,976.4 1317.9,988.3 1319.3,997.6 1320.6,1005.5 1321.9,1018.0 1323.3,1025.5 1324.6,1032.7 1326.0,1040.0 1327.3,1044.9 1328.6,1060.6 1330.0,1070.3 1331.3,1074.1 1332.7,1087.4 1334.0,1095.5 1335.3,1099.6 1336.7,1108.3 1338.0,1106.5 1339.4,1105.5 1340.7,1101.7 1342.0,1107.3 1343.4,1113.0 1344.7,1109.0 1346.0,1109.7 1347.4,1106.5 1348.7,1108.9 1350.1,1109.5 1351.4,1115.6 1352.7,1119.3 1354.1,1119.5 1355.4,1118.7 1356.8,1120.9 1358.1,1122.4 1359.4,1127.9 1360.8,1129.7 1362.1,1121.7 1363.5,1124.4 1364.8,1124.3 1366.1,1124.2 1367.5,1121.4 1368.8,1122.5 1370.2,1117.8 1371.5,1126.0 1372.8,1133.0 1374.2,1139.5 1375.5,1138.2 1376.9,1138.9 1378.2,1135.8 1379.5,1130.1 1380.9,1131.9 1382.2,1125.2 1383.6,1128.8 1384.9,1141.6 1386.2,1148.2 1387.6,1156.0 1388.9,1165.9 1390.3,1169.2 1391.6,1169.0 1392.9,1169.6 1394.3,1168.2 1395.6,1171.1 1397.0,1170.0 1398.3,1173.8 1399.6,1169.3 1401.0,1165.0 1402.3,1166.8 1403.7,1163.4 1405.0,1160.1 1406.3,1160.4 1407.7,1161.3 1409.0,1162.7 1410.4,1166.0 1411.7,1173.5 1413.0,1177.7 1414.4,1179.4 1415.7,1175.1 1417.1,1174.4 1418.4,1176.5 1419.7,1185.4 1421.1,1181.1 1422.4,1182.6 1423.7,1179.6 1425.1,1181.0 1426.4,1181.6 1427.8,1179.9 1429.1,1184.4 1430.4,1189.3 1431.8,1191.5 1433.1,1195.1 1434.5,1190.6 1435.8,1185.1 1437.1,1185.9 1438.5,1183.7 1439.8,1184.2 1441.2,1188.0 1442.5,1192.6 1443.8,1191.0 1445.2,1186.0 1446.5,1187.0 1447.9,1184.5 1449.2,1190.1 1450.5,1193.7 1451.9,1197.2 1453.2,1198.8 1454.6,1200.9 1455.9,1199.4 1457.2,1202.9 1458.6,1203.8 1459.9,1204.9 1461.3,1204.3 1462.6,1207.1 1463.9,1204.9 1465.3,1206.1 1466.6,1205.6 1468.0,1203.2 1469.3,1201.9 1470.6,1201.7 1472.0,1208.9 1473.3,1211.5 1474.7,1210.1 1476.0,1213.0 1477.3,1212.7 1478.7,1216.5 1480.0,1218.3 1481.4,1216.2 1482.7,1224.1 1484.0,1223.6 1485.4,1217.3 1486.7,1212.9 1488.1,1218.8 1489.4,1221.9 1490.7,1223.3 1492.1,1221.2 1493.4,1214.0 1494.8,1215.5 1496.1,1214.3 1497.4,1209.9 1498.8,1216.2 1500.1,1217.4 1501.4,1223.4 1502.8,1226.5 1504.1,1230.1 1505.5,1224.7 1506.8,1230.6 1508.1,1226.5 1509.5,1233.6 1510.8,1231.3 1512.2,1229.4 1513.5,1229.6 1514.8,1229.1 1516.2,1232.4 1517.5,1236.5 1518.9,1237.5 1520.2,1236.5 1521.5,1233.3 1522.9,1227.4 1524.2,1223.4 1525.6,1220.7 1526.9,1219.4 1528.2,1223.3 1529.6,1229.6 1530.9,1235.2 1532.3,1237.4 1533.6,1231.5 1534.9,1228.9 1536.3,1228.9 1537.6,1230.4 1539.0,1228.0 1540.3,1230.3 1541.6,1231.0 1543.0,1230.5 1544.3,1232.6 1545.7,1239.1 1547.0,1240.6 1548.3,1241.9 1549.7,1241.2 1551.0,1241.4 1552.4,1242.7 1553.7,1241.4 1555.0,1242.2 1556.4,1238.6 1557.7,1240.7 1559.1,1242.9 1560.4,1240.6 1561.7,1240.6 1563.1,1241.2 1564.4,1239.0 1565.8,1237.2 1567.1,1239.0 1568.4,1246.0 1569.8,1244.3 1571.1,1243.5 1572.5,1242.8 1573.8,1242.9 1575.1,1243.8 1576.5,1247.9 1577.8,1251.8 1579.1,1257.3 1580.5,1258.1 1581.8,1256.2 1583.2,1259.6 1584.5,1251.4 1585.8,1251.2 1587.2,1255.4 1588.5,1252.3 1589.9,1264.0 1591.2,1264.2 1592.5,1263.2 1593.9,1264.7 1595.2,1265.6 1596.6,1260.7 1597.9,1262.8 1599.2,1262.9 1600.6,1263.2 1601.9,1267.6 1603.3,1268.2 1604.6,1268.4 1605.9,1268.7 1607.3,1265.5 1608.6,1265.0 1610.0,1266.2 1611.3,1258.9 1612.6,1264.2 1614.0,1266.4 1615.3,1269.3 1616.7,1269.4 1618.0,1266.3 1619.3,1264.6 1620.7,1263.0 1622.0,1260.1 1623.4,1264.5 1624.7,1263.9 1626.0,1260.8 1627.4,1272.0 1628.7,1270.8 1630.1,1271.9 1631.4,1271.0 1632.7,1276.8 1634.1,1275.6 1635.4,1274.3 1636.8,1269.9 1638.1,1264.9 1639.4,1268.5 1640.8,1269.1 1642.1,1269.1 1643.5,1268.7 1644.8,1272.3 1646.1,1278.7 1647.5,1275.7 1648.8,1275.1 1650.2,1274.4 1651.5,1278.4 1652.8,1278.2 1654.2,1278.1 1655.5,1274.9 1656.8,1276.9 1658.2,1274.6 1659.5,1271.2 1660.9,1267.0 1662.2,1266.7 1663.5,1266.7 1664.9,1267.3 1666.2,1268.9 1667.6,1269.6 1668.9,1276.5 1670.2,1279.8 1671.6,1279.8 1672.9,1281.5 1674.3,1279.2 1675.6,1281.2 1676.9,1291.2 1678.3,1294.0 1679.6,1290.9 1681.0,1290.2 1682.3,1292.3 1683.6,1288.0 1685.0,1288.3 1686.3,1285.8 1687.7,1290.5 1689.0,1294.2 1690.3,1293.7 1691.7,1294.4 1693.0,1295.7 1694.4,1293.8 1695.7,1297.3 1697.0,1300.6 1698.4,1302.3 1699.7,1302.1 1701.1,1301.9 1702.4,1302.6 1703.7,1305.9 1705.1,1300.5 1706.4,1297.4 1707.8,1305.3 1709.1,1303.8 1710.4,1305.4 1711.8,1306.2 1713.1,1303.5 1714.5,1311.1 1715.8,1308.4 1717.1,1304.0 1718.5,1300.8 1719.8,1301.2 1721.2,1304.7 1722.5,1310.9 1723.8,1313.0 1725.2,1315.1 1726.5,1314.8 1727.9,1310.4 1729.2,1305.8 1730.5,1304.4 1731.9,1304.6 1733.2,1307.7 1734.5,1311.7 1735.9,1314.5 1737.2,1317.8 1738.6,1315.3 1739.9,1314.6 1741.2,1315.0 1742.6,1309.9 1743.9,1314.7 1745.3,1316.2 1746.6,1317.1 1747.9,1317.9 1749.3,1320.5 1750.6,1316.9 1752.0,1318.7 1753.3,1322.4 1754.6,1318.6 1756.0,1316.8 1757.3,1321.3 1758.7,1318.4 1760.0,1319.9 1761.3,1314.4 1762.7,1316.9 1764.0,1317.7 1765.4,1318.7 1766.7,1314.8 1768.0,1316.7 1769.4,1320.6 1770.7,1319.6 1772.1,1319.9 1773.4,1320.3 1774.7,1320.1 1776.1,1320.9 1777.4,1319.5 1778.8,1315.1 1780.1,1322.9 1781.4,1325.8 1782.8,1325.7 1784.1,1322.1 1785.5,1321.1 1786.8,1318.3 1788.1,1314.7 1789.5,1310.1 1790.8,1313.5 1792.2,1315.1 1793.5,1314.7 1794.8,1318.7 1796.2,1323.8 1797.5,1315.6 1798.9,1318.7 1800.2,1324.3 1801.5,1325.6 1802.9,1322.7 1804.2,1316.4 1805.5,1313.0 1806.9,1315.0 1808.2,1313.9 1809.6,1314.9 1810.9,1315.8 1812.2,1315.1 1813.6,1318.7 1814.9,1318.6 1816.3,1323.8 1817.6,1322.9 1818.9,1329.8 1820.3,1332.0 1821.6,1332.0 1823.0,1328.1 1824.3,1327.7 1825.6,1321.5 1827.0,1320.7 1828.3,1322.9 1829.7,1328.9 1831.0,1330.7 1832.3,1327.4 1833.7,1333.7 1835.0,1334.2 1836.4,1337.3 1837.7,1341.2 1839.0,1339.6 1840.4,1338.7 1841.7,1338.8 1843.1,1341.0 1844.4,1338.3 1845.7,1339.7 1847.1,1342.2 1848.4,1338.5 1849.8,1336.4 1851.1,1337.3 1852.4,1336.3 1853.8,1337.5 1855.1,1335.6 1856.5,1338.9 1857.8,1341.2 1859.1,1339.1 1860.5,1340.3 1861.8,1343.0 1863.2,1341.3 1864.5,1342.6 1865.8,1349.3 1867.2,1351.2 1868.5,1344.3 1869.9,1342.0 1871.2,1341.5 1872.5,1339.0 1873.9,1343.3 1875.2,1352.1 1876.6,1349.6 1877.9,1350.3 1879.2,1351.6 1880.6,1348.2 1881.9,1343.1 1883.2,1344.8 1884.6,1341.5 1885.9,1347.7 1887.3,1349.3 1888.6,1346.4 1889.9,1347.8 1891.3,1345.1 1892.6,1348.5 1894.0,1351.8 1895.3,1355.8 1896.6,1354.1 1898.0,1353.5 1899.3,1355.4 1900.7,1353.7 1902.0,1353.4 1903.3,1356.0 1904.7,1355.7 1906.0,1358.7 1907.4,1358.8 1908.7,1365.3 1910.0,1362.1 1911.4,1359.4 1912.7,1361.9 1914.1,1372.2 1915.4,1373.8 1916.7,1371.7 1918.1,1366.8 1919.4,1363.5 1920.8,1357.8 1922.1,1362.0 1923.4,1364.7 1924.8,1365.5 1926.1,1363.1 1927.5,1361.2 1928.8,1360.3 1930.1,1364.2 1931.5,1363.2 1932.8,1363.7 1934.2,1361.8 1935.5,1357.2 1936.8,1362.0 1938.2,1362.4 1939.5,1367.8 1940.9,1364.0 1942.2,1362.9 1943.5,1370.5 1944.9,1373.0 1946.2,1374.4 1947.6,1374.7 1948.9,1377.6 1950.2,1368.6 1951.6,1364.7 1952.9,1364.8 1954.3,1367.4 1955.6,1377.7 1956.9,1379.2 1958.3,1384.7 1959.6,1386.0 1960.9,1384.2 1962.3,1384.1 1963.6,1380.9 1965.0,1382.9 1966.3,1380.5 1967.6,1374.2 1969.0,1378.1 1970.3,1376.1 1971.7,1377.5 1973.0,1374.7 1974.3,1373.3 1975.7,1373.0 1977.0,1381.2 1978.4,1387.1 1979.7,1384.5 1981.0,1384.2 1982.4,1380.2 1983.7,1377.8 1985.1,1374.8 1986.4,1373.0 1987.7,1377.2 1989.1,1383.8 1990.4,1388.9 1991.8,1396.1 1993.1,1392.9 1994.4,1393.0 1995.8,1392.0 1997.1,1388.3 1998.5,1388.3 1999.8,1390.4 2001.1,1389.0 2002.5,1384.7 2003.8,1392.4 2005.2,1395.0 2006.5,1394.1 2007.8,1392.7 2009.2,1393.8 2010.5,1386.9 2011.9,1384.6 2013.2,1381.5 2014.5,1376.3 2015.9,1381.2 2017.2,1383.6 2018.6,1384.6 2019.9,1387.1 2021.2,1385.4 2022.6,1386.7 2023.9,1389.5 2025.3,1393.3 2026.6,1391.2 2027.9,1387.6 2029.3,1389.5 2030.6,1386.7 2032.0,1386.5 2033.3,1385.9 2034.6,1393.4 2036.0,1384.5 2037.3,1382.9 2038.6,1390.2 2040.0,1393.4 2041.3,1396.8 2042.7,1399.0 2044.0,1406.5 2045.3,1405.8 2046.7,1400.6 2048.0,1401.3 2049.4,1400.5 2050.7,1404.1 2052.0,1411.3 2053.4,1412.3 2054.7,1417.2 2056.1,1420.1 2057.4,1414.4 2058.7,1412.2 2060.1,1408.1 2061.4,1406.3 2062.8,1400.7 2064.1,1404.6 2065.4,1403.6 2066.8,1406.6 2068.1,1409.3 2069.5,1409.7 2070.8,1410.1 2072.1,1405.9 2073.5,1407.6 2074.8,1404.1 2076.2,1407.0 2077.5,1407.6 2078.8,1409.0 2080.2,1409.7 2081.5,1413.1 2082.9,1414.7 2084.2,1414.1 2085.5,1414.9 2086.9,1415.1 2088.2,1422.4 2089.6,1418.0 2090.9,1410.9 2092.2,1413.0 2093.6,1417.4 2094.9,1422.8 2096.3,1424.1 2097.6,1426.5 2098.9,1424.0 2100.3,1418.7 2101.6,1413.3 2103.0,1418.8 2104.3,1419.7 2105.6,1421.3 2107.0,1422.7 2108.3,1419.7 2109.7,1416.7 2111.0,1410.2 2112.3,1412.4 2113.7,1413.0 2115.0,1417.3 2116.3,1415.2 2117.7,1415.2 2119.0,1413.6 2120.4,1413.7 2121.7,1418.5 2123.0,1423.7 2124.4,1421.1 2125.7,1424.2 2127.1,1427.0 2128.4,1422.4 2129.7,1419.4 2131.1,1419.3 2132.4,1415.4 2133.8,1419.1 2135.1,1419.8 2136.4,1424.3 2137.8,1419.3 2139.1,1423.9 2140.5,1426.6 2141.8,1425.8 2143.1,1427.3 2144.5,1426.3 2145.8,1427.0 2147.2,1425.9 2148.5,1423.7 2149.8,1426.4 2151.2,1427.7 2152.5,1430.1 2153.9,1428.7 2155.2,1428.4 2156.5,1434.5 2157.9,1439.6 2159.2,1440.5 2160.6,1441.7 2161.9,1444.7 2163.2,1442.3 2164.6,1436.5 2165.9,1437.6 2167.3,1435.9 2168.6,1438.1 2169.9,1441.7 2171.3,1442.3 2172.6,1439.6 2174.0,1439.4 2175.3,1444.2 2176.6,1441.8 2178.0,1438.3 2179.3,1439.3 2180.7,1440.1 2182.0,1434.7 2183.3,1434.5 2184.7,1432.9 2186.0,1435.9 2187.4,1437.0 2188.7,1432.5 2190.0,1437.2 2191.4,1437.2 2192.7,1441.9 2194.0,1439.6 2195.4,1434.5 2196.7,1440.5 2198.1,1444.2 2199.4,1442.6" fill="none" stroke="#377eb8" stroke-opacity="0.31" stroke-width="6.25" stroke-linejoin="round" stroke-linecap="square"/></g><rect x="1260.833" y="1045.833" width="985.333" height="3.333" fill="#000"/><rect x="1260.833" y="1645.833" width="985.333" height="3.333" fill="#000"/><rect x="1260.833" y="1045.833" width="3.333" height="603.333" fill="#000"/><rect x="2242.833" y="1045.833" width="3.333" height="603.333" fill="#000"/><rect x="1247.4" y="1645.833" width="15.1" height="3.333" fill="#000"/><rect x="1247.4" y="1476.833" width="15.1" height="3.333" fill="#000"/><rect x="1247.4" y="1306.833" width="15.1" height="3.333" fill="#000"/><rect x="1247.4" y="1136.833" width="15.1" height="3.333" fill="#000"/><rect x="1305.833" y="1647.8" width="3.333" height="15.1" fill="#000"/><rect x="1528.833" y="1647.8" width="3.333" height="15.1" fill="#000"/><rect x="1751.833" y="1647.8" width="3.333" height="15.1" fill="#000"/><rect x="1975.833" y="1647.8" width="3.333" height="15.1" fill="#000"/><rect x="2198.833" y="1647.8" width="3.333" height="15.1" fill="#000"/><text x="1233.3" y="1663.4" text-anchor="end" class="tl" textLength="66.25" lengthAdjust="spacingAndGlyphs">0.0</text><text x="1233.3" y="1493.8" text-anchor="end" class="tl" textLength="66.25" lengthAdjust="spacingAndGlyphs">0.5</text><text x="1233.3" y="1324.1" text-anchor="end" class="tl" textLength="66.25" lengthAdjust="spacingAndGlyphs">1.0</text><text x="1233.3" y="1156.0" text-anchor="end" class="tl" textLength="66.25" lengthAdjust="spacingAndGlyphs">1.5</text><text x="1307.2" y="1708.9" text-anchor="middle" class="tl" textLength="26.50" lengthAdjust="spacingAndGlyphs">0</text><text x="1530.5" y="1708.9" text-anchor="middle" class="tl" textLength="79.50" lengthAdjust="spacingAndGlyphs">500</text><text x="1753.8" y="1708.9" text-anchor="middle" class="tl" textLength="106.00" lengthAdjust="spacingAndGlyphs">1000</text><text x="1977.0" y="1708.9" text-anchor="middle" class="tl" textLength="106.00" lengthAdjust="spacingAndGlyphs">1500</text><text x="2200.3" y="1708.9" text-anchor="middle" class="tl" textLength="105.88" lengthAdjust="spacingAndGlyphs">2000</text><text x="1753.5" y="1022.6" text-anchor="middle" class="st" textLength="351.12" lengthAdjust="spacingAndGlyphs">depth=4, width=512</text>
<rect x="2442.833" y="1047.8" width="3.333" height="600.0" fill="#e7e7e7"/><rect x="2665.833" y="1047.8" width="3.333" height="600.0" fill="#e7e7e7"/><rect x="2888.833" y="1047.8" width="3.333" height="600.0" fill="#e7e7e7"/><rect x="3112.833" y="1047.8" width="3.333" height="600.0" fill="#e7e7e7"/><rect x="3335.833" y="1047.8" width="3.333" height="600.0" fill="#e7e7e7"/><rect x="2399.5" y="1476.833" width="981.9" height="3.333" fill="#e7e7e7"/><rect x="2399.5" y="1306.833" width="981.9" height="3.333" fill="#e7e7e7"/><rect x="2399.5" y="1136.833" width="981.9" height="3.333" fill="#e7e7e7"/><g clip-path="url(#c12)"><path d="M2444.2,836.0 2445.5,865.3 2446.9,893.1 2448.2,918.0 2449.6,939.3 2450.9,960.2 2452.2,978.6 2453.6,989.8 2454.9,999.5 2456.3,1015.8 2457.6,1032.8 2458.9,1043.2 2460.3,1051.5 2461.6,1052.2 2463.0,1057.0 2464.3,1061.9 2465.6,1067.6 2467.0,1071.7 2468.3,1075.4 2469.7,1074.8 2471.0,1079.4 2472.3,1081.6 2473.7,1082.3 2475.0,1084.6 2476.4,1081.2 2477.7,1086.3 2479.0,1091.4 2480.4,1091.5 2481.7,1091.7 2483.0,1090.0 2484.4,1091.7 2485.7,1098.8 2487.1,1105.9 2488.4,1105.7 2489.7,1107.9 2491.1,1112.2 2492.4,1113.7 2493.8,1119.4 2495.1,1125.4 2496.4,1127.2 2497.8,1125.8 2499.1,1127.8 2500.5,1126.1 2501.8,1128.3 2503.1,1128.7 2504.5,1124.7 2505.8,1126.0 2507.2,1129.1 2508.5,1129.5 2509.8,1129.8 2511.2,1135.1 2512.5,1139.7 2513.9,1140.1 2515.2,1138.3 2516.5,1135.5 2517.9,1130.0 2519.2,1133.7 2520.6,1132.9 2521.9,1134.8 2523.2,1139.6 2524.6,1139.2 2525.9,1139.7 2527.3,1139.0 2528.6,1142.9 2529.9,1149.1 2531.3,1150.1 2532.6,1156.5 2534.0,1158.1 2535.3,1162.2 2536.6,1158.4 2538.0,1159.2 2539.3,1160.2 2540.7,1157.6 2542.0,1155.8 2543.3,1161.9 2544.7,1164.6 2546.0,1164.6 2547.4,1163.4 2548.7,1165.1 2550.0,1166.2 2551.4,1170.5 2552.7,1165.6 2554.1,1172.3 2555.4,1171.8 2556.7,1167.6 2558.1,1165.1 2559.4,1163.3 2560.7,1170.7 2562.1,1174.9 2563.4,1173.6 2564.8,1175.0 2566.1,1173.6 2567.4,1176.1 2568.8,1175.9 2570.1,1181.4 2571.5,1185.9 2572.8,1189.2 2574.1,1184.8 2575.5,1188.0 2576.8,1184.8 2578.2,1188.9 2579.5,1186.3 2580.8,1186.1 2582.2,1183.0 2583.5,1182.4 2584.9,1178.0 2586.2,1176.4 2587.5,1170.7 2588.9,1173.5 2590.2,1170.2 2591.6,1172.0 2592.9,1173.9 2594.2,1177.3 2595.6,1179.6 2596.9,1181.9 2598.3,1182.3 2599.6,1185.7 2600.9,1191.1 2602.3,1193.1 2603.6,1200.6 2605.0,1202.1 2606.3,1207.8 2607.6,1212.1 2609.0,1215.2 2610.3,1209.6 2611.7,1209.9 2613.0,1211.8 2614.3,1214.6 2615.7,1213.8 2617.0,1217.7 2618.4,1212.8 2619.7,1211.3 2621.0,1206.8 2622.4,1213.0 2623.7,1219.4 2625.1,1222.2 2626.4,1222.3 2627.7,1218.3 2629.1,1223.0 2630.4,1224.5 2631.8,1223.5 2633.1,1216.1 2634.4,1215.5 2635.8,1218.9 2637.1,1218.8 2638.4,1213.4 2639.8,1211.1 2641.1,1216.7 2642.5,1221.7 2643.8,1220.0 2645.1,1221.0 2646.5,1221.6 2647.8,1219.5 2649.2,1219.2 2650.5,1214.7 2651.8,1215.4 2653.2,1217.5 2654.5,1222.2 2655.9,1228.0 2657.2,1233.5 2658.5,1234.0 2659.9,1238.2 2661.2,1236.1 2662.6,1229.3 2663.9,1228.9 2665.2,1225.5 2666.6,1223.6 2667.9,1230.5 2669.3,1232.4 2670.6,1230.7 2671.9,1239.8 2673.3,1240.9 2674.6,1239.6 2676.0,1242.8 2677.3,1238.2 2678.6,1239.3 2680.0,1246.6 2681.3,1245.7 2682.7,1244.9 2684.0,1243.5 2685.3,1242.3 2686.7,1245.2 2688.0,1239.3 2689.4,1245.1 2690.7,1246.9 2692.0,1247.5 2693.4,1252.2 2694.7,1250.7 2696.1,1247.8 2697.4,1249.3 2698.7,1254.6 2700.1,1255.9 2701.4,1256.3 2702.8,1262.5 2704.1,1262.6 2705.4,1253.9 2706.8,1254.6 2708.1,1257.7 2709.5,1264.4 2710.8,1266.9 2712.1,1266.0 2713.5,1266.2 2714.8,1262.9 2716.1,1259.2 2717.5,1261.2 2718.8,1261.6 2720.2,1267.8 2721.5,1269.4 2722.8,1266.7 2724.2,1266.5 2725.5,1258.6 2726.9,1258.9 2728.2,1255.8 2729.5,1259.0 2730.9,1260.8 2732.2,1264.7 2733.6,1269.4 2734.9,1270.6 2736.2,1273.7 2737.6,1280.8 2738.9,1283.2 2740.3,1284.7 2741.6,1280.0 2742.9,1276.5 2744.3,1277.0 2745.6,1274.2 2747.0,1279.1 2748.3,1280.2 2749.6,1283.9 2751.0,1278.8 2752.3,1277.4 2753.7,1278.4 2755.0,1280.3 2756.3,1279.4 2757.7,1276.6 2759.0,1279.6 2760.4,1278.7 2761.7,1276.1 2763.0,1284.2 2764.4,1283.9 2765.7,1281.2 2767.1,1279.0 2768.4,1279.4 2769.7,1279.8 2771.1,1283.0 2772.4,1279.7 2773.8,1281.4 2775.1,1282.6 2776.4,1282.0 2777.8,1279.2 2779.1,1284.0 2780.5,1289.9 2781.8,1293.8 2783.1,1295.9 2784.5,1291.4 2785.8,1287.4 2787.2,1283.1 2788.5,1285.2 2789.8,1288.3 2791.2,1293.6 2792.5,1296.7 2793.8,1294.8 2795.2,1293.1 2796.5,1287.9 2797.9,1288.2 2799.2,1286.6 2800.5,1287.7 2801.9,1284.8 2803.2,1290.1 2804.6,1291.4 2805.9,1292.3 2807.2,1295.9 2808.6,1298.4 2809.9,1296.0 2811.3,1297.8 2812.6,1298.8 2813.9,1303.2 2815.3,1298.4 2816.6,1292.3 2818.0,1297.1 2819.3,1295.9 2820.6,1301.3 2822.0,1302.7 2823.3,1303.2 2824.7,1301.4 2826.0,1295.7 2827.3,1297.0 2828.7,1296.0 2830.0,1297.5 2831.4,1300.4 2832.7,1302.3 2834.0,1303.7 2835.4,1303.6 2836.7,1312.3 2838.1,1310.1 2839.4,1314.9 2840.7,1313.4 2842.1,1316.0 2843.4,1315.6 2844.8,1312.8 2846.1,1309.8 2847.4,1310.8 2848.8,1316.8 2850.1,1317.1 2851.5,1318.4 2852.8,1322.9 2854.1,1326.2 2855.5,1322.2 2856.8,1320.8 2858.2,1324.5 2859.5,1321.2 2860.8,1322.0 2862.2,1318.9 2863.5,1320.6 2864.9,1321.8 2866.2,1318.1 2867.5,1318.8 2868.9,1325.9 2870.2,1331.6 2871.5,1336.7 2872.9,1333.8 2874.2,1335.0 2875.6,1328.7 2876.9,1332.4 2878.2,1330.2 2879.6,1330.0 2880.9,1335.3 2882.3,1334.3 2883.6,1339.7 2884.9,1337.6 2886.3,1332.7 2887.6,1335.0 2889.0,1336.2 2890.3,1336.6 2891.6,1337.9 2893.0,1342.6 2894.3,1347.0 2895.7,1347.1 2897.0,1345.9 2898.3,1341.0 2899.7,1339.7 2901.0,1339.9 2902.4,1336.3 2903.7,1336.4 2905.0,1337.2 2906.4,1338.4 2907.7,1340.6 2909.1,1343.0 2910.4,1343.8 2911.7,1344.6 2913.1,1340.2 2914.4,1335.8 2915.8,1337.6 2917.1,1339.6 2918.4,1344.4 2919.8,1341.7 2921.1,1339.1 2922.5,1332.8 2923.8,1335.7 2925.1,1342.6 2926.5,1339.7 2927.8,1338.4 2929.2,1342.0 2930.5,1345.1 2931.8,1346.6 2933.2,1343.4 2934.5,1345.5 2935.9,1347.5 2937.2,1347.2 2938.5,1341.1 2939.9,1345.3 2941.2,1345.4 2942.5,1342.4 2943.9,1343.6 2945.2,1343.1 2946.6,1344.1 2947.9,1350.5 2949.2,1354.2 2950.6,1354.6 2951.9,1359.5 2953.3,1354.3 2954.6,1359.8 2955.9,1360.5 2957.3,1364.0 2958.6,1363.6 2960.0,1363.4 2961.3,1358.2 2962.6,1358.2 2964.0,1353.9 2965.3,1353.0 2966.7,1356.4 2968.0,1357.7 2969.3,1358.2 2970.7,1358.2 2972.0,1354.7 2973.4,1356.3 2974.7,1357.2 2976.0,1363.4 2977.4,1366.4 2978.7,1366.5 2980.1,1363.2 2981.4,1365.8 2982.7,1378.3 2984.1,1376.3 2985.4,1364.9 2986.8,1363.1 2988.1,1371.1 2989.4,1368.5 2990.8,1371.0 2992.1,1371.1 2993.5,1368.2 2994.8,1367.6 2996.1,1367.4 2997.5,1368.1 2998.8,1375.2 3000.2,1373.8 3001.5,1372.9 3002.8,1378.1 3004.2,1377.4 3005.5,1376.9 3006.9,1368.3 3008.2,1366.7 3009.5,1373.5 3010.9,1369.3 3012.2,1369.9 3013.6,1372.6 3014.9,1368.7 3016.2,1368.8 3017.6,1373.1 3018.9,1375.6 3020.2,1379.2 3021.6,1385.3 3022.9,1383.2 3024.3,1385.9 3025.6,1377.5 3026.9,1376.6 3028.3,1374.3 3029.6,1372.0 3031.0,1366.8 3032.3,1368.3 3033.6,1370.4 3035.0,1378.1 3036.3,1384.6 3037.7,1390.3 3039.0,1389.1 3040.3,1392.0 3041.7,1392.1 3043.0,1391.5 3044.4,1391.3 3045.7,1390.4 3047.0,1393.5 3048.4,1398.9 3049.7,1400.1 3051.1,1400.1 3052.4,1395.6 3053.7,1394.7 3055.1,1400.1 3056.4,1398.6 3057.8,1393.1 3059.1,1393.5 3060.4,1398.1 3061.8,1406.1 3063.1,1406.2 3064.5,1404.8 3065.8,1406.4 3067.1,1406.7 3068.5,1401.5 3069.8,1402.7 3071.2,1404.4 3072.5,1399.0 3073.8,1404.5 3075.2,1405.9 3076.5,1410.4 3077.9,1414.8 3079.2,1416.3 3080.5,1417.4 3081.9,1414.6 3083.2,1410.2 3084.6,1413.8 3085.9,1415.5 3087.2,1417.5 3088.6,1418.5 3089.9,1420.4 3091.3,1420.2 3092.6,1415.6 3093.9,1412.2 3095.3,1413.7 3096.6,1417.1 3097.9,1420.6 3099.3,1414.7 3100.6,1415.8 3102.0,1415.5 3103.3,1417.2 3104.6,1419.9 3106.0,1419.9 3107.3,1422.9 3108.7,1426.1 3110.0,1426.1 3111.3,1426.5 3112.7,1420.9 3114.0,1420.6 3115.4,1416.0 3116.7,1418.5 3118.0,1418.2 3119.4,1428.1 3120.7,1429.3 3122.1,1432.6 3123.4,1432.2 3124.7,1424.6 3126.1,1420.7 3127.4,1418.9 3128.8,1416.8 3130.1,1418.1 3131.4,1417.8 3132.8,1418.5 3134.1,1418.6 3135.5,1422.0 3136.8,1422.1 3138.1,1432.1 3139.5,1432.3 3140.8,1431.4 3142.2,1426.4 3143.5,1425.7 3144.8,1428.6 3146.2,1434.4 3147.5,1433.4 3148.9,1436.7 3150.2,1440.1 3151.5,1435.8 3152.9,1436.0 3154.2,1432.9 3155.6,1431.9 3156.9,1432.6 3158.2,1432.5 3159.6,1438.0 3160.9,1435.2 3162.3,1432.7 3163.6,1426.4 3164.9,1428.5 3166.3,1424.8 3167.6,1430.2 3169.0,1431.5 3170.3,1433.2 3171.6,1434.2 3173.0,1436.2 3174.3,1435.7 3175.6,1433.8 3177.0,1430.9 3178.3,1426.3 3179.7,1428.5 3181.0,1434.9 3182.3,1435.6 3183.7,1432.5 3185.0,1436.7 3186.4,1438.5 3187.7,1444.0 3189.0,1442.8 3190.4,1445.2 3191.7,1441.8 3193.1,1445.9 3194.4,1442.3 3195.7,1437.5 3197.1,1429.2 3198.4,1432.9 3199.8,1435.1 3201.1,1437.1 3202.4,1439.8 3203.8,1444.8 3205.1,1448.1 3206.5,1444.5 3207.8,1442.2 3209.1,1444.1 3210.5,1440.4 3211.8,1441.0 3213.2,1443.8 3214.5,1447.8 3215.8,1450.1 3217.2,1448.2 3218.5,1449.9 3219.9,1449.6 3221.2,1456.2 3222.5,1456.3 3223.9,1454.4 3225.2,1454.4 3226.6,1455.2 3227.9,1454.3 3229.2,1458.7 3230.6,1458.4 3231.9,1460.1 3233.3,1457.5 3234.6,1457.2 3235.9,1458.0 3237.3,1459.8 3238.6,1461.7 3240.0,1463.1 3241.3,1466.9 3242.6,1468.6 3244.0,1474.4 3245.3,1484.4 3246.7,1488.2 3248.0,1475.7 3249.3,1467.0 3250.7,1464.6 3252.0,1462.1 3253.3,1466.3 3254.7,1467.7 3256.0,1471.9 3257.4,1472.3 3258.7,1473.2 3260.0,1474.9 3261.4,1474.4 3262.7,1474.4 3264.1,1470.8 3265.4,1471.8 3266.7,1477.0 3268.1,1478.1 3269.4,1480.6 3270.8,1483.5 3272.1,1485.8 3273.4,1480.4 3274.8,1470.3 3276.1,1477.1 3277.5,1479.3 3278.8,1476.8 3280.1,1480.8 3281.5,1480.4 3282.8,1483.0 3284.2,1480.8 3285.5,1481.3 3286.8,1482.5 3288.2,1483.6 3289.5,1484.5 3290.9,1482.3 3292.2,1477.2 3293.5,1481.6 3294.9,1481.9 3296.2,1488.6 3297.6,1486.8 3298.9,1484.0 3300.2,1487.8 3301.6,1489.5 3302.9,1496.6 3304.3,1497.6 3305.6,1501.5 3306.9,1497.6 3308.3,1497.1 3309.6,1492.3 3311.0,1486.1 3312.3,1486.0 3313.6,1479.7 3315.0,1481.9 3316.3,1487.0 3317.7,1489.5 3319.0,1489.3 3320.3,1488.1 3321.7,1491.9 3323.0,1487.2 3324.4,1482.6 3325.7,1475.4 3327.0,1473.3 3328.4,1479.7 3329.7,1488.2 3331.0,1489.2 3332.4,1489.4 3333.7,1492.2 3335.1,1492.0 3336.4,1488.1" fill="none" stroke="#e41a1c" stroke-opacity="0.31" stroke-width="6.25" stroke-linejoin="round" stroke-linecap="square"/><path d="M2444.2,836.0 2445.5,864.9 2446.9,893.7 2448.2,916.9 2449.6,939.0 2450.9,959.5 2452.2,977.8 2453.6,989.6 2454.9,1000.5 2456.3,1015.7 2457.6,1031.4 2458.9,1042.6 2460.3,1051.8 2461.6,1051.0 2463.0,1055.7 2464.3,1058.9 2465.6,1065.7 2467.0,1071.1 2468.3,1074.7 2469.7,1074.4 2471.0,1079.3 2472.3,1081.7 2473.7,1084.0 2475.0,1085.0 2476.4,1081.9 2477.7,1086.7 2479.0,1093.8 2480.4,1095.4 2481.7,1097.4 2483.0,1092.8 2484.4,1091.6 2485.7,1098.1 2487.1,1104.4 2488.4,1104.4 2489.7,1105.7 2491.1,1110.7 2492.4,1111.8 2493.8,1120.5 2495.1,1125.0 2496.4,1129.2 2497.8,1131.0 2499.1,1131.1 2500.5,1129.1 2501.8,1132.7 2503.1,1133.1 2504.5,1128.9 2505.8,1128.7 2507.2,1128.9 2508.5,1130.3 2509.8,1131.9 2511.2,1136.5 2512.5,1141.5 2513.9,1140.3 2515.2,1137.6 2516.5,1135.7 2517.9,1129.1 2519.2,1133.1 2520.6,1132.3 2521.9,1134.2 2523.2,1138.2 2524.6,1136.9 2525.9,1137.2 2527.3,1138.8 2528.6,1142.5 2529.9,1145.9 2531.3,1146.2 2532.6,1150.3 2534.0,1151.5 2535.3,1152.9 2536.6,1152.7 2538.0,1155.6 2539.3,1155.6 2540.7,1150.2 2542.0,1148.8 2543.3,1156.0 2544.7,1156.9 2546.0,1157.5 2547.4,1156.7 2548.7,1158.1 2550.0,1159.5 2551.4,1164.1 2552.7,1159.1 2554.1,1165.0 2555.4,1167.2 2556.7,1163.2 2558.1,1161.3 2559.4,1156.7 2560.7,1161.6 2562.1,1168.3 2563.4,1170.1 2564.8,1171.6 2566.1,1169.4 2567.4,1169.1 2568.8,1167.9 2570.1,1172.9 2571.5,1177.0 2572.8,1177.7 2574.1,1174.0 2575.5,1175.9 2576.8,1171.7 2578.2,1177.4 2579.5,1179.3 2580.8,1182.2 2582.2,1180.9 2583.5,1178.2 2584.9,1175.6 2586.2,1172.2 2587.5,1166.8 2588.9,1170.2 2590.2,1168.9 2591.6,1170.7 2592.9,1169.8 2594.2,1174.7 2595.6,1175.8 2596.9,1178.7 2598.3,1182.4 2599.6,1185.6 2600.9,1186.8 2602.3,1188.0 2603.6,1191.9 2605.0,1197.4 2606.3,1201.3 2607.6,1205.0 2609.0,1202.4 2610.3,1197.9 2611.7,1198.2 2613.0,1200.4 2614.3,1203.4 2615.7,1204.8 2617.0,1204.7 2618.4,1203.1 2619.7,1198.5 2621.0,1197.3 2622.4,1198.8 2623.7,1200.9 2625.1,1203.3 2626.4,1199.2 2627.7,1197.1 2629.1,1201.7 2630.4,1200.3 2631.8,1200.1 2633.1,1200.4 2634.4,1197.3 2635.8,1203.8 2637.1,1200.6 2638.4,1196.8 2639.8,1196.8 2641.1,1201.1 2642.5,1204.8 2643.8,1201.8 2645.1,1200.1 2646.5,1197.3 2647.8,1204.8 2649.2,1202.9 2650.5,1202.9 2651.8,1200.0 2653.2,1203.4 2654.5,1206.1 2655.9,1209.0 2657.2,1210.3 2658.5,1214.0 2659.9,1217.3 2661.2,1221.5 2662.6,1218.0 2663.9,1215.6 2665.2,1215.2 2666.6,1213.2 2667.9,1213.4 2669.3,1214.1 2670.6,1214.9 2671.9,1216.3 2673.3,1219.9 2674.6,1219.6 2676.0,1225.7 2677.3,1224.9 2678.6,1224.1 2680.0,1226.0 2681.3,1225.2 2682.7,1229.0 2684.0,1234.8 2685.3,1240.4 2686.7,1240.5 2688.0,1233.7 2689.4,1230.7 2690.7,1231.7 2692.0,1236.4 2693.4,1244.4 2694.7,1241.5 2696.1,1237.6 2697.4,1239.3 2698.7,1238.4 2700.1,1246.1 2701.4,1248.4 2702.8,1251.9 2704.1,1244.9 2705.4,1239.6 2706.8,1240.9 2708.1,1243.4 2709.5,1243.0 2710.8,1247.3 2712.1,1249.0 2713.5,1252.9 2714.8,1253.4 2716.1,1253.7 2717.5,1258.7 2718.8,1256.9 2720.2,1257.4 2721.5,1256.3 2722.8,1248.2 2724.2,1244.2 2725.5,1243.8 2726.9,1247.8 2728.2,1244.9 2729.5,1250.5 2730.9,1250.6 2732.2,1250.1 2733.6,1255.6 2734.9,1252.0 2736.2,1260.7 2737.6,1262.6 2738.9,1260.0 2740.3,1251.6 2741.6,1248.2 2742.9,1251.8 2744.3,1253.8 2745.6,1252.4 2747.0,1257.4 2748.3,1267.4 2749.6,1265.1 2751.0,1263.2 2752.3,1260.4 2753.7,1260.7 2755.0,1260.8 2756.3,1261.9 2757.7,1261.6 2759.0,1256.8 2760.4,1254.4 2761.7,1247.7 2763.0,1253.5 2764.4,1255.8 2765.7,1259.1 2767.1,1264.5 2768.4,1265.4 2769.7,1261.3 2771.1,1257.9 2772.4,1253.7 2773.8,1252.1 2775.1,1257.0 2776.4,1263.2 2777.8,1260.4 2779.1,1263.2 2780.5,1267.0 2781.8,1264.6 2783.1,1266.8 2784.5,1265.2 2785.8,1264.8 2787.2,1264.6 2788.5,1270.7 2789.8,1274.8 2791.2,1270.8 2792.5,1268.7 2793.8,1267.0 2795.2,1268.7 2796.5,1271.0 2797.9,1273.8 2799.2,1275.6 2800.5,1281.6 2801.9,1276.1 2803.2,1278.1 2804.6,1272.6 2805.9,1274.1 2807.2,1278.9 2808.6,1281.3 2809.9,1281.7 2811.3,1280.4 2812.6,1273.9 2813.9,1280.7 2815.3,1281.1 2816.6,1278.8 2818.0,1281.4 2819.3,1284.1 2820.6,1287.3 2822.0,1290.6 2823.3,1291.0 2824.7,1289.2 2826.0,1284.5 2827.3,1280.8 2828.7,1278.6 2830.0,1276.3 2831.4,1275.2 2832.7,1277.6 2834.0,1275.3 2835.4,1279.2 2836.7,1282.7 2838.1,1282.0 2839.4,1286.4 2840.7,1287.5 2842.1,1289.1 2843.4,1290.3 2844.8,1287.8 2846.1,1287.7 2847.4,1288.4 2848.8,1288.4 2850.1,1296.7 2851.5,1294.6 2852.8,1293.3 2854.1,1294.4 2855.5,1293.5 2856.8,1289.4 2858.2,1290.7 2859.5,1290.0 2860.8,1295.5 2862.2,1296.9 2863.5,1300.2 2864.9,1301.8 2866.2,1305.6 2867.5,1304.4 2868.9,1304.5 2870.2,1308.7 2871.5,1308.5 2872.9,1313.0 2874.2,1310.1 2875.6,1304.2 2876.9,1298.2 2878.2,1300.0 2879.6,1308.0 2880.9,1313.4 2882.3,1312.2 2883.6,1318.2 2884.9,1319.1 2886.3,1317.2 2887.6,1315.1 2889.0,1312.2 2890.3,1309.9 2891.6,1311.0 2893.0,1312.0 2894.3,1304.8 2895.7,1300.6 2897.0,1304.8 2898.3,1304.8 2899.7,1305.2 2901.0,1314.2 2902.4,1315.9 2903.7,1315.5 2905.0,1309.4 2906.4,1307.3 2907.7,1312.3 2909.1,1317.8 2910.4,1319.1 2911.7,1316.4 2913.1,1311.3 2914.4,1310.2 2915.8,1313.0 2917.1,1313.2 2918.4,1311.6 2919.8,1311.3 2921.1,1316.2 2922.5,1323.3 2923.8,1330.4 2925.1,1328.0 2926.5,1325.1 2927.8,1322.9 2929.2,1326.2 2930.5,1332.7 2931.8,1331.4 2933.2,1325.6 2934.5,1324.8 2935.9,1323.5 2937.2,1325.6 2938.5,1330.0 2939.9,1331.6 2941.2,1326.5 2942.5,1322.6 2943.9,1325.6 2945.2,1328.3 2946.6,1330.8 2947.9,1333.3 2949.2,1329.4 2950.6,1328.9 2951.9,1324.6 2953.3,1323.1 2954.6,1323.7 2955.9,1325.6 2957.3,1329.1 2958.6,1335.7 2960.0,1333.2 2961.3,1333.5 2962.6,1335.9 2964.0,1337.1 2965.3,1334.5 2966.7,1332.5 2968.0,1336.4 2969.3,1336.0 2970.7,1333.6 2972.0,1328.8 2973.4,1329.0 2974.7,1333.6 2976.0,1337.2 2977.4,1340.8 2978.7,1342.2 2980.1,1344.8 2981.4,1338.3 2982.7,1337.5 2984.1,1335.4 2985.4,1337.8 2986.8,1336.0 2988.1,1337.0 2989.4,1342.0 2990.8,1350.2 2992.1,1345.7 2993.5,1344.4 2994.8,1342.4 2996.1,1344.5 2997.5,1347.5 2998.8,1345.3 3000.2,1345.2 3001.5,1343.5 3002.8,1347.3 3004.2,1349.0 3005.5,1353.4 3006.9,1350.6 3008.2,1346.9 3009.5,1343.5 3010.9,1340.5 3012.2,1345.0 3013.6,1343.0 3014.9,1339.2 3016.2,1338.5 3017.6,1344.3 3018.9,1345.4 3020.2,1346.3 3021.6,1349.5 3022.9,1351.2 3024.3,1351.5 3025.6,1345.9 3026.9,1344.5 3028.3,1342.7 3029.6,1346.3 3031.0,1348.1 3032.3,1349.8 3033.6,1348.3 3035.0,1353.0 3036.3,1353.2 3037.7,1354.9 3039.0,1354.5 3040.3,1352.2 3041.7,1353.0 3043.0,1353.0 3044.4,1356.7 3045.7,1362.8 3047.0,1359.5 3048.4,1354.8 3049.7,1360.5 3051.1,1356.7 3052.4,1356.4 3053.7,1359.7 3055.1,1360.0 3056.4,1361.1 3057.8,1359.5 3059.1,1367.6 3060.4,1368.5 3061.8,1368.6 3063.1,1374.9 3064.5,1371.9 3065.8,1373.0 3067.1,1365.8 3068.5,1366.6 3069.8,1366.9 3071.2,1371.4 3072.5,1374.1 3073.8,1371.3 3075.2,1372.8 3076.5,1373.1 3077.9,1373.4 3079.2,1373.9 3080.5,1374.1 3081.9,1375.0 3083.2,1382.7 3084.6,1382.2 3085.9,1386.8 3087.2,1388.4 3088.6,1388.3 3089.9,1387.9 3091.3,1387.6 3092.6,1386.0 3093.9,1382.3 3095.3,1378.4 3096.6,1383.1 3097.9,1383.1 3099.3,1379.9 3100.6,1377.9 3102.0,1381.2 3103.3,1381.9 3104.6,1386.0 3106.0,1385.2 3107.3,1389.4 3108.7,1390.2 3110.0,1383.9 3111.3,1385.1 3112.7,1385.0 3114.0,1387.7 3115.4,1384.6 3116.7,1383.0 3118.0,1386.2 3119.4,1389.4 3120.7,1388.8 3122.1,1392.1 3123.4,1392.5 3124.7,1391.6 3126.1,1387.5 3127.4,1386.3 3128.8,1393.3 3130.1,1397.6 3131.4,1396.3 3132.8,1393.8 3134.1,1388.1 3135.5,1389.9 3136.8,1383.6 3138.1,1385.1 3139.5,1384.7 3140.8,1390.2 3142.2,1388.7 3143.5,1388.1 3144.8,1393.0 3146.2,1395.3 3147.5,1393.8 3148.9,1391.7 3150.2,1392.8 3151.5,1390.2 3152.9,1386.5 3154.2,1385.6 3155.6,1392.6 3156.9,1391.9 3158.2,1392.3 3159.6,1393.3 3160.9,1393.2 3162.3,1392.1 3163.6,1390.6 3164.9,1390.2 3166.3,1389.3 3167.6,1390.7 3169.0,1396.0 3170.3,1405.0 3171.6,1407.0 3173.0,1406.4 3174.3,1401.7 3175.6,1396.7 3177.0,1394.2 3178.3,1390.5 3179.7,1395.0 3181.0,1390.9 3182.3,1394.7 3183.7,1392.6 3185.0,1400.8 3186.4,1405.4 3187.7,1405.1 3189.0,1406.8 3190.4,1403.8 3191.7,1399.6 3193.1,1396.4 3194.4,1399.1 3195.7,1399.7 3197.1,1398.2 3198.4,1401.4 3199.8,1403.5 3201.1,1400.4 3202.4,1402.9 3203.8,1401.8 3205.1,1397.1 3206.5,1400.5 3207.8,1397.9 3209.1,1392.5 3210.5,1394.7 3211.8,1397.7 3213.2,1400.5 3214.5,1404.1 3215.8,1402.1 3217.2,1404.6 3218.5,1408.6 3219.9,1404.6 3221.2,1400.7 3222.5,1407.4 3223.9,1408.4 3225.2,1410.6 3226.6,1412.0 3227.9,1414.2 3229.2,1415.1 3230.6,1411.9 3231.9,1414.4 3233.3,1411.5 3234.6,1416.2 3235.9,1417.0 3237.3,1420.3 3238.6,1419.9 3240.0,1419.2 3241.3,1422.2 3242.6,1423.2 3244.0,1424.4 3245.3,1425.2 3246.7,1426.5 3248.0,1421.3 3249.3,1421.2 3250.7,1424.6 3252.0,1425.2 3253.3,1432.8 3254.7,1432.3 3256.0,1430.5 3257.4,1421.3 3258.7,1421.5 3260.0,1427.5 3261.4,1432.7 3262.7,1431.2 3264.1,1430.0 3265.4,1430.9 3266.7,1434.5 3268.1,1442.4 3269.4,1445.1 3270.8,1440.4 3272.1,1444.0 3273.4,1439.2 3274.8,1433.9 3276.1,1429.8 3277.5,1428.3 3278.8,1430.3 3280.1,1430.3 3281.5,1432.5 3282.8,1432.4 3284.2,1435.4 3285.5,1430.4 3286.8,1435.2 3288.2,1438.0 3289.5,1440.4 3290.9,1438.0 3292.2,1434.1 3293.5,1435.5 3294.9,1433.3 3296.2,1433.8 3297.6,1440.1 3298.9,1446.2 3300.2,1447.1 3301.6,1446.7 3302.9,1446.8 3304.3,1450.1 3305.6,1449.5 3306.9,1442.0 3308.3,1441.3 3309.6,1440.4 3311.0,1436.1 3312.3,1436.3 3313.6,1443.0 3315.0,1440.4 3316.3,1442.5 3317.7,1445.0 3319.0,1446.2 3320.3,1445.2 3321.7,1443.2 3323.0,1451.1 3324.4,1454.1 3325.7,1449.9 3327.0,1446.3 3328.4,1442.8 3329.7,1441.2 3331.0,1442.8 3332.4,1442.7 3333.7,1442.7 3335.1,1441.2 3336.4,1436.5" fill="none" stroke="#377eb8" stroke-opacity="0.31" stroke-width="6.25" stroke-linejoin="round" stroke-linecap="square"/></g><rect x="2397.833" y="1045.833" width="985.333" height="3.333" fill="#000"/><rect x="2397.833" y="1645.833" width="985.333" height="3.333" fill="#000"/><rect x="2397.833" y="1045.833" width="3.333" height="603.333" fill="#000"/><rect x="3379.833" y="1045.833" width="3.333" height="603.333" fill="#000"/><rect x="2384.4" y="1645.833" width="15.1" height="3.333" fill="#000"/><rect x="2384.4" y="1476.833" width="15.1" height="3.333" fill="#000"/><rect x="2384.4" y="1306.833" width="15.1" height="3.333" fill="#000"/><rect x="2384.4" y="1136.833" width="15.1" height="3.333" fill="#000"/><rect x="2442.833" y="1647.8" width="3.333" height="15.1" fill="#000"/><rect x="2665.833" y="1647.8" width="3.333" height="15.1" fill="#000"/><rect x="2888.833" y="1647.8" width="3.333" height="15.1" fill="#000"/><rect x="3112.833" y="1647.8" width="3.333" height="15.1" fill="#000"/><rect x="3335.833" y="1647.8" width="3.333" height="15.1" fill="#000"/><text x="2370.3" y="1663.4" text-anchor="end" class="tl" textLength="66.25" lengthAdjust="spacingAndGlyphs">0.0</text><text x="2370.3" y="1493.8" text-anchor="end" class="tl" textLength="66.25" lengthAdjust="spacingAndGlyphs">0.5</text><text x="2370.3" y="1324.1" text-anchor="end" class="tl" textLength="66.25" lengthAdjust="spacingAndGlyphs">1.0</text><text x="2370.3" y="1156.0" text-anchor="end" class="tl" textLength="66.25" lengthAdjust="spacingAndGlyphs">1.5</text><text x="2444.2" y="1708.9" text-anchor="middle" class="tl" textLength="26.50" lengthAdjust="spacingAndGlyphs">0</text><text x="2667.5" y="1708.9" text-anchor="middle" class="tl" textLength="79.50" lengthAdjust="spacingAndGlyphs">500</text><text x="2890.8" y="1708.9" text-anchor="middle" class="tl" textLength="106.00" lengthAdjust="spacingAndGlyphs">1000</text><text x="3114.0" y="1708.9" text-anchor="middle" class="tl" textLength="106.00" lengthAdjust="spacingAndGlyphs">1500</text><text x="3337.3" y="1708.9" text-anchor="middle" class="tl" textLength="105.88" lengthAdjust="spacingAndGlyphs">2000</text><text x="2890.4" y="1022.6" text-anchor="middle" class="st" textLength="351.12" lengthAdjust="spacingAndGlyphs">depth=5, width=512</text>
<rect x="168.833" y="1813.8" width="3.333" height="600.0" fill="#e7e7e7"/><rect x="391.833" y="1813.8" width="3.333" height="600.0" fill="#e7e7e7"/><rect x="614.833" y="1813.8" width="3.333" height="600.0" fill="#e7e7e7"/><rect x="838.833" y="1813.8" width="3.333" height="600.0" fill="#e7e7e7"/><rect x="1061.833" y="1813.8" width="3.333" height="600.0" fill="#e7e7e7"/><rect x="125.5" y="2242.833" width="981.9" height="3.333" fill="#e7e7e7"/><rect x="125.5" y="2072.833" width="981.9" height="3.333" fill="#e7e7e7"/><rect x="125.5" y="1902.833" width="981.9" height="3.333" fill="#e7e7e7"/><g clip-path="url(#c20)"><path d="M170.2,1598.3 171.5,1649.8 172.9,1699.5 174.2,1735.0 175.6,1755.2 176.9,1767.9 178.2,1778.6 179.6,1795.0 180.9,1808.0 182.3,1821.6 183.6,1833.8 184.9,1837.9 186.3,1840.6 187.6,1843.8 189.0,1846.8 190.3,1848.3 191.6,1851.7 193.0,1861.8 194.3,1868.5 195.7,1865.5 197.0,1869.0 198.3,1872.2 199.7,1872.6 201.0,1875.1 202.4,1879.6 203.7,1883.0 205.0,1890.1 206.4,1893.3 207.7,1890.0 209.0,1892.4 210.4,1891.4 211.7,1895.1 213.1,1894.3 214.4,1892.4 215.7,1896.1 217.1,1900.0 218.4,1906.7 219.8,1914.6 221.1,1917.0 222.4,1919.1 223.8,1923.0 225.1,1921.7 226.5,1922.2 227.8,1924.6 229.1,1926.3 230.5,1921.8 231.8,1921.3 233.2,1926.4 234.5,1929.4 235.8,1930.2 237.2,1926.7 238.5,1926.9 239.9,1930.8 241.2,1935.2 242.5,1928.5 243.9,1934.7 245.2,1940.0 246.6,1940.7 247.9,1941.6 249.2,1942.9 250.6,1942.4 251.9,1941.6 253.3,1939.4 254.6,1938.1 255.9,1937.0 257.3,1934.1 258.6,1935.4 260.0,1940.4 261.3,1945.2 262.6,1948.4 264.0,1955.5 265.3,1959.7 266.7,1961.1 268.0,1962.4 269.3,1959.4 270.7,1956.7 272.0,1955.8 273.4,1963.6 274.7,1968.9 276.0,1970.1 277.4,1967.9 278.7,1969.7 280.1,1968.4 281.4,1966.9 282.7,1963.9 284.1,1972.6 285.4,1976.2 286.7,1979.9 288.1,1976.8 289.4,1977.3 290.8,1979.6 292.1,1974.3 293.4,1970.5 294.8,1975.1 296.1,1982.8 297.5,1987.9 298.8,1990.1 300.1,1989.0 301.5,1989.4 302.8,1985.2 304.2,1985.6 305.5,1995.6 306.8,2000.7 308.2,1993.7 309.5,1993.9 310.9,1996.2 312.2,1995.5 313.5,1997.4 314.9,2002.6 316.2,2004.0 317.6,2005.8 318.9,2003.6 320.2,2001.5 321.6,2002.9 322.9,2009.2 324.3,2004.4 325.6,2001.5 326.9,2005.7 328.3,2001.4 329.6,2000.1 331.0,2005.8 332.3,2006.4 333.6,2004.5 335.0,2009.2 336.3,2018.7 337.7,2023.0 339.0,2022.6 340.3,2019.2 341.7,2022.7 343.0,2023.5 344.4,2020.8 345.7,2017.5 347.0,2023.2 348.4,2025.0 349.7,2025.8 351.1,2023.6 352.4,2021.1 353.7,2016.3 355.1,2012.0 356.4,2015.1 357.8,2020.4 359.1,2020.2 360.4,2029.6 361.8,2029.8 363.1,2032.3 364.4,2031.8 365.8,2028.8 367.1,2027.1 368.5,2028.2 369.8,2025.5 371.1,2031.5 372.5,2031.6 373.8,2032.3 375.2,2039.9 376.5,2042.6 377.8,2047.3 379.2,2047.2 380.5,2047.0 381.9,2045.1 383.2,2043.6 384.5,2044.1 385.9,2044.5 387.2,2046.5 388.6,2046.8 389.9,2046.7 391.2,2049.3 392.6,2050.6 393.9,2050.2 395.3,2050.3 396.6,2055.9 397.9,2059.5 399.3,2058.3 400.6,2061.4 402.0,2066.0 403.3,2069.1 404.6,2072.4 406.0,2071.8 407.3,2066.2 408.7,2069.2 410.0,2066.2 411.3,2064.9 412.7,2063.2 414.0,2068.8 415.4,2068.6 416.7,2068.7 418.0,2070.9 419.4,2073.6 420.7,2074.0 422.1,2075.0 423.4,2078.5 424.7,2081.3 426.1,2077.6 427.4,2079.1 428.8,2081.0 430.1,2083.3 431.4,2080.1 432.8,2083.4 434.1,2081.3 435.5,2083.1 436.8,2079.8 438.1,2076.4 439.5,2078.7 440.8,2082.9 442.1,2083.6 443.5,2086.3 444.8,2088.2 446.2,2091.2 447.5,2093.2 448.8,2095.7 450.2,2098.2 451.5,2096.1 452.9,2096.8 454.2,2096.2 455.5,2094.1 456.9,2099.4 458.2,2095.9 459.6,2097.5 460.9,2097.7 462.2,2101.3 463.6,2098.4 464.9,2098.8 466.3,2098.8 467.6,2099.6 468.9,2100.3 470.3,2102.8 471.6,2106.1 473.0,2108.7 474.3,2111.9 475.6,2105.8 477.0,2107.8 478.3,2108.5 479.7,2106.4 481.0,2101.6 482.3,2100.9 483.7,2106.7 485.0,2112.7 486.4,2111.3 487.7,2114.2 489.0,2117.3 490.4,2117.7 491.7,2115.0 493.1,2115.9 494.4,2125.8 495.7,2131.7 497.1,2136.9 498.4,2135.1 499.8,2123.8 501.1,2118.0 502.4,2120.4 503.8,2118.8 505.1,2119.1 506.5,2121.7 507.8,2125.8 509.1,2128.5 510.5,2131.9 511.8,2131.3 513.2,2129.8 514.5,2128.6 515.8,2129.8 517.2,2130.9 518.5,2127.6 519.8,2126.0 521.2,2132.5 522.5,2133.4 523.9,2131.6 525.2,2135.8 526.5,2135.7 527.9,2136.3 529.2,2132.9 530.6,2130.9 531.9,2133.4 533.2,2129.1 534.6,2123.6 535.9,2121.9 537.3,2120.0 538.6,2120.4 539.9,2122.7 541.3,2119.7 542.6,2118.9 544.0,2120.9 545.3,2121.4 546.6,2118.6 548.0,2117.9 549.3,2124.3 550.7,2126.2 552.0,2126.7 553.3,2124.4 554.7,2124.1 556.0,2122.4 557.4,2128.9 558.7,2130.2 560.0,2135.3 561.4,2144.9 562.7,2145.8 564.1,2153.5 565.4,2153.7 566.7,2151.3 568.1,2156.2 569.4,2159.2 570.8,2157.8 572.1,2155.3 573.4,2159.2 574.8,2160.7 576.1,2162.1 577.5,2164.2 578.8,2162.5 580.1,2163.1 581.5,2165.0 582.8,2161.0 584.2,2166.5 585.5,2169.6 586.8,2171.1 588.2,2173.7 589.5,2170.0 590.9,2167.7 592.2,2167.6 593.5,2176.8 594.9,2175.0 596.2,2173.1 597.5,2169.5 598.9,2164.8 600.2,2165.6 601.6,2170.5 602.9,2173.9 604.2,2178.3 605.6,2179.5 606.9,2177.8 608.3,2179.2 609.6,2185.7 610.9,2187.9 612.3,2182.0 613.6,2178.3 615.0,2174.6 616.3,2172.7 617.6,2172.0 619.0,2173.3 620.3,2177.2 621.7,2179.1 623.0,2177.6 624.3,2181.7 625.7,2183.5 627.0,2182.3 628.4,2182.6 629.7,2184.1 631.0,2186.3 632.4,2191.4 633.7,2197.6 635.1,2201.7 636.4,2199.4 637.7,2200.0 639.1,2196.2 640.4,2193.8 641.8,2193.6 643.1,2190.4 644.4,2190.3 645.8,2184.4 647.1,2187.3 648.5,2190.0 649.8,2200.8 651.1,2202.7 652.5,2201.5 653.8,2200.4 655.2,2196.8 656.5,2195.7 657.8,2194.3 659.2,2197.9 660.5,2206.1 661.9,2202.2 663.2,2200.5 664.5,2197.6 665.9,2195.2 667.2,2194.2 668.5,2197.8 669.9,2198.8 671.2,2204.4 672.6,2206.0 673.9,2202.9 675.2,2204.2 676.6,2205.2 677.9,2202.3 679.3,2205.4 680.6,2205.9 681.9,2209.3 683.3,2207.0 684.6,2210.1 686.0,2208.0 687.3,2206.7 688.6,2214.0 690.0,2215.6 691.3,2216.9 692.7,2214.0 694.0,2220.6 695.3,2220.8 696.7,2220.0 698.0,2218.6 699.4,2216.6 700.7,2215.5 702.0,2212.4 703.4,2210.3 704.7,2210.3 706.1,2211.7 707.4,2207.9 708.7,2207.9 710.1,2217.4 711.4,2217.6 712.8,2224.9 714.1,2230.0 715.4,2229.3 716.8,2231.9 718.1,2233.3 719.5,2236.8 720.8,2234.3 722.1,2227.7 723.5,2224.8 724.8,2225.1 726.2,2221.1 727.5,2224.0 728.8,2225.0 730.2,2222.0 731.5,2226.0 732.9,2228.4 734.2,2232.0 735.5,2234.3 736.9,2230.4 738.2,2227.3 739.6,2230.7 740.9,2236.8 742.2,2239.2 743.6,2235.5 744.9,2231.3 746.2,2230.3 747.6,2229.9 748.9,2229.0 750.3,2231.3 751.6,2233.6 752.9,2234.6 754.3,2230.1 755.6,2234.0 757.0,2240.5 758.3,2239.2 759.6,2242.4 761.0,2246.1 762.3,2240.9 763.7,2239.4 765.0,2237.1 766.3,2229.8 767.7,2229.7 769.0,2230.3 770.4,2232.1 771.7,2237.2 773.0,2237.8 774.4,2239.9 775.7,2235.6 777.1,2233.7 778.4,2239.5 779.7,2242.1 781.1,2243.0 782.4,2246.0 783.8,2241.2 785.1,2247.2 786.4,2248.1 787.8,2241.0 789.1,2241.1 790.5,2246.1 791.8,2241.2 793.1,2242.0 794.5,2239.3 795.8,2241.9 797.2,2238.3 798.5,2237.9 799.8,2243.8 801.2,2243.1 802.5,2240.2 803.9,2241.8 805.2,2252.7 806.5,2254.5 807.9,2251.7 809.2,2250.3 810.6,2244.7 811.9,2241.0 813.2,2243.6 814.6,2253.1 815.9,2258.2 817.3,2261.8 818.6,2261.6 819.9,2259.9 821.3,2253.4 822.6,2254.9 823.9,2250.8 825.3,2249.3 826.6,2251.4 828.0,2255.6 829.3,2258.8 830.6,2256.7 832.0,2253.7 833.3,2255.6 834.7,2257.4 836.0,2255.5 837.3,2261.8 838.7,2267.7 840.0,2269.2 841.4,2271.5 842.7,2272.6 844.0,2269.8 845.4,2271.1 846.7,2269.9 848.1,2266.5 849.4,2269.3 850.7,2271.5 852.1,2272.4 853.4,2276.9 854.8,2276.3 856.1,2272.9 857.4,2274.1 858.8,2272.1 860.1,2273.2 861.5,2272.3 862.8,2271.7 864.1,2266.8 865.5,2261.2 866.8,2262.0 868.2,2265.6 869.5,2274.8 870.8,2273.2 872.2,2275.8 873.5,2275.7 874.9,2277.3 876.2,2271.9 877.5,2265.8 878.9,2270.0 880.2,2271.0 881.6,2270.3 882.9,2274.0 884.2,2277.0 885.6,2277.7 886.9,2276.2 888.3,2282.2 889.6,2280.8 890.9,2282.7 892.3,2281.2 893.6,2280.1 895.0,2276.5 896.3,2277.5 897.6,2275.1 899.0,2277.3 900.3,2277.8 901.6,2274.6 903.0,2270.7 904.3,2270.4 905.7,2274.4 907.0,2273.2 908.3,2273.7 909.7,2276.2 911.0,2280.6 912.4,2280.7 913.7,2279.5 915.0,2279.3 916.4,2276.3 917.7,2279.8 919.1,2280.0 920.4,2285.0 921.7,2286.1 923.1,2282.8 924.4,2280.8 925.8,2282.5 927.1,2285.1 928.4,2286.7 929.8,2286.2 931.1,2289.3 932.5,2287.3 933.8,2292.5 935.1,2291.7 936.5,2288.1 937.8,2288.0 939.2,2295.1 940.5,2294.5 941.8,2295.3 943.2,2297.4 944.5,2300.7 945.9,2300.1 947.2,2295.5 948.5,2296.6 949.9,2293.4 951.2,2300.7 952.6,2303.3 953.9,2300.8 955.2,2297.8 956.6,2295.1 957.9,2295.7 959.3,2296.5 960.6,2288.4 961.9,2288.9 963.3,2293.9 964.6,2299.5 966.0,2305.6 967.3,2301.1 968.6,2296.5 970.0,2298.5 971.3,2301.3 972.7,2305.7 974.0,2305.9 975.3,2298.0 976.7,2295.1 978.0,2298.6 979.3,2302.8 980.7,2305.2 982.0,2310.5 983.4,2309.2 984.7,2305.2 986.0,2306.4 987.4,2307.1 988.7,2310.7 990.1,2311.1 991.4,2309.6 992.7,2314.2 994.1,2312.7 995.4,2312.2 996.8,2319.6 998.1,2324.1 999.4,2319.3 1000.8,2319.3 1002.1,2315.0 1003.5,2310.8 1004.8,2312.6 1006.1,2310.5 1007.5,2313.0 1008.8,2314.2 1010.2,2320.4 1011.5,2316.1 1012.8,2316.0 1014.2,2313.0 1015.5,2318.6 1016.9,2317.6 1018.2,2317.1 1019.5,2310.7 1020.9,2312.6 1022.2,2307.4 1023.6,2314.5 1024.9,2314.0 1026.2,2316.7 1027.6,2316.8 1028.9,2317.5 1030.3,2318.5 1031.6,2315.0 1032.9,2316.9 1034.3,2319.2 1035.6,2321.8 1037.0,2324.0 1038.3,2323.4 1039.6,2319.8 1041.0,2322.2 1042.3,2321.8 1043.7,2320.4 1045.0,2317.7 1046.3,2309.2 1047.7,2317.5 1049.0,2317.2 1050.4,2317.8 1051.7,2320.2 1053.0,2324.4 1054.4,2323.2 1055.7,2328.0 1057.0,2322.8 1058.4,2322.7 1059.7,2323.1 1061.1,2312.4 1062.4,2316.6" fill="none" stroke="#e41a1c" stroke-opacity="0.31" stroke-width="6.25" stroke-linejoin="round" stroke-linecap="square"/><path d="M170.2,1600.0 171.5,1649.4 172.9,1698.4 174.2,1734.1 175.6,1756.0 176.9,1769.9 178.2,1780.0 179.6,1795.7 180.9,1809.4 182.3,1823.1 183.6,1836.3 184.9,1841.3 186.3,1842.8 187.6,1844.5 189.0,1846.8 190.3,1848.9 191.6,1852.0 193.0,1859.3 194.3,1867.8 195.7,1866.1 197.0,1873.0 198.3,1876.8 199.7,1876.2 201.0,1876.7 202.4,1879.9 203.7,1883.2 205.0,1892.4 206.4,1895.8 207.7,1894.2 209.0,1897.2 210.4,1895.8 211.7,1901.2 213.1,1900.0 214.4,1898.6 215.7,1900.6 217.1,1904.9 218.4,1911.3 219.8,1920.1 221.1,1922.7 222.4,1924.2 223.8,1929.0 225.1,1926.5 226.5,1926.1 227.8,1924.9 229.1,1925.9 230.5,1920.1 231.8,1917.9 233.2,1922.4 234.5,1926.4 235.8,1930.4 237.2,1926.9 238.5,1923.8 239.9,1927.5 241.2,1933.2 242.5,1926.3 243.9,1934.0 245.2,1939.3 246.6,1943.5 247.9,1945.7 249.2,1948.3 250.6,1945.7 251.9,1945.1 253.3,1939.9 254.6,1935.9 255.9,1937.7 257.3,1936.5 258.6,1937.9 260.0,1940.8 261.3,1941.4 262.6,1938.5 264.0,1943.1 265.3,1944.0 266.7,1948.8 268.0,1952.7 269.3,1956.6 270.7,1952.7 272.0,1950.6 273.4,1955.7 274.7,1958.0 276.0,1959.3 277.4,1954.8 278.7,1959.1 280.1,1958.1 281.4,1957.8 282.7,1954.9 284.1,1961.1 285.4,1965.4 286.7,1967.5 288.1,1964.6 289.4,1963.4 290.8,1968.0 292.1,1966.8 293.4,1965.7 294.8,1963.6 296.1,1971.9 297.5,1975.2 298.8,1978.2 300.1,1979.9 301.5,1974.9 302.8,1969.2 304.2,1975.0 305.5,1980.0 306.8,1984.0 308.2,1977.4 309.5,1976.2 310.9,1982.0 312.2,1989.9 313.5,1995.8 314.9,1996.4 316.2,1997.4 317.6,1994.4 318.9,1991.7 320.2,1989.7 321.6,1990.6 322.9,1997.9 324.3,1997.0 325.6,1995.1 326.9,1994.9 328.3,1987.2 329.6,1985.7 331.0,1986.3 332.3,1992.4 333.6,1995.9 335.0,1999.1 336.3,2002.6 337.7,2007.4 339.0,2006.0 340.3,2002.0 341.7,2005.7 343.0,2006.5 344.4,2001.1 345.7,1997.6 347.0,1999.5 348.4,2001.5 349.7,2007.9 351.1,2005.5 352.4,2005.7 353.7,2003.8 355.1,2000.4 356.4,2008.4 357.8,2013.6 359.1,2014.3 360.4,2020.7 361.8,2019.6 363.1,2020.7 364.4,2019.2 365.8,2020.6 367.1,2023.3 368.5,2025.1 369.8,2025.6 371.1,2026.4 372.5,2020.6 373.8,2016.5 375.2,2023.1 376.5,2026.3 377.8,2026.7 379.2,2022.7 380.5,2029.5 381.9,2026.2 383.2,2022.9 384.5,2027.0 385.9,2028.1 387.2,2028.2 388.6,2025.1 389.9,2020.9 391.2,2022.6 392.6,2018.9 393.9,2027.5 395.3,2027.6 396.6,2032.3 397.9,2040.1 399.3,2039.7 400.6,2040.5 402.0,2035.9 403.3,2040.7 404.6,2042.5 406.0,2045.3 407.3,2039.4 408.7,2040.5 410.0,2043.3 411.3,2046.2 412.7,2048.0 414.0,2045.4 415.4,2046.9 416.7,2044.0 418.0,2043.1 419.4,2044.7 420.7,2045.9 422.1,2047.0 423.4,2052.3 424.7,2055.7 426.1,2056.0 427.4,2057.0 428.8,2065.2 430.1,2058.0 431.4,2051.9 432.8,2055.5 434.1,2054.3 435.5,2055.9 436.8,2058.1 438.1,2054.1 439.5,2057.0 440.8,2059.5 442.1,2065.5 443.5,2068.8 444.8,2070.1 446.2,2071.9 447.5,2068.6 448.8,2069.0 450.2,2071.9 451.5,2073.1 452.9,2069.7 454.2,2063.2 455.5,2067.7 456.9,2065.7 458.2,2071.6 459.6,2074.9 460.9,2074.9 462.2,2074.9 463.6,2070.3 464.9,2078.1 466.3,2080.0 467.6,2076.6 468.9,2076.9 470.3,2078.8 471.6,2079.7 473.0,2077.4 474.3,2079.1 475.6,2080.4 477.0,2078.5 478.3,2081.6 479.7,2082.0 481.0,2080.9 482.3,2075.0 483.7,2070.1 485.0,2074.0 486.4,2082.4 487.7,2081.8 489.0,2085.8 490.4,2090.4 491.7,2093.1 493.1,2086.6 494.4,2087.3 495.7,2091.5 497.1,2091.6 498.4,2094.2 499.8,2100.3 501.1,2101.6 502.4,2100.5 503.8,2102.2 505.1,2101.8 506.5,2098.9 507.8,2095.0 509.1,2095.6 510.5,2093.9 511.8,2094.8 513.2,2097.0 514.5,2103.7 515.8,2104.5 517.2,2097.4 518.5,2098.0 519.8,2096.1 521.2,2098.0 522.5,2102.8 523.9,2097.0 525.2,2101.4 526.5,2098.5 527.9,2097.2 529.2,2101.7 530.6,2105.8 531.9,2105.5 533.2,2101.2 534.6,2096.9 535.9,2097.5 537.3,2099.2 538.6,2103.9 539.9,2103.8 541.3,2104.3 542.6,2104.6 544.0,2103.2 545.3,2096.4 546.6,2089.8 548.0,2093.3 549.3,2095.9 550.7,2097.1 552.0,2097.9 553.3,2101.3 554.7,2104.2 556.0,2106.0 557.4,2099.4 558.7,2098.4 560.0,2099.5 561.4,2105.6 562.7,2115.3 564.1,2115.8 565.4,2120.7 566.7,2122.5 568.1,2125.7 569.4,2129.2 570.8,2126.9 572.1,2127.5 573.4,2125.7 574.8,2128.1 576.1,2132.6 577.5,2131.4 578.8,2131.6 580.1,2128.9 581.5,2123.4 582.8,2131.3 584.2,2135.5 585.5,2133.8 586.8,2133.8 588.2,2134.3 589.5,2134.3 590.9,2135.8 592.2,2140.4 593.5,2137.6 594.9,2133.1 596.2,2129.2 597.5,2131.8 598.9,2132.8 600.2,2140.3 601.6,2142.3 602.9,2145.1 604.2,2141.0 605.6,2135.8 606.9,2133.0 608.3,2133.4 609.6,2134.9 610.9,2132.5 612.3,2130.7 613.6,2134.5 615.0,2135.8 616.3,2136.4 617.6,2137.9 619.0,2135.7 620.3,2136.1 621.7,2133.6 623.0,2132.3 624.3,2136.7 625.7,2140.8 627.0,2138.2 628.4,2142.4 629.7,2144.3 631.0,2137.4 632.4,2136.4 633.7,2136.7 635.1,2140.4 636.4,2143.6 637.7,2144.3 639.1,2149.3 640.4,2148.6 641.8,2146.3 643.1,2140.8 644.4,2138.5 645.8,2145.2 647.1,2145.7 648.5,2146.3 649.8,2152.4 651.1,2149.0 652.5,2149.1 653.8,2151.2 655.2,2145.9 656.5,2151.2 657.8,2152.7 659.2,2149.5 660.5,2155.0 661.9,2156.2 663.2,2158.3 664.5,2164.0 665.9,2160.2 667.2,2155.1 668.5,2152.6 669.9,2156.5 671.2,2162.1 672.6,2166.2 673.9,2157.0 675.2,2163.7 676.6,2164.0 677.9,2160.5 679.3,2161.2 680.6,2162.3 681.9,2160.7 683.3,2157.8 684.6,2154.7 686.0,2159.3 687.3,2165.6 688.6,2169.5 690.0,2167.5 691.3,2163.8 692.7,2164.1 694.0,2170.4 695.3,2179.2 696.7,2179.8 698.0,2179.3 699.4,2183.2 700.7,2179.4 702.0,2179.4 703.4,2178.9 704.7,2178.4 706.1,2174.7 707.4,2173.1 708.7,2175.6 710.1,2182.3 711.4,2189.1 712.8,2190.2 714.1,2192.0 715.4,2193.6 716.8,2189.1 718.1,2190.6 719.5,2189.5 720.8,2184.9 722.1,2179.9 723.5,2182.1 724.8,2183.1 726.2,2186.2 727.5,2189.2 728.8,2187.3 730.2,2184.7 731.5,2180.5 732.9,2179.6 734.2,2180.3 735.5,2184.5 736.9,2190.5 738.2,2192.0 739.6,2188.4 740.9,2185.6 742.2,2193.0 743.6,2192.8 744.9,2193.0 746.2,2185.3 747.6,2185.2 748.9,2191.3 750.3,2186.1 751.6,2178.4 752.9,2179.9 754.3,2183.3 755.6,2188.6 757.0,2198.5 758.3,2193.0 759.6,2200.5 761.0,2205.2 762.3,2203.2 763.7,2199.7 765.0,2196.1 766.3,2198.9 767.7,2200.4 769.0,2199.6 770.4,2199.7 771.7,2203.7 773.0,2207.5 774.4,2205.3 775.7,2205.0 777.1,2201.6 778.4,2211.1 779.7,2216.6 781.1,2214.4 782.4,2210.7 783.8,2211.6 785.1,2206.4 786.4,2207.6 787.8,2206.1 789.1,2205.2 790.5,2208.5 791.8,2208.0 793.1,2213.2 794.5,2204.9 795.8,2202.8 797.2,2207.2 798.5,2209.3 799.8,2213.8 801.2,2216.3 802.5,2214.6 803.9,2210.8 805.2,2211.9 806.5,2212.2 807.9,2217.7 809.2,2218.9 810.6,2220.8 811.9,2216.0 813.2,2219.1 814.6,2216.1 815.9,2218.2 817.3,2223.4 818.6,2221.3 819.9,2218.6 821.3,2220.4 822.6,2218.3 823.9,2220.2 825.3,2220.8 826.6,2222.1 828.0,2225.8 829.3,2229.8 830.6,2227.1 832.0,2229.4 833.3,2227.4 834.7,2223.7 836.0,2226.4 837.3,2233.8 838.7,2231.4 840.0,2227.8 841.4,2227.3 842.7,2233.8 844.0,2237.1 845.4,2239.9 846.7,2235.2 848.1,2230.9 849.4,2231.7 850.7,2235.4 852.1,2238.5 853.4,2239.1 854.8,2234.4 856.1,2235.6 857.4,2230.5 858.8,2229.9 860.1,2230.3 861.5,2234.7 862.8,2235.8 864.1,2230.3 865.5,2230.3 866.8,2235.4 868.2,2235.5 869.5,2240.9 870.8,2244.2 872.2,2242.4 873.5,2247.3 874.9,2241.6 876.2,2239.7 877.5,2234.5 878.9,2232.8 880.2,2230.5 881.6,2233.1 882.9,2229.8 884.2,2224.7 885.6,2236.4 886.9,2235.9 888.3,2238.6 889.6,2239.7 890.9,2236.3 892.3,2236.4 893.6,2237.6 895.0,2234.6 896.3,2237.9 897.6,2233.8 899.0,2232.4 900.3,2233.4 901.6,2235.0 903.0,2240.6 904.3,2243.8 905.7,2234.0 907.0,2228.7 908.3,2228.7 909.7,2232.2 911.0,2238.0 912.4,2242.2 913.7,2243.8 915.0,2243.0 916.4,2243.4 917.7,2248.4 919.1,2250.2 920.4,2247.1 921.7,2245.3 923.1,2249.6 924.4,2245.5 925.8,2245.1 927.1,2248.2 928.4,2240.1 929.8,2239.0 931.1,2239.1 932.5,2243.4 933.8,2245.2 935.1,2249.9 936.5,2251.6 937.8,2257.6 939.2,2259.9 940.5,2256.5 941.8,2254.6 943.2,2251.8 944.5,2246.1 945.9,2254.6 947.2,2254.6 948.5,2250.0 949.9,2246.5 951.2,2245.7 952.6,2252.0 953.9,2254.1 955.2,2261.6 956.6,2263.6 957.9,2260.0 959.3,2257.4 960.6,2253.6 961.9,2250.4 963.3,2259.9 964.6,2259.5 966.0,2259.9 967.3,2255.7 968.6,2257.9 970.0,2259.6 971.3,2265.8 972.7,2266.4 974.0,2268.1 975.3,2268.6 976.7,2268.6 978.0,2269.7 979.3,2271.5 980.7,2267.8 982.0,2269.8 983.4,2270.5 984.7,2272.1 986.0,2275.2 987.4,2274.8 988.7,2274.7 990.1,2277.4 991.4,2280.9 992.7,2280.4 994.1,2277.4 995.4,2272.0 996.8,2265.5 998.1,2267.4 999.4,2263.8 1000.8,2265.5 1002.1,2266.4 1003.5,2268.2 1004.8,2268.8 1006.1,2269.5 1007.5,2267.7 1008.8,2277.4 1010.2,2287.1 1011.5,2286.9 1012.8,2281.2 1014.2,2276.1 1015.5,2276.0 1016.9,2280.9 1018.2,2283.9 1019.5,2287.2 1020.9,2287.6 1022.2,2287.5 1023.6,2286.8 1024.9,2284.5 1026.2,2283.4 1027.6,2280.1 1028.9,2274.5 1030.3,2279.4 1031.6,2281.1 1032.9,2280.0 1034.3,2283.9 1035.6,2287.3 1037.0,2282.3 1038.3,2285.7 1039.6,2291.1 1041.0,2290.7 1042.3,2289.4 1043.7,2285.4 1045.0,2288.8 1046.3,2289.1 1047.7,2283.4 1049.0,2285.0 1050.4,2288.1 1051.7,2282.9 1053.0,2284.1 1054.4,2283.0 1055.7,2280.9 1057.0,2284.9 1058.4,2291.0 1059.7,2298.8 1061.1,2292.1 1062.4,2286.5" fill="none" stroke="#377eb8" stroke-opacity="0.31" stroke-width="6.25" stroke-linejoin="round" stroke-linecap="square"/></g><rect x="123.833" y="1811.833" width="985.333" height="3.333" fill="#000"/><rect x="123.833" y="2411.833" width="985.333" height="3.333" fill="#000"/><rect x="123.833" y="1811.833" width="3.333" height="603.333" fill="#000"/><rect x="1105.833" y="1811.833" width="3.333" height="603.333" fill="#000"/><rect x="110.4" y="2411.833" width="15.1" height="3.333" fill="#000"/><rect x="110.4" y="2242.833" width="15.1" height="3.333" fill="#000"/><rect x="110.4" y="2072.833" width="15.1" height="3.333" fill="#000"/><rect x="110.4" y="1902.833" width="15.1" height="3.333" fill="#000"/><rect x="168.833" y="2413.8" width="3.333" height="15.1" fill="#000"/><rect x="391.833" y="2413.8" width="3.333" height="15.1" fill="#000"/><rect x="614.833" y="2413.8" width="3.333" height="15.1" fill="#000"/><rect x="838.833" y="2413.8" width="3.333" height="15.1" fill="#000"/><rect x="1061.833" y="2413.8" width="3.333" height="15.1" fill="#000"/><text x="96.3" y="2429.4" text-anchor="end" class="tl" textLength="66.25" lengthAdjust="spacingAndGlyphs">0.0</text><text x="96.3" y="2259.8" text-anchor="end" class="tl" textLength="66.25" lengthAdjust="spacingAndGlyphs">0.5</text><text x="96.3" y="2090.1" text-anchor="end" class="tl" textLength="66.25" lengthAdjust="spacingAndGlyphs">1.0</text><text x="96.3" y="1922.0" text-anchor="end" class="tl" textLength="66.25" lengthAdjust="spacingAndGlyphs">1.5</text><text x="170.2" y="2474.9" text-anchor="middle" class="tl" textLength="26.50" lengthAdjust="spacingAndGlyphs">0</text><text x="393.5" y="2474.9" text-anchor="middle" class="tl" textLength="79.50" lengthAdjust="spacingAndGlyphs">500</text><text x="616.8" y="2474.9" text-anchor="middle" class="tl" textLength="106.00" lengthAdjust="spacingAndGlyphs">1000</text><text x="840.0" y="2474.9" text-anchor="middle" class="tl" textLength="106.00" lengthAdjust="spacingAndGlyphs">1500</text><text x="1063.3" y="2474.9" text-anchor="middle" class="tl" textLength="105.88" lengthAdjust="spacingAndGlyphs">2000</text><text x="616.5" y="1788.6" text-anchor="middle" class="st" textLength="372.25" lengthAdjust="spacingAndGlyphs">depth=3, width=2048</text>
<rect x="1305.833" y="1813.8" width="3.333" height="600.0" fill="#e7e7e7"/><rect x="1528.833" y="1813.8" width="3.333" height="600.0" fill="#e7e7e7"/><rect x="1751.833" y="1813.8" width="3.333" height="600.0" fill="#e7e7e7"/><rect x="1975.833" y="1813.8" width="3.333" height="600.0" fill="#e7e7e7"/><rect x="2198.833" y="1813.8" width="3.333" height="600.0" fill="#e7e7e7"/><rect x="1262.5" y="2242.833" width="981.9" height="3.333" fill="#e7e7e7"/><rect x="1262.5" y="2072.833" width="981.9" height="3.333" fill="#e7e7e7"/><rect x="1262.5" y="1902.833" width="981.9" height="3.333" fill="#e7e7e7"/><g clip-path="url(#c21)"><path d="M1307.2,1601.9 1308.5,1645.0 1309.9,1689.0 1311.2,1723.6 1312.6,1744.0 1313.9,1762.9 1315.2,1770.9 1316.6,1783.4 1317.9,1791.7 1319.3,1805.3 1320.6,1817.7 1321.9,1825.1 1323.3,1832.0 1324.6,1837.6 1326.0,1840.4 1327.3,1845.4 1328.6,1845.3 1330.0,1853.3 1331.3,1856.0 1332.7,1863.5 1334.0,1868.6 1335.3,1867.1 1336.7,1860.0 1338.0,1865.5 1339.4,1869.5 1340.7,1875.2 1342.0,1884.2 1343.4,1889.2 1344.7,1891.5 1346.0,1893.3 1347.4,1888.9 1348.7,1890.3 1350.1,1887.6 1351.4,1889.1 1352.7,1890.0 1354.1,1896.5 1355.4,1898.7 1356.8,1904.6 1358.1,1911.5 1359.4,1911.9 1360.8,1912.6 1362.1,1912.5 1363.5,1915.4 1364.8,1915.8 1366.1,1919.9 1367.5,1915.5 1368.8,1912.9 1370.2,1920.9 1371.5,1920.8 1372.8,1924.1 1374.2,1928.5 1375.5,1933.5 1376.9,1937.0 1378.2,1944.7 1379.5,1950.7 1380.9,1944.1 1382.2,1948.8 1383.6,1943.1 1384.9,1943.9 1386.2,1949.7 1387.6,1950.5 1388.9,1950.3 1390.3,1954.2 1391.6,1959.2 1392.9,1957.9 1394.3,1958.3 1395.6,1957.1 1397.0,1956.5 1398.3,1958.2 1399.6,1959.1 1401.0,1962.6 1402.3,1961.7 1403.7,1961.9 1405.0,1965.5 1406.3,1965.3 1407.7,1962.8 1409.0,1969.0 1410.4,1967.2 1411.7,1964.8 1413.0,1967.0 1414.4,1965.5 1415.7,1965.6 1417.1,1968.0 1418.4,1970.8 1419.7,1971.3 1421.1,1975.9 1422.4,1974.7 1423.7,1977.0 1425.1,1979.5 1426.4,1976.0 1427.8,1980.5 1429.1,1984.1 1430.4,1983.9 1431.8,1982.4 1433.1,1988.2 1434.5,1994.4 1435.8,2003.6 1437.1,2007.1 1438.5,2001.9 1439.8,1996.8 1441.2,1997.8 1442.5,1999.9 1443.8,2006.0 1445.2,2009.6 1446.5,2008.6 1447.9,2007.2 1449.2,2004.4 1450.5,2007.5 1451.9,2008.0 1453.2,2008.8 1454.6,2011.4 1455.9,2012.3 1457.2,2023.0 1458.6,2014.9 1459.9,2006.4 1461.3,2007.3 1462.6,2005.4 1463.9,2009.3 1465.3,2009.0 1466.6,2004.5 1468.0,2003.1 1469.3,2009.3 1470.6,2010.2 1472.0,2016.2 1473.3,2017.0 1474.7,2018.8 1476.0,2020.1 1477.3,2023.6 1478.7,2027.7 1480.0,2026.2 1481.4,2023.0 1482.7,2026.1 1484.0,2030.6 1485.4,2031.5 1486.7,2033.3 1488.1,2035.0 1489.4,2036.2 1490.7,2033.4 1492.1,2033.6 1493.4,2041.4 1494.8,2041.4 1496.1,2039.0 1497.4,2040.4 1498.8,2043.3 1500.1,2046.4 1501.4,2044.4 1502.8,2041.4 1504.1,2046.6 1505.5,2044.8 1506.8,2046.4 1508.1,2043.9 1509.5,2050.9 1510.8,2054.3 1512.2,2054.9 1513.5,2051.3 1514.8,2054.1 1516.2,2057.9 1517.5,2057.7 1518.9,2060.3 1520.2,2058.5 1521.5,2066.3 1522.9,2063.7 1524.2,2064.3 1525.6,2061.7 1526.9,2062.0 1528.2,2069.5 1529.6,2069.3 1530.9,2067.8 1532.3,2065.3 1533.6,2063.8 1534.9,2066.6 1536.3,2066.4 1537.6,2069.8 1539.0,2068.9 1540.3,2067.4 1541.6,2066.3 1543.0,2068.2 1544.3,2073.8 1545.7,2072.4 1547.0,2073.9 1548.3,2076.3 1549.7,2077.0 1551.0,2082.6 1552.4,2088.1 1553.7,2083.0 1555.0,2080.6 1556.4,2077.9 1557.7,2078.4 1559.1,2081.9 1560.4,2079.8 1561.7,2082.3 1563.1,2081.2 1564.4,2076.8 1565.8,2078.8 1567.1,2075.5 1568.4,2076.9 1569.8,2080.1 1571.1,2075.7 1572.5,2078.5 1573.8,2081.4 1575.1,2082.1 1576.5,2085.6 1577.8,2086.3 1579.1,2091.7 1580.5,2089.3 1581.8,2095.6 1583.2,2099.8 1584.5,2105.6 1585.8,2105.6 1587.2,2108.8 1588.5,2108.7 1589.9,2111.0 1591.2,2113.2 1592.5,2116.1 1593.9,2119.3 1595.2,2119.8 1596.6,2119.5 1597.9,2123.7 1599.2,2115.7 1600.6,2110.8 1601.9,2112.8 1603.3,2109.9 1604.6,2104.2 1605.9,2107.0 1607.3,2112.6 1608.6,2110.1 1610.0,2111.1 1611.3,2114.3 1612.6,2113.9 1614.0,2114.6 1615.3,2115.0 1616.7,2116.7 1618.0,2117.2 1619.3,2119.5 1620.7,2120.6 1622.0,2120.7 1623.4,2118.8 1624.7,2121.7 1626.0,2124.6 1627.4,2123.3 1628.7,2123.3 1630.1,2119.5 1631.4,2121.3 1632.7,2123.6 1634.1,2120.7 1635.4,2119.6 1636.8,2115.8 1638.1,2121.0 1639.4,2126.1 1640.8,2132.4 1642.1,2133.5 1643.5,2136.2 1644.8,2136.0 1646.1,2137.6 1647.5,2134.0 1648.8,2141.3 1650.2,2146.1 1651.5,2146.3 1652.8,2142.7 1654.2,2140.2 1655.5,2146.2 1656.8,2152.7 1658.2,2153.9 1659.5,2159.2 1660.9,2161.6 1662.2,2159.1 1663.5,2158.3 1664.9,2156.0 1666.2,2161.6 1667.6,2165.2 1668.9,2165.1 1670.2,2165.8 1671.6,2165.8 1672.9,2170.8 1674.3,2172.0 1675.6,2173.4 1676.9,2170.5 1678.3,2167.1 1679.6,2168.7 1681.0,2170.0 1682.3,2170.7 1683.6,2168.6 1685.0,2173.5 1686.3,2174.3 1687.7,2179.6 1689.0,2176.7 1690.3,2183.8 1691.7,2182.4 1693.0,2180.2 1694.4,2180.1 1695.7,2178.3 1697.0,2171.9 1698.4,2175.3 1699.7,2175.7 1701.1,2180.8 1702.4,2183.3 1703.7,2181.4 1705.1,2181.3 1706.4,2183.6 1707.8,2184.0 1709.1,2188.6 1710.4,2190.5 1711.8,2194.0 1713.1,2194.7 1714.5,2191.6 1715.8,2190.6 1717.1,2193.6 1718.5,2194.6 1719.8,2191.7 1721.2,2188.9 1722.5,2192.1 1723.8,2198.4 1725.2,2202.1 1726.5,2199.8 1727.9,2196.7 1729.2,2195.7 1730.5,2195.1 1731.9,2193.9 1733.2,2193.5 1734.5,2192.0 1735.9,2196.6 1737.2,2194.4 1738.6,2186.8 1739.9,2184.9 1741.2,2185.5 1742.6,2187.8 1743.9,2192.0 1745.3,2198.3 1746.6,2202.5 1747.9,2204.4 1749.3,2202.7 1750.6,2201.1 1752.0,2203.7 1753.3,2198.7 1754.6,2196.5 1756.0,2198.4 1757.3,2197.7 1758.7,2192.8 1760.0,2199.3 1761.3,2202.7 1762.7,2206.0 1764.0,2203.0 1765.4,2206.5 1766.7,2207.4 1768.0,2208.6 1769.4,2210.0 1770.7,2214.9 1772.1,2216.6 1773.4,2215.7 1774.7,2210.0 1776.1,2208.7 1777.4,2207.0 1778.8,2209.2 1780.1,2203.5 1781.4,2201.6 1782.8,2205.0 1784.1,2207.4 1785.5,2203.4 1786.8,2209.8 1788.1,2210.0 1789.5,2208.7 1790.8,2203.0 1792.2,2206.0 1793.5,2212.2 1794.8,2217.4 1796.2,2214.7 1797.5,2212.8 1798.9,2213.3 1800.2,2219.3 1801.5,2220.7 1802.9,2220.7 1804.2,2218.6 1805.5,2215.6 1806.9,2214.3 1808.2,2218.4 1809.6,2224.3 1810.9,2226.1 1812.2,2230.7 1813.6,2234.3 1814.9,2231.2 1816.3,2228.9 1817.6,2225.1 1818.9,2226.0 1820.3,2230.5 1821.6,2232.3 1823.0,2227.3 1824.3,2228.3 1825.6,2225.8 1827.0,2227.8 1828.3,2222.3 1829.7,2220.2 1831.0,2215.5 1832.3,2213.7 1833.7,2212.6 1835.0,2219.1 1836.4,2221.7 1837.7,2222.6 1839.0,2223.0 1840.4,2223.1 1841.7,2224.5 1843.1,2231.4 1844.4,2231.1 1845.7,2234.1 1847.1,2230.2 1848.4,2228.1 1849.8,2227.8 1851.1,2229.9 1852.4,2230.3 1853.8,2233.9 1855.1,2239.8 1856.5,2244.3 1857.8,2247.5 1859.1,2244.6 1860.5,2245.9 1861.8,2247.6 1863.2,2248.6 1864.5,2248.8 1865.8,2250.3 1867.2,2259.6 1868.5,2259.4 1869.9,2257.6 1871.2,2258.2 1872.5,2259.3 1873.9,2256.0 1875.2,2248.7 1876.6,2250.2 1877.9,2254.9 1879.2,2254.9 1880.6,2252.3 1881.9,2254.1 1883.2,2247.3 1884.6,2250.9 1885.9,2251.9 1887.3,2258.9 1888.6,2258.9 1889.9,2257.1 1891.3,2256.8 1892.6,2258.9 1894.0,2265.7 1895.3,2268.0 1896.6,2269.2 1898.0,2267.3 1899.3,2266.4 1900.7,2265.8 1902.0,2261.6 1903.3,2263.2 1904.7,2264.4 1906.0,2265.1 1907.4,2266.5 1908.7,2272.2 1910.0,2272.8 1911.4,2272.1 1912.7,2265.6 1914.1,2262.3 1915.4,2264.5 1916.7,2264.3 1918.1,2266.5 1919.4,2274.3 1920.8,2275.3 1922.1,2273.5 1923.4,2269.9 1924.8,2265.4 1926.1,2267.5 1927.5,2269.4 1928.8,2262.6 1930.1,2258.9 1931.5,2262.6 1932.8,2262.7 1934.2,2260.4 1935.5,2257.3 1936.8,2258.7 1938.2,2260.8 1939.5,2261.1 1940.9,2261.7 1942.2,2260.6 1943.5,2261.3 1944.9,2264.2 1946.2,2267.4 1947.6,2272.6 1948.9,2276.3 1950.2,2276.9 1951.6,2277.9 1952.9,2277.5 1954.3,2277.6 1955.6,2282.2 1956.9,2278.2 1958.3,2270.9 1959.6,2265.9 1960.9,2271.0 1962.3,2277.9 1963.6,2282.3 1965.0,2279.1 1966.3,2277.9 1967.6,2277.5 1969.0,2276.6 1970.3,2283.6 1971.7,2281.8 1973.0,2284.3 1974.3,2283.5 1975.7,2286.7 1977.0,2283.7 1978.4,2275.6 1979.7,2279.3 1981.0,2278.9 1982.4,2284.3 1983.7,2286.7 1985.1,2287.5 1986.4,2289.8 1987.7,2292.9 1989.1,2291.0 1990.4,2286.7 1991.8,2286.8 1993.1,2286.4 1994.4,2290.0 1995.8,2286.0 1997.1,2285.0 1998.5,2282.8 1999.8,2284.7 2001.1,2289.7 2002.5,2292.6 2003.8,2298.2 2005.2,2302.0 2006.5,2301.1 2007.8,2302.9 2009.2,2302.7 2010.5,2305.3 2011.9,2305.1 2013.2,2299.0 2014.5,2292.9 2015.9,2290.4 2017.2,2290.1 2018.6,2286.0 2019.9,2284.1 2021.2,2290.5 2022.6,2295.4 2023.9,2300.1 2025.3,2303.5 2026.6,2295.8 2027.9,2298.0 2029.3,2303.2 2030.6,2308.2 2032.0,2312.1 2033.3,2312.8 2034.6,2306.9 2036.0,2306.4 2037.3,2306.6 2038.6,2309.7 2040.0,2305.0 2041.3,2307.1 2042.7,2310.7 2044.0,2309.0 2045.3,2306.2 2046.7,2299.9 2048.0,2295.0 2049.4,2295.0 2050.7,2294.3 2052.0,2289.7 2053.4,2290.5 2054.7,2291.9 2056.1,2302.5 2057.4,2307.1 2058.7,2309.7 2060.1,2310.2 2061.4,2309.7 2062.8,2310.1 2064.1,2309.1 2065.4,2306.9 2066.8,2306.7 2068.1,2312.3 2069.5,2318.4 2070.8,2319.2 2072.1,2318.8 2073.5,2319.5 2074.8,2315.3 2076.2,2313.0 2077.5,2312.2 2078.8,2314.1 2080.2,2313.5 2081.5,2316.3 2082.9,2317.2 2084.2,2311.2 2085.5,2306.0 2086.9,2309.5 2088.2,2311.5 2089.6,2314.1 2090.9,2315.4 2092.2,2319.0 2093.6,2317.0 2094.9,2316.5 2096.3,2320.1 2097.6,2319.1 2098.9,2317.9 2100.3,2321.6 2101.6,2319.4 2103.0,2319.8 2104.3,2328.0 2105.6,2329.9 2107.0,2338.4 2108.3,2336.1 2109.7,2330.4 2111.0,2326.9 2112.3,2326.9 2113.7,2327.6 2115.0,2329.7 2116.3,2323.0 2117.7,2322.3 2119.0,2324.4 2120.4,2325.2 2121.7,2324.2 2123.0,2325.9 2124.4,2324.0 2125.7,2321.8 2127.1,2322.4 2128.4,2328.0 2129.7,2335.8 2131.1,2334.8 2132.4,2332.4 2133.8,2327.3 2135.1,2328.1 2136.4,2328.7 2137.8,2333.1 2139.1,2331.8 2140.5,2331.6 2141.8,2331.2 2143.1,2333.3 2144.5,2335.0 2145.8,2332.9 2147.2,2337.5 2148.5,2339.7 2149.8,2339.4 2151.2,2337.5 2152.5,2339.2 2153.9,2341.2 2155.2,2343.8 2156.5,2338.8 2157.9,2342.5 2159.2,2343.2 2160.6,2348.6 2161.9,2353.7 2163.2,2346.7 2164.6,2340.0 2165.9,2340.8 2167.3,2337.6 2168.6,2338.2 2169.9,2348.4 2171.3,2352.8 2172.6,2351.5 2174.0,2351.1 2175.3,2346.1 2176.6,2347.2 2178.0,2347.8 2179.3,2346.0 2180.7,2346.5 2182.0,2341.1 2183.3,2340.3 2184.7,2349.0 2186.0,2350.5 2187.4,2341.0 2188.7,2332.1 2190.0,2338.7 2191.4,2340.6 2192.7,2344.7 2194.0,2347.8 2195.4,2348.4 2196.7,2354.3 2198.1,2348.6 2199.4,2350.7" fill="none" stroke="#e41a1c" stroke-opacity="0.31" stroke-width="6.25" stroke-linejoin="round" stroke-linecap="square"/><path d="M1307.2,1605.0 1308.5,1647.4 1309.9,1689.8 1311.2,1725.2 1312.6,1744.9 1313.9,1763.5 1315.2,1771.8 1316.6,1784.4 1317.9,1794.0 1319.3,1808.8 1320.6,1822.0 1321.9,1828.4 1323.3,1834.2 1324.6,1839.2 1326.0,1841.4 1327.3,1846.6 1328.6,1845.0 1330.0,1853.7 1331.3,1856.0 1332.7,1863.9 1334.0,1867.0 1335.3,1862.3 1336.7,1856.5 1338.0,1863.3 1339.4,1866.9 1340.7,1873.5 1342.0,1880.6 1343.4,1884.8 1344.7,1888.0 1346.0,1891.2 1347.4,1890.3 1348.7,1891.1 1350.1,1886.5 1351.4,1887.6 1352.7,1886.9 1354.1,1893.8 1355.4,1896.6 1356.8,1901.7 1358.1,1911.2 1359.4,1912.6 1360.8,1911.6 1362.1,1908.4 1363.5,1913.4 1364.8,1915.5 1366.1,1919.3 1367.5,1916.1 1368.8,1915.3 1370.2,1927.6 1371.5,1925.9 1372.8,1929.7 1374.2,1934.3 1375.5,1937.0 1376.9,1937.7 1378.2,1944.1 1379.5,1949.1 1380.9,1942.6 1382.2,1948.1 1383.6,1944.1 1384.9,1942.6 1386.2,1947.5 1387.6,1949.3 1388.9,1951.7 1390.3,1952.5 1391.6,1955.5 1392.9,1954.3 1394.3,1955.8 1395.6,1953.9 1397.0,1950.0 1398.3,1953.3 1399.6,1951.6 1401.0,1952.6 1402.3,1952.1 1403.7,1953.9 1405.0,1955.9 1406.3,1953.5 1407.7,1954.0 1409.0,1955.3 1410.4,1954.7 1411.7,1957.1 1413.0,1959.7 1414.4,1959.0 1415.7,1956.2 1417.1,1961.6 1418.4,1964.5 1419.7,1968.2 1421.1,1975.0 1422.4,1978.1 1423.7,1975.1 1425.1,1976.0 1426.4,1971.7 1427.8,1972.8 1429.1,1967.6 1430.4,1964.7 1431.8,1964.6 1433.1,1963.3 1434.5,1965.7 1435.8,1975.1 1437.1,1974.2 1438.5,1976.2 1439.8,1981.5 1441.2,1987.8 1442.5,1987.1 1443.8,1990.3 1445.2,1986.3 1446.5,1986.9 1447.9,1986.9 1449.2,1989.1 1450.5,1989.9 1451.9,1989.7 1453.2,1986.5 1454.6,1988.6 1455.9,1989.7 1457.2,1987.0 1458.6,1983.0 1459.9,1984.6 1461.3,1987.1 1462.6,1985.2 1463.9,1988.6 1465.3,1991.5 1466.6,1986.8 1468.0,1991.2 1469.3,1990.5 1470.6,1985.5 1472.0,1989.1 1473.3,1989.4 1474.7,1981.9 1476.0,1986.8 1477.3,1987.9 1478.7,1993.5 1480.0,2001.3 1481.4,2002.6 1482.7,2003.5 1484.0,2004.9 1485.4,2007.3 1486.7,2007.0 1488.1,2005.9 1489.4,2008.1 1490.7,2003.9 1492.1,2009.8 1493.4,2010.5 1494.8,2012.0 1496.1,2014.3 1497.4,2017.3 1498.8,2017.3 1500.1,2015.1 1501.4,2017.3 1502.8,2010.8 1504.1,2012.0 1505.5,2017.1 1506.8,2019.5 1508.1,2017.5 1509.5,2022.4 1510.8,2026.7 1512.2,2027.0 1513.5,2029.1 1514.8,2029.3 1516.2,2029.0 1517.5,2032.7 1518.9,2024.3 1520.2,2026.8 1521.5,2029.3 1522.9,2030.1 1524.2,2038.0 1525.6,2034.0 1526.9,2034.3 1528.2,2033.9 1529.6,2031.8 1530.9,2035.0 1532.3,2035.8 1533.6,2034.3 1534.9,2030.3 1536.3,2038.5 1537.6,2045.3 1539.0,2046.9 1540.3,2049.6 1541.6,2046.8 1543.0,2039.4 1544.3,2040.4 1545.7,2040.6 1547.0,2040.7 1548.3,2042.4 1549.7,2043.7 1551.0,2040.3 1552.4,2038.8 1553.7,2037.6 1555.0,2038.8 1556.4,2037.4 1557.7,2040.3 1559.1,2039.8 1560.4,2036.5 1561.7,2036.9 1563.1,2042.6 1564.4,2040.9 1565.8,2040.1 1567.1,2045.0 1568.4,2050.3 1569.8,2044.8 1571.1,2047.4 1572.5,2048.3 1573.8,2043.2 1575.1,2043.1 1576.5,2048.2 1577.8,2049.5 1579.1,2052.9 1580.5,2054.1 1581.8,2056.8 1583.2,2062.3 1584.5,2066.4 1585.8,2070.8 1587.2,2071.5 1588.5,2072.0 1589.9,2069.9 1591.2,2067.4 1592.5,2073.8 1593.9,2068.8 1595.2,2071.0 1596.6,2070.8 1597.9,2074.0 1599.2,2072.2 1600.6,2076.0 1601.9,2081.6 1603.3,2079.7 1604.6,2084.1 1605.9,2088.4 1607.3,2083.6 1608.6,2077.7 1610.0,2078.2 1611.3,2080.0 1612.6,2074.5 1614.0,2077.8 1615.3,2079.0 1616.7,2076.9 1618.0,2079.1 1619.3,2077.4 1620.7,2076.4 1622.0,2078.5 1623.4,2082.1 1624.7,2083.3 1626.0,2088.0 1627.4,2086.7 1628.7,2085.5 1630.1,2074.6 1631.4,2075.0 1632.7,2074.5 1634.1,2075.4 1635.4,2079.3 1636.8,2079.0 1638.1,2080.8 1639.4,2076.5 1640.8,2083.6 1642.1,2080.7 1643.5,2080.4 1644.8,2084.7 1646.1,2081.7 1647.5,2081.2 1648.8,2092.2 1650.2,2101.3 1651.5,2095.9 1652.8,2091.3 1654.2,2092.5 1655.5,2096.0 1656.8,2101.6 1658.2,2111.4 1659.5,2111.8 1660.9,2109.4 1662.2,2107.9 1663.5,2100.8 1664.9,2100.9 1666.2,2098.2 1667.6,2107.2 1668.9,2110.7 1670.2,2112.8 1671.6,2114.4 1672.9,2114.6 1674.3,2115.8 1675.6,2112.4 1676.9,2117.1 1678.3,2120.1 1679.6,2130.1 1681.0,2130.3 1682.3,2130.4 1683.6,2132.7 1685.0,2133.1 1686.3,2128.2 1687.7,2119.3 1689.0,2119.2 1690.3,2114.5 1691.7,2113.3 1693.0,2116.8 1694.4,2120.8 1695.7,2132.5 1697.0,2128.3 1698.4,2133.9 1699.7,2131.5 1701.1,2130.7 1702.4,2129.8 1703.7,2131.4 1705.1,2141.9 1706.4,2136.7 1707.8,2136.1 1709.1,2136.1 1710.4,2132.0 1711.8,2129.4 1713.1,2129.2 1714.5,2127.7 1715.8,2127.2 1717.1,2126.0 1718.5,2128.3 1719.8,2127.9 1721.2,2129.6 1722.5,2128.2 1723.8,2132.3 1725.2,2130.9 1726.5,2133.9 1727.9,2135.5 1729.2,2138.6 1730.5,2132.5 1731.9,2131.3 1733.2,2132.4 1734.5,2130.2 1735.9,2127.6 1737.2,2125.6 1738.6,2129.7 1739.9,2134.5 1741.2,2138.4 1742.6,2134.6 1743.9,2136.9 1745.3,2139.8 1746.6,2141.8 1747.9,2141.1 1749.3,2136.9 1750.6,2131.5 1752.0,2131.6 1753.3,2132.1 1754.6,2136.9 1756.0,2138.7 1757.3,2131.5 1758.7,2131.3 1760.0,2135.9 1761.3,2142.2 1762.7,2144.3 1764.0,2143.1 1765.4,2137.3 1766.7,2139.8 1768.0,2145.5 1769.4,2140.0 1770.7,2138.8 1772.1,2142.3 1773.4,2145.2 1774.7,2145.3 1776.1,2137.0 1777.4,2135.9 1778.8,2133.5 1780.1,2139.0 1781.4,2143.8 1782.8,2155.3 1784.1,2155.7 1785.5,2156.7 1786.8,2160.3 1788.1,2155.5 1789.5,2156.3 1790.8,2161.1 1792.2,2159.5 1793.5,2167.2 1794.8,2161.9 1796.2,2165.3 1797.5,2166.1 1798.9,2171.3 1800.2,2174.2 1801.5,2171.3 1802.9,2166.2 1804.2,2163.6 1805.5,2168.0 1806.9,2166.6 1808.2,2160.3 1809.6,2162.5 1810.9,2163.5 1812.2,2162.6 1813.6,2158.2 1814.9,2161.2 1816.3,2164.5 1817.6,2168.0 1818.9,2166.2 1820.3,2167.2 1821.6,2166.5 1823.0,2157.4 1824.3,2162.5 1825.6,2160.6 1827.0,2155.7 1828.3,2158.4 1829.7,2159.8 1831.0,2161.1 1832.3,2165.3 1833.7,2169.3 1835.0,2175.0 1836.4,2179.1 1837.7,2183.4 1839.0,2177.8 1840.4,2181.1 1841.7,2174.7 1843.1,2174.5 1844.4,2180.3 1845.7,2187.1 1847.1,2183.4 1848.4,2183.1 1849.8,2175.6 1851.1,2173.9 1852.4,2177.3 1853.8,2179.5 1855.1,2184.3 1856.5,2189.8 1857.8,2188.5 1859.1,2188.8 1860.5,2185.5 1861.8,2188.8 1863.2,2190.1 1864.5,2191.2 1865.8,2197.8 1867.2,2203.3 1868.5,2211.4 1869.9,2210.4 1871.2,2204.3 1872.5,2199.8 1873.9,2198.4 1875.2,2197.2 1876.6,2202.0 1877.9,2205.2 1879.2,2205.7 1880.6,2209.4 1881.9,2211.6 1883.2,2207.4 1884.6,2207.8 1885.9,2205.1 1887.3,2206.1 1888.6,2208.7 1889.9,2206.0 1891.3,2205.8 1892.6,2208.1 1894.0,2206.7 1895.3,2203.1 1896.6,2208.9 1898.0,2206.5 1899.3,2212.1 1900.7,2209.5 1902.0,2209.4 1903.3,2207.1 1904.7,2201.9 1906.0,2205.4 1907.4,2205.5 1908.7,2206.9 1910.0,2207.4 1911.4,2209.3 1912.7,2201.2 1914.1,2203.8 1915.4,2202.3 1916.7,2203.5 1918.1,2206.9 1919.4,2210.3 1920.8,2204.7 1922.1,2213.2 1923.4,2212.5 1924.8,2220.0 1926.1,2216.4 1927.5,2216.6 1928.8,2214.4 1930.1,2219.4 1931.5,2228.7 1932.8,2223.2 1934.2,2218.6 1935.5,2217.4 1936.8,2215.4 1938.2,2224.8 1939.5,2226.3 1940.9,2230.9 1942.2,2225.4 1943.5,2219.4 1944.9,2217.9 1946.2,2220.1 1947.6,2219.5 1948.9,2219.8 1950.2,2210.7 1951.6,2207.0 1952.9,2212.0 1954.3,2214.7 1955.6,2215.6 1956.9,2217.6 1958.3,2225.9 1959.6,2227.2 1960.9,2228.3 1962.3,2227.7 1963.6,2223.5 1965.0,2222.8 1966.3,2221.9 1967.6,2226.4 1969.0,2228.9 1970.3,2234.7 1971.7,2234.4 1973.0,2237.2 1974.3,2236.4 1975.7,2235.3 1977.0,2233.2 1978.4,2233.4 1979.7,2229.2 1981.0,2230.4 1982.4,2227.3 1983.7,2224.5 1985.1,2227.7 1986.4,2231.0 1987.7,2234.4 1989.1,2238.2 1990.4,2244.1 1991.8,2246.7 1993.1,2239.2 1994.4,2235.3 1995.8,2237.9 1997.1,2237.0 1998.5,2231.3 1999.8,2234.2 2001.1,2239.9 2002.5,2240.0 2003.8,2238.7 2005.2,2241.7 2006.5,2245.1 2007.8,2247.9 2009.2,2247.2 2010.5,2247.5 2011.9,2245.8 2013.2,2244.3 2014.5,2242.6 2015.9,2243.9 2017.2,2247.1 2018.6,2241.7 2019.9,2234.3 2021.2,2235.5 2022.6,2238.7 2023.9,2245.6 2025.3,2244.6 2026.6,2245.8 2027.9,2243.0 2029.3,2244.7 2030.6,2246.2 2032.0,2249.4 2033.3,2254.4 2034.6,2254.9 2036.0,2249.5 2037.3,2247.9 2038.6,2245.7 2040.0,2249.3 2041.3,2253.3 2042.7,2251.8 2044.0,2252.6 2045.3,2253.8 2046.7,2251.4 2048.0,2249.4 2049.4,2248.2 2050.7,2254.1 2052.0,2254.8 2053.4,2255.0 2054.7,2255.7 2056.1,2258.7 2057.4,2261.9 2058.7,2258.6 2060.1,2255.3 2061.4,2250.8 2062.8,2252.4 2064.1,2248.4 2065.4,2252.1 2066.8,2256.3 2068.1,2262.0 2069.5,2258.1 2070.8,2259.3 2072.1,2261.2 2073.5,2261.3 2074.8,2259.4 2076.2,2261.0 2077.5,2263.0 2078.8,2267.7 2080.2,2268.4 2081.5,2278.1 2082.9,2271.0 2084.2,2265.8 2085.5,2259.2 2086.9,2256.8 2088.2,2266.2 2089.6,2271.0 2090.9,2276.4 2092.2,2276.7 2093.6,2276.7 2094.9,2270.6 2096.3,2270.7 2097.6,2274.8 2098.9,2278.7 2100.3,2275.4 2101.6,2274.4 2103.0,2273.9 2104.3,2277.3 2105.6,2275.1 2107.0,2279.2 2108.3,2282.4 2109.7,2275.1 2111.0,2272.9 2112.3,2273.7 2113.7,2274.0 2115.0,2273.2 2116.3,2273.9 2117.7,2278.0 2119.0,2276.8 2120.4,2279.2 2121.7,2275.7 2123.0,2274.4 2124.4,2271.2 2125.7,2278.4 2127.1,2278.9 2128.4,2286.0 2129.7,2284.5 2131.1,2279.3 2132.4,2273.5 2133.8,2274.2 2135.1,2277.8 2136.4,2277.3 2137.8,2276.7 2139.1,2282.3 2140.5,2285.7 2141.8,2287.8 2143.1,2288.3 2144.5,2284.5 2145.8,2284.1 2147.2,2282.9 2148.5,2280.6 2149.8,2285.6 2151.2,2287.9 2152.5,2288.2 2153.9,2292.7 2155.2,2290.5 2156.5,2288.3 2157.9,2287.2 2159.2,2290.5 2160.6,2294.4 2161.9,2298.9 2163.2,2298.4 2164.6,2298.7 2165.9,2290.9 2167.3,2293.0 2168.6,2289.6 2169.9,2290.9 2171.3,2291.5 2172.6,2291.3 2174.0,2292.9 2175.3,2295.4 2176.6,2296.4 2178.0,2293.2 2179.3,2290.8 2180.7,2294.7 2182.0,2297.4 2183.3,2300.2 2184.7,2301.2 2186.0,2299.3 2187.4,2297.2 2188.7,2298.8 2190.0,2294.4 2191.4,2289.6 2192.7,2288.3 2194.0,2295.5 2195.4,2292.8 2196.7,2292.1 2198.1,2301.7 2199.4,2298.2" fill="none" stroke="#377eb8" stroke-opacity="0.31" stroke-width="6.25" stroke-linejoin="round" stroke-linecap="square"/></g><rect x="1260.833" y="1811.833" width="985.333" height="3.333" fill="#000"/><rect x="1260.833" y="2411.833" width="985.333" height="3.333" fill="#000"/><rect x="1260.833" y="1811.833" width="3.333" height="603.333" fill="#000"/><rect x="2242.833" y="1811.833" width="3.333" height="603.333" fill="#000"/><rect x="1247.4" y="2411.833" width="15.1" height="3.333" fill="#000"/><rect x="1247.4" y="2242.833" width="15.1" height="3.333" fill="#000"/><rect x="1247.4" y="2072.833" width="15.1" height="3.333" fill="#000"/><rect x="1247.4" y="1902.833" width="15.1" height="3.333" fill="#000"/><rect x="1305.833" y="2413.8" width="3.333" height="15.1" fill="#000"/><rect x="1528.833" y="2413.8" width="3.333" height="15.1" fill="#000"/><rect x="1751.833" y="2413.8" width="3.333" height="15.1" fill="#000"/><rect x="1975.833" y="2413.8" width="3.333" height="15.1" fill="#000"/><rect x="2198.833" y="2413.8" width="3.333" height="15.1" fill="#000"/><text x="1233.3" y="2429.4" text-anchor="end" class="tl" textLength="66.25" lengthAdjust="spacingAndGlyphs">0.0</text><text x="1233.3" y="2259.8" text-anchor="end" class="tl" textLength="66.25" lengthAdjust="spacingAndGlyphs">0.5</text><text x="1233.3" y="2090.1" text-anchor="end" class="tl" textLength="66.25" lengthAdjust="spacingAndGlyphs">1.0</text><text x="1233.3" y="1922.0" text-anchor="end" class="tl" textLength="66.25" lengthAdjust="spacingAndGlyphs">1.5</text><text x="1307.2" y="2474.9" text-anchor="middle" class="tl" textLength="26.50" lengthAdjust="spacingAndGlyphs">0</text><text x="1530.5" y="2474.9" text-anchor="middle" class="tl" textLength="79.50" lengthAdjust="spacingAndGlyphs">500</text><text x="1753.8" y="2474.9" text-anchor="middle" class="tl" textLength="106.00" lengthAdjust="spacingAndGlyphs">1000</text><text x="1977.0" y="2474.9" text-anchor="middle" class="tl" textLength="106.00" lengthAdjust="spacingAndGlyphs">1500</text><text x="2200.3" y="2474.9" text-anchor="middle" class="tl" textLength="105.88" lengthAdjust="spacingAndGlyphs">2000</text><text x="1753.5" y="1788.6" text-anchor="middle" class="st" textLength="372.25" lengthAdjust="spacingAndGlyphs">depth=4, width=2048</text>
<rect x="2442.833" y="1813.8" width="3.333" height="600.0" fill="#e7e7e7"/><rect x="2665.833" y="1813.8" width="3.333" height="600.0" fill="#e7e7e7"/><rect x="2888.833" y="1813.8" width="3.333" height="600.0" fill="#e7e7e7"/><rect x="3112.833" y="1813.8" width="3.333" height="600.0" fill="#e7e7e7"/><rect x="3335.833" y="1813.8" width="3.333" height="600.0" fill="#e7e7e7"/><rect x="2399.5" y="2242.833" width="981.9" height="3.333" fill="#e7e7e7"/><rect x="2399.5" y="2072.833" width="981.9" height="3.333" fill="#e7e7e7"/><rect x="2399.5" y="1902.833" width="981.9" height="3.333" fill="#e7e7e7"/><g clip-path="url(#c22)"><path d="M2444.2,1596.1 2445.5,1647.9 2446.9,1694.5 2448.2,1732.4 2449.6,1752.6 2450.9,1759.7 2452.2,1773.5 2453.6,1786.3 2454.9,1796.7 2456.3,1805.9 2457.6,1814.0 2458.9,1815.5 2460.3,1817.9 2461.6,1824.1 2463.0,1827.0 2464.3,1835.3 2465.6,1840.9 2467.0,1851.3 2468.3,1859.3 2469.7,1861.2 2471.0,1864.7 2472.3,1865.9 2473.7,1865.9 2475.0,1865.6 2476.4,1863.5 2477.7,1867.2 2479.0,1867.7 2480.4,1866.9 2481.7,1872.8 2483.0,1879.2 2484.4,1879.9 2485.7,1885.7 2487.1,1880.8 2488.4,1877.3 2489.7,1883.8 2491.1,1890.8 2492.4,1888.5 2493.8,1889.7 2495.1,1888.7 2496.4,1886.5 2497.8,1888.3 2499.1,1894.7 2500.5,1893.4 2501.8,1904.0 2503.1,1905.8 2504.5,1905.1 2505.8,1902.6 2507.2,1901.5 2508.5,1904.5 2509.8,1907.6 2511.2,1909.0 2512.5,1913.2 2513.9,1915.2 2515.2,1911.7 2516.5,1913.8 2517.9,1917.1 2519.2,1914.7 2520.6,1920.2 2521.9,1921.9 2523.2,1927.2 2524.6,1934.7 2525.9,1932.0 2527.3,1936.4 2528.6,1934.8 2529.9,1940.1 2531.3,1941.2 2532.6,1947.2 2534.0,1951.8 2535.3,1952.3 2536.6,1958.2 2538.0,1961.9 2539.3,1961.2 2540.7,1964.6 2542.0,1962.6 2543.3,1966.1 2544.7,1966.0 2546.0,1964.6 2547.4,1967.3 2548.7,1966.3 2550.0,1964.7 2551.4,1966.9 2552.7,1967.1 2554.1,1964.9 2555.4,1967.9 2556.7,1967.1 2558.1,1968.7 2559.4,1965.9 2560.7,1967.5 2562.1,1965.5 2563.4,1969.3 2564.8,1974.3 2566.1,1976.2 2567.4,1979.3 2568.8,1986.9 2570.1,1987.6 2571.5,1984.8 2572.8,1986.9 2574.1,1989.7 2575.5,1997.7 2576.8,1993.0 2578.2,1992.4 2579.5,1992.2 2580.8,1987.2 2582.2,1994.0 2583.5,1996.1 2584.9,1998.8 2586.2,2000.2 2587.5,2003.7 2588.9,2004.1 2590.2,2006.5 2591.6,2007.7 2592.9,2005.9 2594.2,2000.1 2595.6,2001.5 2596.9,2001.6 2598.3,1999.8 2599.6,2005.7 2600.9,2007.1 2602.3,2008.0 2603.6,2003.1 2605.0,2003.9 2606.3,2003.5 2607.6,2009.4 2609.0,2005.3 2610.3,2006.7 2611.7,2006.5 2613.0,2011.3 2614.3,2006.1 2615.7,2007.4 2617.0,2015.0 2618.4,2021.1 2619.7,2026.0 2621.0,2022.4 2622.4,2025.9 2623.7,2027.5 2625.1,2026.0 2626.4,2027.7 2627.7,2031.1 2629.1,2037.9 2630.4,2041.4 2631.8,2043.4 2633.1,2043.6 2634.4,2043.3 2635.8,2048.4 2637.1,2047.4 2638.4,2045.9 2639.8,2047.4 2641.1,2047.7 2642.5,2044.9 2643.8,2043.9 2645.1,2043.2 2646.5,2042.3 2647.8,2045.4 2649.2,2047.1 2650.5,2046.1 2651.8,2051.2 2653.2,2053.2 2654.5,2055.3 2655.9,2059.1 2657.2,2051.4 2658.5,2050.5 2659.9,2047.6 2661.2,2047.2 2662.6,2050.5 2663.9,2054.6 2665.2,2057.9 2666.6,2053.0 2667.9,2055.2 2669.3,2056.6 2670.6,2059.8 2671.9,2057.5 2673.3,2056.5 2674.6,2052.5 2676.0,2049.4 2677.3,2055.3 2678.6,2058.0 2680.0,2057.8 2681.3,2058.8 2682.7,2064.8 2684.0,2069.7 2685.3,2064.7 2686.7,2066.8 2688.0,2068.6 2689.4,2072.2 2690.7,2074.4 2692.0,2078.0 2693.4,2079.6 2694.7,2079.2 2696.1,2080.7 2697.4,2079.0 2698.7,2084.8 2700.1,2086.7 2701.4,2084.9 2702.8,2083.0 2704.1,2080.9 2705.4,2076.6 2706.8,2078.7 2708.1,2080.9 2709.5,2079.0 2710.8,2090.5 2712.1,2087.8 2713.5,2083.9 2714.8,2081.6 2716.1,2087.4 2717.5,2092.4 2718.8,2096.5 2720.2,2097.4 2721.5,2100.8 2722.8,2098.7 2724.2,2100.7 2725.5,2100.1 2726.9,2100.7 2728.2,2104.6 2729.5,2106.9 2730.9,2112.6 2732.2,2109.6 2733.6,2106.3 2734.9,2108.6 2736.2,2109.8 2737.6,2109.0 2738.9,2112.9 2740.3,2115.7 2741.6,2115.1 2742.9,2109.0 2744.3,2111.0 2745.6,2112.0 2747.0,2115.5 2748.3,2114.7 2749.6,2112.1 2751.0,2111.8 2752.3,2113.1 2753.7,2110.6 2755.0,2110.4 2756.3,2117.2 2757.7,2117.4 2759.0,2113.9 2760.4,2113.1 2761.7,2112.6 2763.0,2107.3 2764.4,2105.9 2765.7,2108.3 2767.1,2107.1 2768.4,2117.7 2769.7,2118.4 2771.1,2119.7 2772.4,2121.6 2773.8,2121.2 2775.1,2121.3 2776.4,2123.3 2777.8,2127.4 2779.1,2121.4 2780.5,2112.7 2781.8,2113.7 2783.1,2113.8 2784.5,2118.9 2785.8,2124.5 2787.2,2131.4 2788.5,2136.5 2789.8,2134.7 2791.2,2135.6 2792.5,2139.3 2793.8,2144.6 2795.2,2150.7 2796.5,2148.1 2797.9,2145.6 2799.2,2148.7 2800.5,2149.5 2801.9,2144.0 2803.2,2144.5 2804.6,2145.5 2805.9,2146.2 2807.2,2150.9 2808.6,2152.3 2809.9,2147.8 2811.3,2147.3 2812.6,2148.3 2813.9,2159.1 2815.3,2161.3 2816.6,2160.1 2818.0,2163.1 2819.3,2160.8 2820.6,2164.1 2822.0,2162.6 2823.3,2164.3 2824.7,2163.8 2826.0,2160.4 2827.3,2161.4 2828.7,2167.8 2830.0,2168.6 2831.4,2168.6 2832.7,2173.6 2834.0,2168.5 2835.4,2166.5 2836.7,2167.9 2838.1,2177.4 2839.4,2173.4 2840.7,2176.8 2842.1,2179.2 2843.4,2176.8 2844.8,2182.0 2846.1,2182.0 2847.4,2184.5 2848.8,2175.8 2850.1,2180.6 2851.5,2186.5 2852.8,2192.6 2854.1,2190.5 2855.5,2191.7 2856.8,2192.7 2858.2,2189.7 2859.5,2187.5 2860.8,2180.6 2862.2,2185.8 2863.5,2191.3 2864.9,2192.8 2866.2,2191.9 2867.5,2194.3 2868.9,2191.1 2870.2,2192.9 2871.5,2191.6 2872.9,2187.3 2874.2,2186.1 2875.6,2185.2 2876.9,2190.8 2878.2,2195.5 2879.6,2199.5 2880.9,2195.8 2882.3,2191.5 2883.6,2191.4 2884.9,2190.6 2886.3,2191.7 2887.6,2194.9 2889.0,2196.8 2890.3,2189.3 2891.6,2182.3 2893.0,2184.0 2894.3,2187.5 2895.7,2192.2 2897.0,2199.7 2898.3,2204.4 2899.7,2203.8 2901.0,2203.4 2902.4,2196.6 2903.7,2194.2 2905.0,2194.6 2906.4,2192.3 2907.7,2196.5 2909.1,2199.8 2910.4,2198.7 2911.7,2202.0 2913.1,2202.4 2914.4,2199.0 2915.8,2196.4 2917.1,2196.7 2918.4,2196.7 2919.8,2199.5 2921.1,2207.3 2922.5,2210.1 2923.8,2207.3 2925.1,2210.6 2926.5,2215.8 2927.8,2209.1 2929.2,2213.9 2930.5,2216.6 2931.8,2216.4 2933.2,2210.0 2934.5,2212.3 2935.9,2215.0 2937.2,2212.6 2938.5,2213.5 2939.9,2215.8 2941.2,2222.7 2942.5,2229.0 2943.9,2227.6 2945.2,2223.6 2946.6,2221.9 2947.9,2221.9 2949.2,2218.3 2950.6,2221.1 2951.9,2222.8 2953.3,2220.6 2954.6,2219.0 2955.9,2219.2 2957.3,2221.2 2958.6,2221.9 2960.0,2219.6 2961.3,2224.3 2962.6,2225.4 2964.0,2225.4 2965.3,2219.8 2966.7,2218.9 2968.0,2216.6 2969.3,2222.2 2970.7,2221.6 2972.0,2222.0 2973.4,2225.7 2974.7,2228.8 2976.0,2223.8 2977.4,2225.7 2978.7,2222.9 2980.1,2229.2 2981.4,2232.6 2982.7,2235.5 2984.1,2236.9 2985.4,2241.6 2986.8,2237.9 2988.1,2239.7 2989.4,2239.4 2990.8,2236.9 2992.1,2238.0 2993.5,2241.9 2994.8,2248.5 2996.1,2254.4 2997.5,2251.9 2998.8,2251.9 3000.2,2248.4 3001.5,2251.9 3002.8,2252.7 3004.2,2252.1 3005.5,2254.5 3006.9,2255.2 3008.2,2257.9 3009.5,2255.6 3010.9,2256.0 3012.2,2256.7 3013.6,2256.9 3014.9,2262.6 3016.2,2263.3 3017.6,2273.0 3018.9,2269.4 3020.2,2267.4 3021.6,2272.1 3022.9,2273.2 3024.3,2268.5 3025.6,2267.0 3026.9,2267.8 3028.3,2266.3 3029.6,2266.8 3031.0,2268.4 3032.3,2269.2 3033.6,2266.3 3035.0,2265.2 3036.3,2268.0 3037.7,2258.9 3039.0,2255.6 3040.3,2257.3 3041.7,2257.7 3043.0,2267.8 3044.4,2271.9 3045.7,2275.2 3047.0,2280.6 3048.4,2279.1 3049.7,2274.6 3051.1,2267.0 3052.4,2259.9 3053.7,2263.3 3055.1,2266.8 3056.4,2273.7 3057.8,2281.6 3059.1,2275.3 3060.4,2271.1 3061.8,2273.1 3063.1,2272.4 3064.5,2273.3 3065.8,2272.3 3067.1,2279.4 3068.5,2278.1 3069.8,2280.8 3071.2,2272.4 3072.5,2270.5 3073.8,2265.0 3075.2,2263.6 3076.5,2263.6 3077.9,2269.1 3079.2,2269.2 3080.5,2268.4 3081.9,2269.8 3083.2,2271.4 3084.6,2274.3 3085.9,2280.1 3087.2,2285.0 3088.6,2285.7 3089.9,2288.9 3091.3,2289.3 3092.6,2292.2 3093.9,2288.8 3095.3,2287.8 3096.6,2292.5 3097.9,2291.1 3099.3,2291.8 3100.6,2288.0 3102.0,2283.5 3103.3,2283.6 3104.6,2284.9 3106.0,2283.9 3107.3,2281.8 3108.7,2280.0 3110.0,2285.8 3111.3,2286.8 3112.7,2291.1 3114.0,2289.0 3115.4,2289.1 3116.7,2291.4 3118.0,2291.1 3119.4,2289.1 3120.7,2287.5 3122.1,2284.9 3123.4,2285.9 3124.7,2289.5 3126.1,2289.1 3127.4,2285.5 3128.8,2288.1 3130.1,2288.9 3131.4,2290.1 3132.8,2293.5 3134.1,2290.2 3135.5,2296.8 3136.8,2293.1 3138.1,2297.9 3139.5,2291.4 3140.8,2291.0 3142.2,2290.7 3143.5,2290.1 3144.8,2288.0 3146.2,2286.5 3147.5,2288.9 3148.9,2283.9 3150.2,2289.4 3151.5,2296.1 3152.9,2299.9 3154.2,2299.6 3155.6,2297.0 3156.9,2301.2 3158.2,2300.7 3159.6,2305.0 3160.9,2304.8 3162.3,2301.9 3163.6,2299.6 3164.9,2299.9 3166.3,2301.5 3167.6,2301.3 3169.0,2297.1 3170.3,2298.6 3171.6,2303.1 3173.0,2306.9 3174.3,2308.6 3175.6,2302.7 3177.0,2305.7 3178.3,2307.6 3179.7,2307.7 3181.0,2305.8 3182.3,2303.7 3183.7,2302.9 3185.0,2303.3 3186.4,2305.5 3187.7,2299.9 3189.0,2293.9 3190.4,2298.2 3191.7,2299.4 3193.1,2297.7 3194.4,2305.3 3195.7,2304.5 3197.1,2302.7 3198.4,2303.5 3199.8,2308.9 3201.1,2312.4 3202.4,2314.3 3203.8,2311.9 3205.1,2309.9 3206.5,2308.6 3207.8,2310.5 3209.1,2313.5 3210.5,2314.6 3211.8,2315.3 3213.2,2317.6 3214.5,2309.6 3215.8,2311.0 3217.2,2317.9 3218.5,2315.7 3219.9,2317.8 3221.2,2315.9 3222.5,2315.8 3223.9,2310.2 3225.2,2313.5 3226.6,2316.0 3227.9,2317.0 3229.2,2317.7 3230.6,2316.6 3231.9,2316.4 3233.3,2316.2 3234.6,2319.3 3235.9,2317.8 3237.3,2315.9 3238.6,2319.8 3240.0,2319.4 3241.3,2323.7 3242.6,2323.9 3244.0,2322.3 3245.3,2322.2 3246.7,2330.9 3248.0,2327.3 3249.3,2324.7 3250.7,2325.1 3252.0,2326.3 3253.3,2328.8 3254.7,2324.8 3256.0,2325.0 3257.4,2320.4 3258.7,2324.0 3260.0,2323.3 3261.4,2319.5 3262.7,2323.3 3264.1,2323.3 3265.4,2329.5 3266.7,2331.7 3268.1,2336.7 3269.4,2334.4 3270.8,2331.2 3272.1,2331.0 3273.4,2326.9 3274.8,2325.1 3276.1,2325.4 3277.5,2326.7 3278.8,2327.8 3280.1,2332.2 3281.5,2326.5 3282.8,2324.4 3284.2,2328.4 3285.5,2333.7 3286.8,2335.4 3288.2,2337.4 3289.5,2340.4 3290.9,2348.8 3292.2,2341.7 3293.5,2337.6 3294.9,2337.1 3296.2,2334.6 3297.6,2337.0 3298.9,2338.1 3300.2,2338.6 3301.6,2336.3 3302.9,2337.1 3304.3,2341.4 3305.6,2344.7 3306.9,2345.2 3308.3,2345.4 3309.6,2345.9 3311.0,2345.3 3312.3,2344.0 3313.6,2344.6 3315.0,2342.7 3316.3,2339.6 3317.7,2342.1 3319.0,2338.4 3320.3,2344.2 3321.7,2337.7 3323.0,2344.3 3324.4,2347.6 3325.7,2349.2 3327.0,2347.4 3328.4,2345.8 3329.7,2346.3 3331.0,2346.9 3332.4,2348.5 3333.7,2349.2 3335.1,2355.4 3336.4,2359.1" fill="none" stroke="#e41a1c" stroke-opacity="0.31" stroke-width="6.25" stroke-linejoin="round" stroke-linecap="square"/><path d="M2444.2,1598.1 2445.5,1649.2 2446.9,1694.5 2448.2,1731.0 2449.6,1749.3 2450.9,1760.7 2452.2,1773.3 2453.6,1786.7 2454.9,1798.1 2456.3,1808.6 2457.6,1815.0 2458.9,1816.3 2460.3,1819.8 2461.6,1826.1 2463.0,1827.4 2464.3,1834.0 2465.6,1839.3 2467.0,1850.1 2468.3,1860.7 2469.7,1862.0 2471.0,1867.1 2472.3,1868.4 2473.7,1867.5 2475.0,1864.6 2476.4,1865.4 2477.7,1867.0 2479.0,1865.5 2480.4,1864.4 2481.7,1870.8 2483.0,1874.8 2484.4,1875.1 2485.7,1881.8 2487.1,1876.7 2488.4,1873.0 2489.7,1880.5 2491.1,1893.0 2492.4,1891.8 2493.8,1895.7 2495.1,1892.1 2496.4,1889.4 2497.8,1889.8 2499.1,1891.1 2500.5,1887.9 2501.8,1897.6 2503.1,1899.9 2504.5,1901.1 2505.8,1899.7 2507.2,1899.2 2508.5,1902.8 2509.8,1904.6 2511.2,1901.7 2512.5,1902.6 2513.9,1907.1 2515.2,1903.8 2516.5,1908.0 2517.9,1914.7 2519.2,1907.8 2520.6,1917.1 2521.9,1919.0 2523.2,1923.6 2524.6,1927.3 2525.9,1925.2 2527.3,1929.4 2528.6,1930.3 2529.9,1937.8 2531.3,1934.6 2532.6,1935.7 2534.0,1937.8 2535.3,1940.4 2536.6,1944.5 2538.0,1953.3 2539.3,1949.6 2540.7,1952.0 2542.0,1953.6 2543.3,1959.5 2544.7,1959.2 2546.0,1954.9 2547.4,1953.2 2548.7,1952.1 2550.0,1952.0 2551.4,1952.8 2552.7,1947.7 2554.1,1948.9 2555.4,1947.9 2556.7,1948.7 2558.1,1952.6 2559.4,1954.8 2560.7,1961.6 2562.1,1958.4 2563.4,1963.7 2564.8,1963.1 2566.1,1963.0 2567.4,1963.9 2568.8,1969.1 2570.1,1971.6 2571.5,1972.4 2572.8,1975.3 2574.1,1977.5 2575.5,1980.2 2576.8,1978.8 2578.2,1978.5 2579.5,1973.6 2580.8,1975.8 2582.2,1980.9 2583.5,1981.7 2584.9,1980.1 2586.2,1979.1 2587.5,1979.1 2588.9,1980.6 2590.2,1983.1 2591.6,1980.6 2592.9,1979.9 2594.2,1981.5 2595.6,1982.3 2596.9,1981.1 2598.3,1977.2 2599.6,1978.4 2600.9,1977.6 2602.3,1980.4 2603.6,1981.1 2605.0,1983.3 2606.3,1981.3 2607.6,1984.5 2609.0,1985.4 2610.3,1984.3 2611.7,1994.3 2613.0,1995.2 2614.3,1994.1 2615.7,1990.9 2617.0,1993.5 2618.4,2002.7 2619.7,2002.0 2621.0,2002.9 2622.4,2001.0 2623.7,2007.3 2625.1,2011.2 2626.4,2013.3 2627.7,2013.0 2629.1,2019.5 2630.4,2024.4 2631.8,2021.8 2633.1,2012.2 2634.4,2012.5 2635.8,2021.0 2637.1,2018.2 2638.4,2012.7 2639.8,2014.8 2641.1,2010.3 2642.5,2010.0 2643.8,2011.4 2645.1,2017.9 2646.5,2009.4 2647.8,2004.1 2649.2,2008.4 2650.5,2011.1 2651.8,2017.6 2653.2,2020.3 2654.5,2020.8 2655.9,2016.9 2657.2,2009.7 2658.5,2010.3 2659.9,2013.5 2661.2,2016.0 2662.6,2016.4 2663.9,2016.8 2665.2,2014.4 2666.6,2020.0 2667.9,2024.2 2669.3,2026.5 2670.6,2017.2 2671.9,2017.6 2673.3,2016.7 2674.6,2019.1 2676.0,2018.7 2677.3,2020.7 2678.6,2024.6 2680.0,2021.0 2681.3,2020.0 2682.7,2015.4 2684.0,2016.0 2685.3,2023.4 2686.7,2023.8 2688.0,2027.9 2689.4,2026.9 2690.7,2033.8 2692.0,2036.1 2693.4,2040.5 2694.7,2040.6 2696.1,2043.6 2697.4,2038.5 2698.7,2044.4 2700.1,2042.5 2701.4,2040.0 2702.8,2041.4 2704.1,2041.2 2705.4,2043.7 2706.8,2041.6 2708.1,2041.7 2709.5,2040.4 2710.8,2048.0 2712.1,2044.1 2713.5,2042.3 2714.8,2048.0 2716.1,2048.7 2717.5,2045.0 2718.8,2050.5 2720.2,2049.5 2721.5,2051.4 2722.8,2049.1 2724.2,2052.2 2725.5,2057.5 2726.9,2055.0 2728.2,2063.1 2729.5,2067.0 2730.9,2072.2 2732.2,2071.8 2733.6,2068.6 2734.9,2064.3 2736.2,2060.7 2737.6,2057.9 2738.9,2057.2 2740.3,2055.1 2741.6,2058.9 2742.9,2056.3 2744.3,2061.7 2745.6,2068.5 2747.0,2068.9 2748.3,2073.9 2749.6,2072.2 2751.0,2074.8 2752.3,2071.9 2753.7,2066.9 2755.0,2067.9 2756.3,2077.4 2757.7,2074.1 2759.0,2070.1 2760.4,2074.9 2761.7,2074.5 2763.0,2074.1 2764.4,2081.1 2765.7,2076.7 2767.1,2074.5 2768.4,2075.1 2769.7,2068.4 2771.1,2071.9 2772.4,2075.3 2773.8,2072.8 2775.1,2069.6 2776.4,2071.8 2777.8,2072.6 2779.1,2075.1 2780.5,2069.5 2781.8,2068.2 2783.1,2070.3 2784.5,2069.1 2785.8,2068.5 2787.2,2073.0 2788.5,2074.7 2789.8,2081.1 2791.2,2089.8 2792.5,2087.7 2793.8,2096.9 2795.2,2099.4 2796.5,2096.2 2797.9,2096.1 2799.2,2095.2 2800.5,2093.4 2801.9,2094.2 2803.2,2093.4 2804.6,2093.6 2805.9,2099.3 2807.2,2105.1 2808.6,2105.5 2809.9,2102.1 2811.3,2099.3 2812.6,2100.4 2813.9,2109.8 2815.3,2110.1 2816.6,2117.7 2818.0,2125.8 2819.3,2133.4 2820.6,2130.0 2822.0,2131.7 2823.3,2133.9 2824.7,2131.6 2826.0,2133.1 2827.3,2136.3 2828.7,2130.7 2830.0,2124.3 2831.4,2125.4 2832.7,2125.1 2834.0,2124.9 2835.4,2123.6 2836.7,2123.8 2838.1,2124.2 2839.4,2125.9 2840.7,2129.0 2842.1,2136.8 2843.4,2138.5 2844.8,2139.6 2846.1,2138.4 2847.4,2139.7 2848.8,2135.1 2850.1,2137.3 2851.5,2139.8 2852.8,2132.1 2854.1,2129.2 2855.5,2131.4 2856.8,2131.8 2858.2,2128.9 2859.5,2131.1 2860.8,2135.0 2862.2,2135.9 2863.5,2134.0 2864.9,2127.1 2866.2,2126.5 2867.5,2132.8 2868.9,2134.2 2870.2,2132.0 2871.5,2139.0 2872.9,2141.5 2874.2,2141.6 2875.6,2140.8 2876.9,2140.9 2878.2,2142.8 2879.6,2141.9 2880.9,2135.4 2882.3,2132.0 2883.6,2134.7 2884.9,2130.0 2886.3,2127.0 2887.6,2128.7 2889.0,2129.4 2890.3,2135.3 2891.6,2141.9 2893.0,2134.6 2894.3,2136.0 2895.7,2137.2 2897.0,2135.6 2898.3,2136.4 2899.7,2142.7 2901.0,2143.9 2902.4,2136.3 2903.7,2131.0 2905.0,2127.1 2906.4,2135.5 2907.7,2137.8 2909.1,2139.0 2910.4,2137.8 2911.7,2135.1 2913.1,2137.4 2914.4,2135.7 2915.8,2144.1 2917.1,2146.5 2918.4,2149.5 2919.8,2142.8 2921.1,2139.6 2922.5,2136.4 2923.8,2136.4 2925.1,2140.1 2926.5,2149.7 2927.8,2154.3 2929.2,2160.9 2930.5,2169.0 2931.8,2165.8 2933.2,2169.7 2934.5,2166.7 2935.9,2161.4 2937.2,2162.8 2938.5,2165.9 2939.9,2169.8 2941.2,2170.3 2942.5,2172.2 2943.9,2170.4 2945.2,2169.0 2946.6,2161.9 2947.9,2168.6 2949.2,2177.5 2950.6,2178.8 2951.9,2179.1 2953.3,2178.9 2954.6,2175.9 2955.9,2175.4 2957.3,2171.7 2958.6,2174.5 2960.0,2176.3 2961.3,2175.7 2962.6,2182.0 2964.0,2188.2 2965.3,2188.0 2966.7,2183.8 2968.0,2179.7 2969.3,2178.2 2970.7,2181.1 2972.0,2179.6 2973.4,2176.9 2974.7,2177.5 2976.0,2183.9 2977.4,2186.3 2978.7,2183.6 2980.1,2185.4 2981.4,2183.2 2982.7,2183.8 2984.1,2184.5 2985.4,2181.0 2986.8,2186.2 2988.1,2186.8 2989.4,2183.9 2990.8,2187.9 2992.1,2187.7 2993.5,2183.6 2994.8,2189.1 2996.1,2191.0 2997.5,2198.1 2998.8,2199.8 3000.2,2194.5 3001.5,2188.0 3002.8,2188.4 3004.2,2189.7 3005.5,2183.7 3006.9,2183.9 3008.2,2182.4 3009.5,2189.2 3010.9,2192.5 3012.2,2196.2 3013.6,2202.0 3014.9,2201.9 3016.2,2203.4 3017.6,2197.8 3018.9,2197.5 3020.2,2195.4 3021.6,2197.1 3022.9,2200.0 3024.3,2202.5 3025.6,2200.6 3026.9,2203.6 3028.3,2202.9 3029.6,2207.9 3031.0,2208.9 3032.3,2203.3 3033.6,2201.5 3035.0,2201.2 3036.3,2208.3 3037.7,2207.8 3039.0,2202.7 3040.3,2205.1 3041.7,2207.1 3043.0,2208.7 3044.4,2209.9 3045.7,2209.8 3047.0,2206.0 3048.4,2199.0 3049.7,2205.7 3051.1,2208.5 3052.4,2212.5 3053.7,2212.1 3055.1,2215.8 3056.4,2212.7 3057.8,2213.0 3059.1,2213.1 3060.4,2210.2 3061.8,2208.3 3063.1,2205.0 3064.5,2206.4 3065.8,2214.9 3067.1,2216.8 3068.5,2208.9 3069.8,2212.4 3071.2,2218.9 3072.5,2223.0 3073.8,2221.2 3075.2,2220.7 3076.5,2214.7 3077.9,2209.6 3079.2,2214.0 3080.5,2213.1 3081.9,2215.6 3083.2,2215.8 3084.6,2214.5 3085.9,2219.4 3087.2,2218.9 3088.6,2218.5 3089.9,2220.5 3091.3,2223.1 3092.6,2222.9 3093.9,2226.4 3095.3,2227.2 3096.6,2233.6 3097.9,2235.8 3099.3,2232.8 3100.6,2231.6 3102.0,2231.0 3103.3,2231.3 3104.6,2235.3 3106.0,2233.0 3107.3,2239.3 3108.7,2240.9 3110.0,2239.2 3111.3,2238.4 3112.7,2239.5 3114.0,2242.3 3115.4,2244.5 3116.7,2249.6 3118.0,2248.1 3119.4,2244.6 3120.7,2238.8 3122.1,2236.2 3123.4,2242.2 3124.7,2241.2 3126.1,2242.2 3127.4,2240.5 3128.8,2239.6 3130.1,2234.4 3131.4,2231.6 3132.8,2235.9 3134.1,2241.8 3135.5,2238.0 3136.8,2239.0 3138.1,2235.5 3139.5,2239.8 3140.8,2238.9 3142.2,2239.0 3143.5,2235.1 3144.8,2236.5 3146.2,2238.2 3147.5,2243.1 3148.9,2244.4 3150.2,2243.4 3151.5,2242.6 3152.9,2243.5 3154.2,2239.1 3155.6,2241.3 3156.9,2247.9 3158.2,2247.5 3159.6,2256.5 3160.9,2254.1 3162.3,2254.3 3163.6,2251.4 3164.9,2246.1 3166.3,2243.2 3167.6,2246.4 3169.0,2251.9 3170.3,2251.4 3171.6,2251.4 3173.0,2252.1 3174.3,2254.5 3175.6,2252.4 3177.0,2252.8 3178.3,2254.9 3179.7,2251.8 3181.0,2258.1 3182.3,2257.5 3183.7,2256.7 3185.0,2253.7 3186.4,2250.1 3187.7,2252.3 3189.0,2254.8 3190.4,2253.6 3191.7,2256.2 3193.1,2253.0 3194.4,2250.1 3195.7,2247.1 3197.1,2252.5 3198.4,2248.5 3199.8,2250.0 3201.1,2253.9 3202.4,2259.3 3203.8,2260.3 3205.1,2256.8 3206.5,2258.1 3207.8,2263.5 3209.1,2264.3 3210.5,2261.6 3211.8,2258.1 3213.2,2258.7 3214.5,2260.4 3215.8,2262.5 3217.2,2261.9 3218.5,2263.7 3219.9,2265.0 3221.2,2266.1 3222.5,2266.3 3223.9,2263.6 3225.2,2268.5 3226.6,2268.9 3227.9,2265.9 3229.2,2264.7 3230.6,2260.9 3231.9,2262.6 3233.3,2265.0 3234.6,2271.3 3235.9,2272.9 3237.3,2270.5 3238.6,2272.5 3240.0,2267.9 3241.3,2271.5 3242.6,2271.3 3244.0,2279.2 3245.3,2279.1 3246.7,2275.9 3248.0,2275.0 3249.3,2272.1 3250.7,2274.0 3252.0,2274.9 3253.3,2275.7 3254.7,2282.7 3256.0,2287.8 3257.4,2287.4 3258.7,2289.2 3260.0,2290.5 3261.4,2293.3 3262.7,2284.6 3264.1,2283.1 3265.4,2285.0 3266.7,2284.5 3268.1,2284.9 3269.4,2281.1 3270.8,2280.5 3272.1,2281.6 3273.4,2280.4 3274.8,2286.8 3276.1,2290.0 3277.5,2293.1 3278.8,2291.2 3280.1,2293.7 3281.5,2293.8 3282.8,2293.5 3284.2,2291.2 3285.5,2290.1 3286.8,2291.0 3288.2,2288.4 3289.5,2291.7 3290.9,2289.6 3292.2,2287.9 3293.5,2289.4 3294.9,2295.7 3296.2,2295.6 3297.6,2292.5 3298.9,2290.0 3300.2,2291.7 3301.6,2292.7 3302.9,2295.3 3304.3,2291.9 3305.6,2288.2 3306.9,2285.3 3308.3,2282.7 3309.6,2285.7 3311.0,2293.9 3312.3,2299.7 3313.6,2301.9 3315.0,2298.3 3316.3,2297.4 3317.7,2296.7 3319.0,2294.1 3320.3,2296.3 3321.7,2296.9 3323.0,2299.5 3324.4,2305.7 3325.7,2306.8 3327.0,2305.2 3328.4,2304.7 3329.7,2297.6 3331.0,2297.6 3332.4,2301.5 3333.7,2307.1 3335.1,2305.9 3336.4,2303.9" fill="none" stroke="#377eb8" stroke-opacity="0.31" stroke-width="6.25" stroke-linejoin="round" stroke-linecap="square"/></g><rect x="2397.833" y="1811.833" width="985.333" height="3.333" fill="#000"/><rect x="2397.833" y="2411.833" width="985.333" height="3.333" fill="#000"/><rect x="2397.833" y="1811.833" width="3.333" height="603.333" fill="#000"/><rect x="3379.833" y="1811.833" width="3.333" height="603.333" fill="#000"/><rect x="2384.4" y="2411.833" width="15.1" height="3.333" fill="#000"/><rect x="2384.4" y="2242.833" width="15.1" height="3.333" fill="#000"/><rect x="2384.4" y="2072.833" width="15.1" height="3.333" fill="#000"/><rect x="2384.4" y="1902.833" width="15.1" height="3.333" fill="#000"/><rect x="2442.833" y="2413.8" width="3.333" height="15.1" fill="#000"/><rect x="2665.833" y="2413.8" width="3.333" height="15.1" fill="#000"/><rect x="2888.833" y="2413.8" width="3.333" height="15.1" fill="#000"/><rect x="3112.833" y="2413.8" width="3.333" height="15.1" fill="#000"/><rect x="3335.833" y="2413.8" width="3.333" height="15.1" fill="#000"/><text x="2370.3" y="2429.4" text-anchor="end" class="tl" textLength="66.25" lengthAdjust="spacingAndGlyphs">0.0</text><text x="2370.3" y="2259.8" text-anchor="end" class="tl" textLength="66.25" lengthAdjust="spacingAndGlyphs">0.5</text><text x="2370.3" y="2090.1" text-anchor="end" class="tl" textLength="66.25" lengthAdjust="spacingAndGlyphs">1.0</text><text x="2370.3" y="1922.0" text-anchor="end" class="tl" textLength="66.25" lengthAdjust="spacingAndGlyphs">1.5</text><text x="2444.2" y="2474.9" text-anchor="middle" class="tl" textLength="26.50" lengthAdjust="spacingAndGlyphs">0</text><text x="2667.5" y="2474.9" text-anchor="middle" class="tl" textLength="79.50" lengthAdjust="spacingAndGlyphs">500</text><text x="2890.8" y="2474.9" text-anchor="middle" class="tl" textLength="106.00" lengthAdjust="spacingAndGlyphs">1000</text><text x="3114.0" y="2474.9" text-anchor="middle" class="tl" textLength="106.00" lengthAdjust="spacingAndGlyphs">1500</text><text x="3337.3" y="2474.9" text-anchor="middle" class="tl" textLength="105.88" lengthAdjust="spacingAndGlyphs">2000</text><text x="2890.4" y="1788.6" text-anchor="middle" class="st" textLength="372.25" lengthAdjust="spacingAndGlyphs">depth=5, width=2048</text>
<text x="1712.6" y="68.1" text-anchor="middle" class="sup" textLength="413.2" lengthAdjust="spacingAndGlyphs">loss - mfp_adam</text>
<rect x="1158.0" y="2673.0" width="1109.0" height="132.7" rx="8" ry="8" fill="#ffffff" fill-opacity="0.8" stroke="#cccccc" stroke-opacity="0.8" stroke-width="3.33"/>
<text x="1713.5" y="2725.4" text-anchor="middle" class="lt9" textLength="91.46" lengthAdjust="spacingAndGlyphs">Runs</text>
<rect x="1178.9" y="2759.78" width="56.1" height="6.25" fill="#e41a1c" fill-opacity="0.38"/>
<rect x="1781.0" y="2759.78" width="56.0" height="6.25" fill="#377eb8" fill-opacity="0.38"/>
<text x="1257.0" y="2774.8" class="lt8" textLength="500.70" lengthAdjust="spacingAndGlyphs">measured_alignment_const_lr</text>
<text x="1862.2" y="2774.8" class="lt8" textLength="382.60" lengthAdjust="spacingAndGlyphs">full_alignment_const_lr</text>
</svg></body></html>
